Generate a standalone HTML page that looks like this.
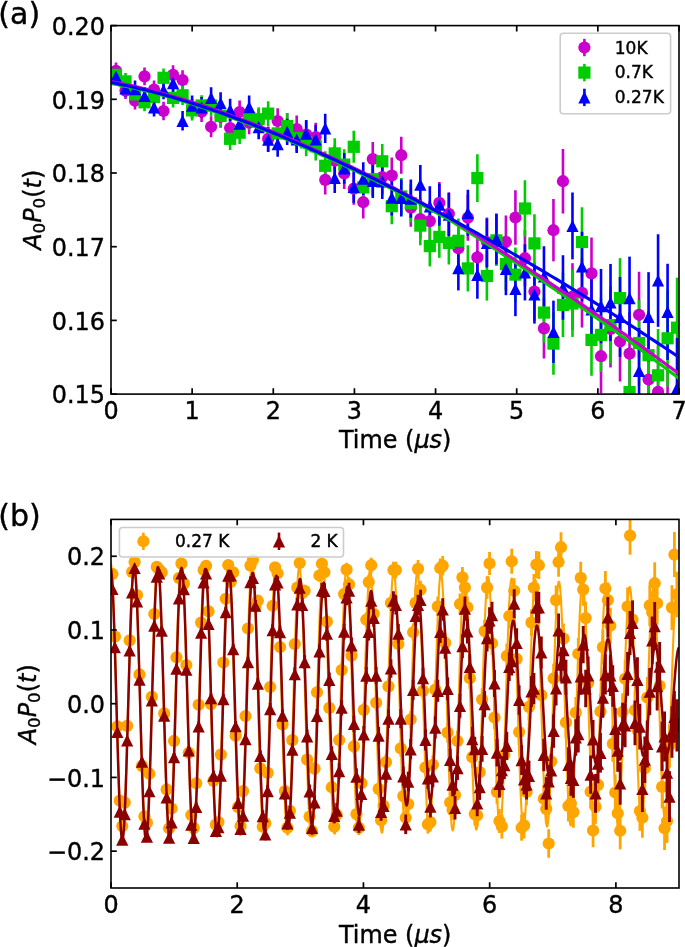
<!DOCTYPE html>
<html><head><meta charset="utf-8"><title>figure</title>
<style>html,body{margin:0;padding:0;background:#fff}svg{display:block}svg{will-change:transform}text{stroke:#000;stroke-width:0.4px;paint-order:stroke fill}</style></head>
<body>
<svg width="685" height="947" viewBox="0 0 685 947" font-family='"DejaVu Sans", "Liberation Sans", sans-serif' fill="#000">
<rect width="685" height="947" fill="#fff"/>
<defs><clipPath id="ca"><rect x="111.0" y="25.6" width="568.0" height="368.5"/></clipPath><clipPath id="cb"><rect x="111.0" y="519.4" width="568.0" height="368.6"/></clipPath></defs>
<g clip-path="url(#ca)">
<path d="M116.00 62.60V79.20" stroke="#cc00cc" stroke-width="2.6" fill="none"/>
<path d="M125.51 82.11V99.09" stroke="#cc00cc" stroke-width="2.6" fill="none"/>
<path d="M135.02 92.11V109.49" stroke="#cc00cc" stroke-width="2.6" fill="none"/>
<path d="M144.53 67.50V85.30" stroke="#cc00cc" stroke-width="2.6" fill="none"/>
<path d="M154.04 80.39V98.61" stroke="#cc00cc" stroke-width="2.6" fill="none"/>
<path d="M163.55 101.67V120.33" stroke="#cc00cc" stroke-width="2.6" fill="none"/>
<path d="M173.06 65.34V84.46" stroke="#cc00cc" stroke-width="2.6" fill="none"/>
<path d="M182.57 70.20V89.80" stroke="#cc00cc" stroke-width="2.6" fill="none"/>
<path d="M192.08 98.95V119.05" stroke="#cc00cc" stroke-width="2.6" fill="none"/>
<path d="M201.59 101.40V122.00" stroke="#cc00cc" stroke-width="2.6" fill="none"/>
<path d="M211.10 116.23V137.37" stroke="#cc00cc" stroke-width="2.6" fill="none"/>
<path d="M220.61 105.96V127.64" stroke="#cc00cc" stroke-width="2.6" fill="none"/>
<path d="M230.12 116.88V139.12" stroke="#cc00cc" stroke-width="2.6" fill="none"/>
<path d="M239.63 100.58V123.42" stroke="#cc00cc" stroke-width="2.6" fill="none"/>
<path d="M249.14 110.88V134.32" stroke="#cc00cc" stroke-width="2.6" fill="none"/>
<path d="M258.65 108.96V133.04" stroke="#cc00cc" stroke-width="2.6" fill="none"/>
<path d="M268.16 126.53V151.27" stroke="#cc00cc" stroke-width="2.6" fill="none"/>
<path d="M277.67 108.29V133.71" stroke="#cc00cc" stroke-width="2.6" fill="none"/>
<path d="M287.18 112.94V139.06" stroke="#cc00cc" stroke-width="2.6" fill="none"/>
<path d="M296.69 115.58V142.42" stroke="#cc00cc" stroke-width="2.6" fill="none"/>
<path d="M306.20 120.70V148.30" stroke="#cc00cc" stroke-width="2.6" fill="none"/>
<path d="M315.71 122.80V151.20" stroke="#cc00cc" stroke-width="2.6" fill="none"/>
<path d="M325.22 165.29V194.51" stroke="#cc00cc" stroke-width="2.6" fill="none"/>
<path d="M334.73 145.57V175.63" stroke="#cc00cc" stroke-width="2.6" fill="none"/>
<path d="M344.24 158.03V188.97" stroke="#cc00cc" stroke-width="2.6" fill="none"/>
<path d="M353.75 172.77V204.63" stroke="#cc00cc" stroke-width="2.6" fill="none"/>
<path d="M363.26 185.79V218.61" stroke="#cc00cc" stroke-width="2.6" fill="none"/>
<path d="M372.77 142.10V175.90" stroke="#cc00cc" stroke-width="2.6" fill="none"/>
<path d="M382.28 159.59V194.41" stroke="#cc00cc" stroke-width="2.6" fill="none"/>
<path d="M391.79 157.55V193.45" stroke="#cc00cc" stroke-width="2.6" fill="none"/>
<path d="M401.30 136.70V173.70" stroke="#cc00cc" stroke-width="2.6" fill="none"/>
<path d="M410.81 188.62V226.78" stroke="#cc00cc" stroke-width="2.6" fill="none"/>
<path d="M420.32 199.32V238.68" stroke="#cc00cc" stroke-width="2.6" fill="none"/>
<path d="M429.83 200.80V241.40" stroke="#cc00cc" stroke-width="2.6" fill="none"/>
<path d="M439.34 181.95V223.85" stroke="#cc00cc" stroke-width="2.6" fill="none"/>
<path d="M448.85 192.18V235.42" stroke="#cc00cc" stroke-width="2.6" fill="none"/>
<path d="M458.36 225.97V270.63" stroke="#cc00cc" stroke-width="2.6" fill="none"/>
<path d="M467.87 194.74V240.86" stroke="#cc00cc" stroke-width="2.6" fill="none"/>
<path d="M477.38 233.58V281.22" stroke="#cc00cc" stroke-width="2.6" fill="none"/>
<path d="M486.89 217.39V266.61" stroke="#cc00cc" stroke-width="2.6" fill="none"/>
<path d="M496.40 214.56V265.44" stroke="#cc00cc" stroke-width="2.6" fill="none"/>
<path d="M505.91 215.50V268.10" stroke="#cc00cc" stroke-width="2.6" fill="none"/>
<path d="M515.42 190.31V244.69" stroke="#cc00cc" stroke-width="2.6" fill="none"/>
<path d="M524.93 230.07V286.33" stroke="#cc00cc" stroke-width="2.6" fill="none"/>
<path d="M534.44 262.40V320.60" stroke="#cc00cc" stroke-width="2.6" fill="none"/>
<path d="M543.95 298.28V358.52" stroke="#cc00cc" stroke-width="2.6" fill="none"/>
<path d="M553.46 199.03V261.37" stroke="#cc00cc" stroke-width="2.6" fill="none"/>
<path d="M562.97 148.92V213.48" stroke="#cc00cc" stroke-width="2.6" fill="none"/>
<path d="M572.48 263.17V330.03" stroke="#cc00cc" stroke-width="2.6" fill="none"/>
<path d="M581.99 258.27V327.53" stroke="#cc00cc" stroke-width="2.6" fill="none"/>
<path d="M591.50 237.52V309.28" stroke="#cc00cc" stroke-width="2.6" fill="none"/>
<path d="M601.01 319.01V393.39" stroke="#cc00cc" stroke-width="2.6" fill="none"/>
<path d="M610.52 290.34V367.46" stroke="#cc00cc" stroke-width="2.6" fill="none"/>
<path d="M620.03 301.52V381.48" stroke="#cc00cc" stroke-width="2.6" fill="none"/>
<path d="M629.54 312.13V395.07" stroke="#cc00cc" stroke-width="2.6" fill="none"/>
<path d="M639.05 271.77V357.83" stroke="#cc00cc" stroke-width="2.6" fill="none"/>
<path d="M648.56 334.85V424.15" stroke="#cc00cc" stroke-width="2.6" fill="none"/>
<path d="M658.07 345.55V438.25" stroke="#cc00cc" stroke-width="2.6" fill="none"/>
<path d="M667.58 363.87V460.13" stroke="#cc00cc" stroke-width="2.6" fill="none"/>
<path d="M677.09 370.01V469.99" stroke="#cc00cc" stroke-width="2.6" fill="none"/>
<path d="M116.00 66.50V83.10" stroke="#00cc00" stroke-width="2.6" fill="none"/>
<path d="M125.51 72.91V89.89" stroke="#00cc00" stroke-width="2.6" fill="none"/>
<path d="M135.02 85.71V103.09" stroke="#00cc00" stroke-width="2.6" fill="none"/>
<path d="M144.53 93.40V111.20" stroke="#00cc00" stroke-width="2.6" fill="none"/>
<path d="M154.04 87.89V106.11" stroke="#00cc00" stroke-width="2.6" fill="none"/>
<path d="M163.55 68.47V87.13" stroke="#00cc00" stroke-width="2.6" fill="none"/>
<path d="M173.06 88.34V107.46" stroke="#00cc00" stroke-width="2.6" fill="none"/>
<path d="M182.57 85.50V105.10" stroke="#00cc00" stroke-width="2.6" fill="none"/>
<path d="M192.08 100.35V120.45" stroke="#00cc00" stroke-width="2.6" fill="none"/>
<path d="M201.59 95.20V115.80" stroke="#00cc00" stroke-width="2.6" fill="none"/>
<path d="M211.10 95.03V116.17" stroke="#00cc00" stroke-width="2.6" fill="none"/>
<path d="M220.61 105.16V126.84" stroke="#00cc00" stroke-width="2.6" fill="none"/>
<path d="M230.12 127.68V149.92" stroke="#00cc00" stroke-width="2.6" fill="none"/>
<path d="M239.63 121.28V144.12" stroke="#00cc00" stroke-width="2.6" fill="none"/>
<path d="M249.14 106.28V129.72" stroke="#00cc00" stroke-width="2.6" fill="none"/>
<path d="M258.65 107.16V131.24" stroke="#00cc00" stroke-width="2.6" fill="none"/>
<path d="M268.16 101.23V125.97" stroke="#00cc00" stroke-width="2.6" fill="none"/>
<path d="M277.67 120.69V146.11" stroke="#00cc00" stroke-width="2.6" fill="none"/>
<path d="M287.18 112.94V139.06" stroke="#00cc00" stroke-width="2.6" fill="none"/>
<path d="M296.69 124.58V151.42" stroke="#00cc00" stroke-width="2.6" fill="none"/>
<path d="M306.20 128.60V156.20" stroke="#00cc00" stroke-width="2.6" fill="none"/>
<path d="M315.71 132.10V160.50" stroke="#00cc00" stroke-width="2.6" fill="none"/>
<path d="M325.22 151.19V180.41" stroke="#00cc00" stroke-width="2.6" fill="none"/>
<path d="M334.73 138.37V168.43" stroke="#00cc00" stroke-width="2.6" fill="none"/>
<path d="M344.24 149.13V180.07" stroke="#00cc00" stroke-width="2.6" fill="none"/>
<path d="M353.75 130.87V162.73" stroke="#00cc00" stroke-width="2.6" fill="none"/>
<path d="M363.26 170.99V203.81" stroke="#00cc00" stroke-width="2.6" fill="none"/>
<path d="M372.77 162.30V196.10" stroke="#00cc00" stroke-width="2.6" fill="none"/>
<path d="M382.28 143.89V178.71" stroke="#00cc00" stroke-width="2.6" fill="none"/>
<path d="M391.79 188.25V224.15" stroke="#00cc00" stroke-width="2.6" fill="none"/>
<path d="M401.30 178.00V215.00" stroke="#00cc00" stroke-width="2.6" fill="none"/>
<path d="M410.81 184.22V222.38" stroke="#00cc00" stroke-width="2.6" fill="none"/>
<path d="M420.32 205.92V245.28" stroke="#00cc00" stroke-width="2.6" fill="none"/>
<path d="M429.83 225.80V266.40" stroke="#00cc00" stroke-width="2.6" fill="none"/>
<path d="M439.34 215.95V257.85" stroke="#00cc00" stroke-width="2.6" fill="none"/>
<path d="M448.85 221.28V264.52" stroke="#00cc00" stroke-width="2.6" fill="none"/>
<path d="M458.36 218.47V263.13" stroke="#00cc00" stroke-width="2.6" fill="none"/>
<path d="M467.87 245.34V291.46" stroke="#00cc00" stroke-width="2.6" fill="none"/>
<path d="M477.38 154.28V201.92" stroke="#00cc00" stroke-width="2.6" fill="none"/>
<path d="M486.89 251.39V300.61" stroke="#00cc00" stroke-width="2.6" fill="none"/>
<path d="M496.40 214.96V265.84" stroke="#00cc00" stroke-width="2.6" fill="none"/>
<path d="M505.91 237.80V290.40" stroke="#00cc00" stroke-width="2.6" fill="none"/>
<path d="M515.42 247.41V301.79" stroke="#00cc00" stroke-width="2.6" fill="none"/>
<path d="M524.93 180.37V236.63" stroke="#00cc00" stroke-width="2.6" fill="none"/>
<path d="M534.44 214.30V272.50" stroke="#00cc00" stroke-width="2.6" fill="none"/>
<path d="M543.95 282.48V342.72" stroke="#00cc00" stroke-width="2.6" fill="none"/>
<path d="M553.46 312.43V374.77" stroke="#00cc00" stroke-width="2.6" fill="none"/>
<path d="M562.97 272.62V337.18" stroke="#00cc00" stroke-width="2.6" fill="none"/>
<path d="M572.48 270.07V336.93" stroke="#00cc00" stroke-width="2.6" fill="none"/>
<path d="M581.99 207.37V276.63" stroke="#00cc00" stroke-width="2.6" fill="none"/>
<path d="M591.50 304.02V375.78" stroke="#00cc00" stroke-width="2.6" fill="none"/>
<path d="M601.01 297.71V372.09" stroke="#00cc00" stroke-width="2.6" fill="none"/>
<path d="M610.52 286.54V363.66" stroke="#00cc00" stroke-width="2.6" fill="none"/>
<path d="M620.03 258.12V338.08" stroke="#00cc00" stroke-width="2.6" fill="none"/>
<path d="M629.54 350.63V433.57" stroke="#00cc00" stroke-width="2.6" fill="none"/>
<path d="M639.05 299.97V386.03" stroke="#00cc00" stroke-width="2.6" fill="none"/>
<path d="M648.56 310.55V399.85" stroke="#00cc00" stroke-width="2.6" fill="none"/>
<path d="M658.07 328.95V421.65" stroke="#00cc00" stroke-width="2.6" fill="none"/>
<path d="M667.58 290.17V386.43" stroke="#00cc00" stroke-width="2.6" fill="none"/>
<path d="M677.09 277.71V377.69" stroke="#00cc00" stroke-width="2.6" fill="none"/>
<path d="M116.00 68.20V84.80" stroke="#0000ff" stroke-width="2.6" fill="none"/>
<path d="M125.51 80.01V96.99" stroke="#0000ff" stroke-width="2.6" fill="none"/>
<path d="M135.02 80.51V97.89" stroke="#0000ff" stroke-width="2.6" fill="none"/>
<path d="M144.53 86.90V104.70" stroke="#0000ff" stroke-width="2.6" fill="none"/>
<path d="M154.04 98.29V116.51" stroke="#0000ff" stroke-width="2.6" fill="none"/>
<path d="M163.55 80.67V99.33" stroke="#0000ff" stroke-width="2.6" fill="none"/>
<path d="M173.06 73.54V92.66" stroke="#0000ff" stroke-width="2.6" fill="none"/>
<path d="M182.57 111.00V130.60" stroke="#0000ff" stroke-width="2.6" fill="none"/>
<path d="M192.08 95.55V115.65" stroke="#0000ff" stroke-width="2.6" fill="none"/>
<path d="M201.59 97.10V117.70" stroke="#0000ff" stroke-width="2.6" fill="none"/>
<path d="M211.10 87.23V108.37" stroke="#0000ff" stroke-width="2.6" fill="none"/>
<path d="M220.61 92.26V113.94" stroke="#0000ff" stroke-width="2.6" fill="none"/>
<path d="M230.12 98.68V120.92" stroke="#0000ff" stroke-width="2.6" fill="none"/>
<path d="M239.63 112.28V135.12" stroke="#0000ff" stroke-width="2.6" fill="none"/>
<path d="M249.14 95.38V118.82" stroke="#0000ff" stroke-width="2.6" fill="none"/>
<path d="M258.65 115.16V139.24" stroke="#0000ff" stroke-width="2.6" fill="none"/>
<path d="M268.16 127.33V152.07" stroke="#0000ff" stroke-width="2.6" fill="none"/>
<path d="M277.67 131.39V156.81" stroke="#0000ff" stroke-width="2.6" fill="none"/>
<path d="M287.18 118.84V144.96" stroke="#0000ff" stroke-width="2.6" fill="none"/>
<path d="M296.69 126.08V152.92" stroke="#0000ff" stroke-width="2.6" fill="none"/>
<path d="M306.20 119.90V147.50" stroke="#0000ff" stroke-width="2.6" fill="none"/>
<path d="M315.71 125.10V153.50" stroke="#0000ff" stroke-width="2.6" fill="none"/>
<path d="M325.22 113.79V143.01" stroke="#0000ff" stroke-width="2.6" fill="none"/>
<path d="M334.73 162.87V192.93" stroke="#0000ff" stroke-width="2.6" fill="none"/>
<path d="M344.24 152.93V183.87" stroke="#0000ff" stroke-width="2.6" fill="none"/>
<path d="M353.75 170.87V202.73" stroke="#0000ff" stroke-width="2.6" fill="none"/>
<path d="M363.26 162.19V195.01" stroke="#0000ff" stroke-width="2.6" fill="none"/>
<path d="M372.77 164.10V197.90" stroke="#0000ff" stroke-width="2.6" fill="none"/>
<path d="M382.28 164.09V198.91" stroke="#0000ff" stroke-width="2.6" fill="none"/>
<path d="M391.79 179.65V215.55" stroke="#0000ff" stroke-width="2.6" fill="none"/>
<path d="M401.30 179.50V216.50" stroke="#0000ff" stroke-width="2.6" fill="none"/>
<path d="M410.81 179.52V217.68" stroke="#0000ff" stroke-width="2.6" fill="none"/>
<path d="M420.32 164.92V204.28" stroke="#0000ff" stroke-width="2.6" fill="none"/>
<path d="M429.83 186.20V226.80" stroke="#0000ff" stroke-width="2.6" fill="none"/>
<path d="M439.34 183.75V225.65" stroke="#0000ff" stroke-width="2.6" fill="none"/>
<path d="M448.85 192.98V236.22" stroke="#0000ff" stroke-width="2.6" fill="none"/>
<path d="M458.36 245.77V290.43" stroke="#0000ff" stroke-width="2.6" fill="none"/>
<path d="M467.87 189.74V235.86" stroke="#0000ff" stroke-width="2.6" fill="none"/>
<path d="M477.38 251.08V298.72" stroke="#0000ff" stroke-width="2.6" fill="none"/>
<path d="M486.89 218.39V267.61" stroke="#0000ff" stroke-width="2.6" fill="none"/>
<path d="M496.40 213.46V264.34" stroke="#0000ff" stroke-width="2.6" fill="none"/>
<path d="M505.91 242.60V295.20" stroke="#0000ff" stroke-width="2.6" fill="none"/>
<path d="M515.42 261.81V316.19" stroke="#0000ff" stroke-width="2.6" fill="none"/>
<path d="M524.93 244.17V300.43" stroke="#0000ff" stroke-width="2.6" fill="none"/>
<path d="M534.44 265.40V323.60" stroke="#0000ff" stroke-width="2.6" fill="none"/>
<path d="M543.95 246.28V306.52" stroke="#0000ff" stroke-width="2.6" fill="none"/>
<path d="M553.46 300.63V362.97" stroke="#0000ff" stroke-width="2.6" fill="none"/>
<path d="M562.97 255.22V319.78" stroke="#0000ff" stroke-width="2.6" fill="none"/>
<path d="M572.48 192.47V259.33" stroke="#0000ff" stroke-width="2.6" fill="none"/>
<path d="M581.99 231.87V301.13" stroke="#0000ff" stroke-width="2.6" fill="none"/>
<path d="M591.50 273.42V345.18" stroke="#0000ff" stroke-width="2.6" fill="none"/>
<path d="M601.01 268.91V343.29" stroke="#0000ff" stroke-width="2.6" fill="none"/>
<path d="M610.52 263.94V341.06" stroke="#0000ff" stroke-width="2.6" fill="none"/>
<path d="M620.03 276.92V356.88" stroke="#0000ff" stroke-width="2.6" fill="none"/>
<path d="M629.54 256.63V339.57" stroke="#0000ff" stroke-width="2.6" fill="none"/>
<path d="M639.05 327.97V414.03" stroke="#0000ff" stroke-width="2.6" fill="none"/>
<path d="M648.56 272.15V361.45" stroke="#0000ff" stroke-width="2.6" fill="none"/>
<path d="M658.07 234.15V326.85" stroke="#0000ff" stroke-width="2.6" fill="none"/>
<path d="M667.58 263.77V360.03" stroke="#0000ff" stroke-width="2.6" fill="none"/>
<path d="M677.09 338.01V437.99" stroke="#0000ff" stroke-width="2.6" fill="none"/>
<circle cx="116.00" cy="70.90" r="6.10" fill="#cc00cc"/>
<circle cx="125.51" cy="90.60" r="6.10" fill="#cc00cc"/>
<circle cx="135.02" cy="100.80" r="6.10" fill="#cc00cc"/>
<circle cx="144.53" cy="76.40" r="6.10" fill="#cc00cc"/>
<circle cx="154.04" cy="89.50" r="6.10" fill="#cc00cc"/>
<circle cx="163.55" cy="111.00" r="6.10" fill="#cc00cc"/>
<circle cx="173.06" cy="74.90" r="6.10" fill="#cc00cc"/>
<circle cx="182.57" cy="80.00" r="6.10" fill="#cc00cc"/>
<circle cx="192.08" cy="109.00" r="6.10" fill="#cc00cc"/>
<circle cx="201.59" cy="111.70" r="6.10" fill="#cc00cc"/>
<circle cx="211.10" cy="126.80" r="6.10" fill="#cc00cc"/>
<circle cx="220.61" cy="116.80" r="6.10" fill="#cc00cc"/>
<circle cx="230.12" cy="128.00" r="6.10" fill="#cc00cc"/>
<circle cx="239.63" cy="112.00" r="6.10" fill="#cc00cc"/>
<circle cx="249.14" cy="122.60" r="6.10" fill="#cc00cc"/>
<circle cx="258.65" cy="121.00" r="6.10" fill="#cc00cc"/>
<circle cx="268.16" cy="138.90" r="6.10" fill="#cc00cc"/>
<circle cx="277.67" cy="121.00" r="6.10" fill="#cc00cc"/>
<circle cx="287.18" cy="126.00" r="6.10" fill="#cc00cc"/>
<circle cx="296.69" cy="129.00" r="6.10" fill="#cc00cc"/>
<circle cx="306.20" cy="134.50" r="6.10" fill="#cc00cc"/>
<circle cx="315.71" cy="137.00" r="6.10" fill="#cc00cc"/>
<circle cx="325.22" cy="179.90" r="6.10" fill="#cc00cc"/>
<circle cx="334.73" cy="160.60" r="6.10" fill="#cc00cc"/>
<circle cx="344.24" cy="173.50" r="6.10" fill="#cc00cc"/>
<circle cx="353.75" cy="188.70" r="6.10" fill="#cc00cc"/>
<circle cx="363.26" cy="202.20" r="6.10" fill="#cc00cc"/>
<circle cx="372.77" cy="159.00" r="6.10" fill="#cc00cc"/>
<circle cx="382.28" cy="177.00" r="6.10" fill="#cc00cc"/>
<circle cx="391.79" cy="175.50" r="6.10" fill="#cc00cc"/>
<circle cx="401.30" cy="155.20" r="6.10" fill="#cc00cc"/>
<circle cx="410.81" cy="207.70" r="6.10" fill="#cc00cc"/>
<circle cx="420.32" cy="219.00" r="6.10" fill="#cc00cc"/>
<circle cx="429.83" cy="221.10" r="6.10" fill="#cc00cc"/>
<circle cx="439.34" cy="202.90" r="6.10" fill="#cc00cc"/>
<circle cx="448.85" cy="213.80" r="6.10" fill="#cc00cc"/>
<circle cx="458.36" cy="248.30" r="6.10" fill="#cc00cc"/>
<circle cx="467.87" cy="217.80" r="6.10" fill="#cc00cc"/>
<circle cx="477.38" cy="257.40" r="6.10" fill="#cc00cc"/>
<circle cx="486.89" cy="242.00" r="6.10" fill="#cc00cc"/>
<circle cx="496.40" cy="240.00" r="6.10" fill="#cc00cc"/>
<circle cx="505.91" cy="241.80" r="6.10" fill="#cc00cc"/>
<circle cx="515.42" cy="217.50" r="6.10" fill="#cc00cc"/>
<circle cx="524.93" cy="258.20" r="6.10" fill="#cc00cc"/>
<circle cx="534.44" cy="291.50" r="6.10" fill="#cc00cc"/>
<circle cx="543.95" cy="328.40" r="6.10" fill="#cc00cc"/>
<circle cx="553.46" cy="230.20" r="6.10" fill="#cc00cc"/>
<circle cx="562.97" cy="181.20" r="6.10" fill="#cc00cc"/>
<circle cx="572.48" cy="296.60" r="6.10" fill="#cc00cc"/>
<circle cx="581.99" cy="292.90" r="6.10" fill="#cc00cc"/>
<circle cx="591.50" cy="273.40" r="6.10" fill="#cc00cc"/>
<circle cx="601.01" cy="356.20" r="6.10" fill="#cc00cc"/>
<circle cx="610.52" cy="328.90" r="6.10" fill="#cc00cc"/>
<circle cx="620.03" cy="341.50" r="6.10" fill="#cc00cc"/>
<circle cx="629.54" cy="353.60" r="6.10" fill="#cc00cc"/>
<circle cx="639.05" cy="314.80" r="6.10" fill="#cc00cc"/>
<circle cx="648.56" cy="379.50" r="6.10" fill="#cc00cc"/>
<circle cx="658.07" cy="391.90" r="6.10" fill="#cc00cc"/>
<circle cx="667.58" cy="412.00" r="6.10" fill="#cc00cc"/>
<circle cx="677.09" cy="420.00" r="6.10" fill="#cc00cc"/>
<rect x="109.90" y="68.70" width="12.20" height="12.20" fill="#00cc00"/>
<rect x="119.41" y="75.30" width="12.20" height="12.20" fill="#00cc00"/>
<rect x="128.92" y="88.30" width="12.20" height="12.20" fill="#00cc00"/>
<rect x="138.43" y="96.20" width="12.20" height="12.20" fill="#00cc00"/>
<rect x="147.94" y="90.90" width="12.20" height="12.20" fill="#00cc00"/>
<rect x="157.45" y="71.70" width="12.20" height="12.20" fill="#00cc00"/>
<rect x="166.96" y="91.80" width="12.20" height="12.20" fill="#00cc00"/>
<rect x="176.47" y="89.20" width="12.20" height="12.20" fill="#00cc00"/>
<rect x="185.98" y="104.30" width="12.20" height="12.20" fill="#00cc00"/>
<rect x="195.49" y="99.40" width="12.20" height="12.20" fill="#00cc00"/>
<rect x="205.00" y="99.50" width="12.20" height="12.20" fill="#00cc00"/>
<rect x="214.51" y="109.90" width="12.20" height="12.20" fill="#00cc00"/>
<rect x="224.02" y="132.70" width="12.20" height="12.20" fill="#00cc00"/>
<rect x="233.53" y="126.60" width="12.20" height="12.20" fill="#00cc00"/>
<rect x="243.04" y="111.90" width="12.20" height="12.20" fill="#00cc00"/>
<rect x="252.55" y="113.10" width="12.20" height="12.20" fill="#00cc00"/>
<rect x="262.06" y="107.50" width="12.20" height="12.20" fill="#00cc00"/>
<rect x="271.57" y="127.30" width="12.20" height="12.20" fill="#00cc00"/>
<rect x="281.08" y="119.90" width="12.20" height="12.20" fill="#00cc00"/>
<rect x="290.59" y="131.90" width="12.20" height="12.20" fill="#00cc00"/>
<rect x="300.10" y="136.30" width="12.20" height="12.20" fill="#00cc00"/>
<rect x="309.61" y="140.20" width="12.20" height="12.20" fill="#00cc00"/>
<rect x="319.12" y="159.70" width="12.20" height="12.20" fill="#00cc00"/>
<rect x="328.63" y="147.30" width="12.20" height="12.20" fill="#00cc00"/>
<rect x="338.14" y="158.50" width="12.20" height="12.20" fill="#00cc00"/>
<rect x="347.65" y="140.70" width="12.20" height="12.20" fill="#00cc00"/>
<rect x="357.16" y="181.30" width="12.20" height="12.20" fill="#00cc00"/>
<rect x="366.67" y="173.10" width="12.20" height="12.20" fill="#00cc00"/>
<rect x="376.18" y="155.20" width="12.20" height="12.20" fill="#00cc00"/>
<rect x="385.69" y="200.10" width="12.20" height="12.20" fill="#00cc00"/>
<rect x="395.20" y="190.40" width="12.20" height="12.20" fill="#00cc00"/>
<rect x="404.71" y="197.20" width="12.20" height="12.20" fill="#00cc00"/>
<rect x="414.22" y="219.50" width="12.20" height="12.20" fill="#00cc00"/>
<rect x="423.73" y="240.00" width="12.20" height="12.20" fill="#00cc00"/>
<rect x="433.24" y="230.80" width="12.20" height="12.20" fill="#00cc00"/>
<rect x="442.75" y="236.80" width="12.20" height="12.20" fill="#00cc00"/>
<rect x="452.26" y="234.70" width="12.20" height="12.20" fill="#00cc00"/>
<rect x="461.77" y="262.30" width="12.20" height="12.20" fill="#00cc00"/>
<rect x="471.28" y="172.00" width="12.20" height="12.20" fill="#00cc00"/>
<rect x="480.79" y="269.90" width="12.20" height="12.20" fill="#00cc00"/>
<rect x="490.30" y="234.30" width="12.20" height="12.20" fill="#00cc00"/>
<rect x="499.81" y="258.00" width="12.20" height="12.20" fill="#00cc00"/>
<rect x="509.32" y="268.50" width="12.20" height="12.20" fill="#00cc00"/>
<rect x="518.83" y="202.40" width="12.20" height="12.20" fill="#00cc00"/>
<rect x="528.34" y="237.30" width="12.20" height="12.20" fill="#00cc00"/>
<rect x="537.85" y="306.50" width="12.20" height="12.20" fill="#00cc00"/>
<rect x="547.36" y="337.50" width="12.20" height="12.20" fill="#00cc00"/>
<rect x="556.87" y="298.80" width="12.20" height="12.20" fill="#00cc00"/>
<rect x="566.38" y="297.40" width="12.20" height="12.20" fill="#00cc00"/>
<rect x="575.89" y="235.90" width="12.20" height="12.20" fill="#00cc00"/>
<rect x="585.40" y="333.80" width="12.20" height="12.20" fill="#00cc00"/>
<rect x="594.91" y="328.80" width="12.20" height="12.20" fill="#00cc00"/>
<rect x="604.42" y="319.00" width="12.20" height="12.20" fill="#00cc00"/>
<rect x="613.93" y="292.00" width="12.20" height="12.20" fill="#00cc00"/>
<rect x="623.44" y="386.00" width="12.20" height="12.20" fill="#00cc00"/>
<rect x="632.95" y="336.90" width="12.20" height="12.20" fill="#00cc00"/>
<rect x="642.46" y="349.10" width="12.20" height="12.20" fill="#00cc00"/>
<rect x="651.97" y="369.20" width="12.20" height="12.20" fill="#00cc00"/>
<rect x="661.48" y="332.20" width="12.20" height="12.20" fill="#00cc00"/>
<rect x="670.99" y="321.60" width="12.20" height="12.20" fill="#00cc00"/>
<path d="M116.00 70.40L122.10 82.60L109.90 82.60Z" fill="#0000ff"/>
<path d="M125.51 82.40L131.61 94.60L119.41 94.60Z" fill="#0000ff"/>
<path d="M135.02 83.10L141.12 95.30L128.92 95.30Z" fill="#0000ff"/>
<path d="M144.53 89.70L150.63 101.90L138.43 101.90Z" fill="#0000ff"/>
<path d="M154.04 101.30L160.14 113.50L147.94 113.50Z" fill="#0000ff"/>
<path d="M163.55 83.90L169.65 96.10L157.45 96.10Z" fill="#0000ff"/>
<path d="M173.06 77.00L179.16 89.20L166.96 89.20Z" fill="#0000ff"/>
<path d="M182.57 114.70L188.67 126.90L176.47 126.90Z" fill="#0000ff"/>
<path d="M192.08 99.50L198.18 111.70L185.98 111.70Z" fill="#0000ff"/>
<path d="M201.59 101.30L207.69 113.50L195.49 113.50Z" fill="#0000ff"/>
<path d="M211.10 91.70L217.20 103.90L205.00 103.90Z" fill="#0000ff"/>
<path d="M220.61 97.00L226.71 109.20L214.51 109.20Z" fill="#0000ff"/>
<path d="M230.12 103.70L236.22 115.90L224.02 115.90Z" fill="#0000ff"/>
<path d="M239.63 117.60L245.73 129.80L233.53 129.80Z" fill="#0000ff"/>
<path d="M249.14 101.00L255.24 113.20L243.04 113.20Z" fill="#0000ff"/>
<path d="M258.65 121.10L264.75 133.30L252.55 133.30Z" fill="#0000ff"/>
<path d="M268.16 133.60L274.26 145.80L262.06 145.80Z" fill="#0000ff"/>
<path d="M277.67 138.00L283.77 150.20L271.57 150.20Z" fill="#0000ff"/>
<path d="M287.18 125.80L293.28 138.00L281.08 138.00Z" fill="#0000ff"/>
<path d="M296.69 133.40L302.79 145.60L290.59 145.60Z" fill="#0000ff"/>
<path d="M306.20 127.60L312.30 139.80L300.10 139.80Z" fill="#0000ff"/>
<path d="M315.71 133.20L321.81 145.40L309.61 145.40Z" fill="#0000ff"/>
<path d="M325.22 122.30L331.32 134.50L319.12 134.50Z" fill="#0000ff"/>
<path d="M334.73 171.80L340.83 184.00L328.63 184.00Z" fill="#0000ff"/>
<path d="M344.24 162.30L350.34 174.50L338.14 174.50Z" fill="#0000ff"/>
<path d="M353.75 180.70L359.85 192.90L347.65 192.90Z" fill="#0000ff"/>
<path d="M363.26 172.50L369.36 184.70L357.16 184.70Z" fill="#0000ff"/>
<path d="M372.77 174.90L378.87 187.10L366.67 187.10Z" fill="#0000ff"/>
<path d="M382.28 175.40L388.38 187.60L376.18 187.60Z" fill="#0000ff"/>
<path d="M391.79 191.50L397.89 203.70L385.69 203.70Z" fill="#0000ff"/>
<path d="M401.30 191.90L407.40 204.10L395.20 204.10Z" fill="#0000ff"/>
<path d="M410.81 192.50L416.91 204.70L404.71 204.70Z" fill="#0000ff"/>
<path d="M420.32 178.50L426.42 190.70L414.22 190.70Z" fill="#0000ff"/>
<path d="M429.83 200.40L435.93 212.60L423.73 212.60Z" fill="#0000ff"/>
<path d="M439.34 198.60L445.44 210.80L433.24 210.80Z" fill="#0000ff"/>
<path d="M448.85 208.50L454.95 220.70L442.75 220.70Z" fill="#0000ff"/>
<path d="M458.36 262.00L464.46 274.20L452.26 274.20Z" fill="#0000ff"/>
<path d="M467.87 206.70L473.97 218.90L461.77 218.90Z" fill="#0000ff"/>
<path d="M477.38 268.80L483.48 281.00L471.28 281.00Z" fill="#0000ff"/>
<path d="M486.89 236.90L492.99 249.10L480.79 249.10Z" fill="#0000ff"/>
<path d="M496.40 232.80L502.50 245.00L490.30 245.00Z" fill="#0000ff"/>
<path d="M505.91 262.80L512.01 275.00L499.81 275.00Z" fill="#0000ff"/>
<path d="M515.42 282.90L521.52 295.10L509.32 295.10Z" fill="#0000ff"/>
<path d="M524.93 266.20L531.03 278.40L518.83 278.40Z" fill="#0000ff"/>
<path d="M534.44 288.40L540.54 300.60L528.34 300.60Z" fill="#0000ff"/>
<path d="M543.95 270.30L550.05 282.50L537.85 282.50Z" fill="#0000ff"/>
<path d="M553.46 325.70L559.56 337.90L547.36 337.90Z" fill="#0000ff"/>
<path d="M562.97 281.40L569.07 293.60L556.87 293.60Z" fill="#0000ff"/>
<path d="M572.48 219.80L578.58 232.00L566.38 232.00Z" fill="#0000ff"/>
<path d="M581.99 260.40L588.09 272.60L575.89 272.60Z" fill="#0000ff"/>
<path d="M591.50 303.20L597.60 315.40L585.40 315.40Z" fill="#0000ff"/>
<path d="M601.01 300.00L607.11 312.20L594.91 312.20Z" fill="#0000ff"/>
<path d="M610.52 296.40L616.62 308.60L604.42 308.60Z" fill="#0000ff"/>
<path d="M620.03 310.80L626.13 323.00L613.93 323.00Z" fill="#0000ff"/>
<path d="M629.54 292.00L635.64 304.20L623.44 304.20Z" fill="#0000ff"/>
<path d="M639.05 364.90L645.15 377.10L632.95 377.10Z" fill="#0000ff"/>
<path d="M648.56 310.70L654.66 322.90L642.46 322.90Z" fill="#0000ff"/>
<path d="M658.07 274.40L664.17 286.60L651.97 286.60Z" fill="#0000ff"/>
<path d="M667.58 305.80L673.68 318.00L661.48 318.00Z" fill="#0000ff"/>
<path d="M677.09 381.90L683.19 394.10L670.99 394.10Z" fill="#0000ff"/>
<polyline points="111.00,83.41 115.09,84.20 119.17,85.02 123.26,85.86 127.35,86.74 131.43,87.64 135.52,88.57 139.60,89.53 143.69,90.52 147.78,91.53 151.86,92.58 155.95,93.64 160.04,94.74 164.12,95.86 168.21,97.00 172.29,98.17 176.38,99.36 180.47,100.58 184.55,101.82 188.64,103.09 192.73,104.37 196.81,105.68 200.90,107.01 204.99,108.37 209.07,109.74 213.16,111.14 217.24,112.56 221.33,114.00 225.42,115.46 229.50,116.94 233.59,118.43 237.68,119.95 241.76,121.49 245.85,123.04 249.94,124.62 254.02,126.21 258.11,127.82 262.19,129.45 266.28,131.09 270.37,132.76 274.45,134.44 278.54,136.13 282.63,137.84 286.71,139.57 290.80,141.32 294.88,143.08 298.97,144.85 303.06,146.65 307.14,148.46 311.23,150.28 315.32,152.12 319.40,153.98 323.49,155.84 327.58,157.73 331.66,159.62 335.75,161.53 339.83,163.45 343.92,165.39 348.01,167.34 352.09,169.30 356.18,171.27 360.27,173.26 364.35,175.25 368.44,177.26 372.53,179.28 376.61,181.32 380.70,183.36 384.78,185.42 388.87,187.48 392.96,189.56 397.04,191.65 401.13,193.77 405.22,195.93 409.30,198.11 413.39,200.30 417.47,202.50 421.56,204.71 425.65,206.93 429.73,209.16 433.82,211.40 437.91,213.64 441.99,215.90 446.08,218.17 450.17,220.46 454.25,223.04 458.34,225.63 462.42,228.22 466.51,230.83 470.60,233.44 474.68,236.06 478.77,238.70 482.86,241.34 486.94,243.99 491.03,246.65 495.12,249.32 499.20,252.01 503.29,254.70 507.37,257.39 511.46,260.10 515.55,262.82 519.63,265.54 523.72,268.28 527.81,271.02 531.89,273.78 535.98,276.54 540.06,279.31 544.15,282.09 548.24,284.88 552.32,287.67 556.41,290.48 560.50,293.29 564.58,296.05 568.67,298.82 572.76,301.61 576.84,304.40 580.93,307.20 585.01,310.00 589.10,312.82 593.19,315.65 597.27,318.49 601.36,321.34 605.45,324.20 609.53,327.06 613.62,329.99 617.71,332.94 621.79,335.90 625.88,338.86 629.96,341.84 634.05,344.83 638.14,347.83 642.22,350.84 646.31,353.86 650.40,356.89 654.48,359.93 658.57,362.99 662.65,366.05 666.74,369.13 670.83,372.22 674.91,375.32 679.00,378.40" fill="none" stroke="#00cc00" stroke-width="3.1" stroke-linejoin="round"/>
<polyline points="111.00,81.41 115.09,82.20 119.17,83.01 123.26,83.86 127.35,84.73 131.43,85.63 135.52,86.56 139.60,87.52 143.69,88.50 147.78,89.52 151.86,90.55 155.95,91.62 160.04,92.71 164.12,93.83 168.21,94.97 172.29,96.14 176.38,97.33 180.47,98.54 184.55,99.78 188.64,101.04 192.73,102.33 196.81,103.64 200.90,104.97 204.99,106.32 209.07,107.69 213.16,109.09 217.24,110.50 221.33,111.94 225.42,113.40 229.50,114.87 233.59,116.37 237.68,117.88 241.76,119.42 245.85,120.97 249.94,122.54 254.02,124.14 258.11,125.74 262.19,127.37 266.28,129.01 270.37,130.67 274.45,132.35 278.54,134.04 282.63,135.75 286.71,137.48 290.80,139.22 294.88,140.98 298.97,142.75 303.06,144.55 307.14,146.36 311.23,148.18 315.32,150.02 319.40,151.88 323.49,153.74 327.58,155.63 331.66,157.52 335.75,159.43 339.83,161.35 343.92,163.29 348.01,165.24 352.09,167.20 356.18,169.17 360.27,171.16 364.35,173.15 368.44,175.16 372.53,177.18 376.61,179.22 380.70,181.26 384.78,183.32 388.87,185.38 392.96,187.46 397.04,189.55 401.13,191.67 405.22,193.84 409.30,196.03 413.39,198.23 417.47,200.43 421.56,202.65 425.65,204.88 429.73,207.12 433.82,209.36 437.91,211.62 441.99,213.89 446.08,216.16 450.17,218.46 454.25,221.03 458.34,223.60 462.42,226.19 466.51,228.78 470.60,231.39 474.68,234.00 478.77,236.62 482.86,239.25 486.94,241.89 491.03,244.51 495.12,247.12 499.20,249.73 503.29,252.36 507.37,255.00 511.46,257.64 515.55,260.30 519.63,262.96 523.72,265.63 527.81,268.31 531.89,271.01 535.98,273.70 540.06,276.41 544.15,279.13 548.24,281.86 552.32,284.59 556.41,287.34 560.50,290.09 564.58,292.83 568.67,295.57 572.76,298.33 576.84,301.09 580.93,303.87 585.01,306.65 589.10,309.45 593.19,312.25 597.27,315.07 601.36,317.89 605.45,320.72 609.53,323.57 613.62,326.43 617.71,329.30 621.79,332.19 625.88,335.08 629.96,337.99 634.05,340.91 638.14,343.83 642.22,346.77 646.31,349.72 650.40,352.68 654.48,355.65 658.57,358.64 662.65,361.63 666.74,364.64 670.83,367.66 674.91,370.69 679.00,373.70" fill="none" stroke="#cc00cc" stroke-width="3.1" stroke-linejoin="round"/>
<polyline points="111.00,82.51 115.09,83.30 119.17,84.11 123.26,84.96 127.35,85.83 131.43,86.73 135.52,87.66 139.60,88.62 143.69,89.60 147.78,90.62 151.86,91.65 155.95,92.72 160.04,93.81 164.12,94.93 168.21,96.07 172.29,97.24 176.38,98.43 180.47,99.64 184.55,100.88 188.64,102.14 192.73,103.43 196.81,104.74 200.90,106.07 204.99,107.42 209.07,108.79 213.16,110.19 217.24,111.60 221.33,113.04 225.42,114.50 229.50,115.97 233.59,117.47 237.68,118.98 241.76,120.52 245.85,122.07 249.94,123.64 254.02,125.24 258.11,126.84 262.19,128.47 266.28,130.11 270.37,131.77 274.45,133.45 278.54,135.14 282.63,136.85 286.71,138.58 290.80,140.32 294.88,142.08 298.97,143.85 303.06,145.64 307.14,147.44 311.23,149.26 315.32,151.09 319.40,152.94 323.49,154.80 327.58,156.67 331.66,158.56 335.75,160.46 339.83,162.37 343.92,164.30 348.01,166.24 352.09,168.19 356.18,170.16 360.27,172.14 364.35,174.12 368.44,176.13 372.53,178.14 376.61,180.16 380.70,182.20 384.78,184.25 388.87,186.31 392.96,188.38 397.04,190.46 401.13,192.55 405.22,194.65 409.30,196.76 413.39,198.89 417.47,201.02 421.56,203.16 425.65,205.32 429.73,207.48 433.82,209.65 437.91,211.84 441.99,214.03 446.08,216.23 450.17,218.45 454.25,220.67 458.34,222.90 462.42,225.14 466.51,227.39 470.60,229.65 474.68,231.92 478.77,234.20 482.86,236.49 486.94,238.78 491.03,241.09 495.12,243.40 499.20,245.73 503.29,248.06 507.37,250.40 511.46,252.75 515.55,255.11 519.63,257.48 523.72,259.85 527.81,262.24 531.89,264.64 535.98,267.04 540.06,269.45 544.15,271.87 548.24,274.31 552.32,276.75 556.41,279.20 560.50,281.65 564.58,284.12 568.67,286.60 572.76,289.09 576.84,291.58 580.93,294.09 585.01,296.60 589.10,299.13 593.19,301.66 597.27,304.21 601.36,306.76 605.45,309.32 609.53,311.90 613.62,314.48 617.71,317.08 621.79,319.68 625.88,322.30 629.96,324.92 634.05,327.56 638.14,330.21 642.22,332.86 646.31,335.53 650.40,338.21 654.48,340.91 658.57,343.61 662.65,346.32 666.74,349.05 670.83,351.79 674.91,354.54 679.00,357.30" fill="none" stroke="#0000ff" stroke-width="3.1" stroke-linejoin="round"/>
</g>
<path d="M111.00 394.1v-5.8M111.00 25.6v5.8" stroke="#000" stroke-width="1.7"/>
<path d="M192.14 394.1v-5.8M192.14 25.6v5.8" stroke="#000" stroke-width="1.7"/>
<path d="M273.29 394.1v-5.8M273.29 25.6v5.8" stroke="#000" stroke-width="1.7"/>
<path d="M354.43 394.1v-5.8M354.43 25.6v5.8" stroke="#000" stroke-width="1.7"/>
<path d="M435.57 394.1v-5.8M435.57 25.6v5.8" stroke="#000" stroke-width="1.7"/>
<path d="M516.71 394.1v-5.8M516.71 25.6v5.8" stroke="#000" stroke-width="1.7"/>
<path d="M597.86 394.1v-5.8M597.86 25.6v5.8" stroke="#000" stroke-width="1.7"/>
<path d="M679.00 394.1v-5.8M679.00 25.6v5.8" stroke="#000" stroke-width="1.7"/>
<path d="M111.0 394.10h5.8" stroke="#000" stroke-width="1.7"/>
<path d="M111.0 320.40h5.8" stroke="#000" stroke-width="1.7"/>
<path d="M111.0 246.70h5.8" stroke="#000" stroke-width="1.7"/>
<path d="M111.0 173.00h5.8" stroke="#000" stroke-width="1.7"/>
<path d="M111.0 99.30h5.8" stroke="#000" stroke-width="1.7"/>
<path d="M111.0 25.60h5.8" stroke="#000" stroke-width="1.7"/>
<rect x="111.0" y="25.6" width="568.0" height="368.5" fill="none" stroke="#000" stroke-width="1.6"/>
<text x="111.00" y="418.70" font-size="23.9" text-anchor="middle" >0</text>
<text x="192.14" y="418.70" font-size="23.9" text-anchor="middle" >1</text>
<text x="273.29" y="418.70" font-size="23.9" text-anchor="middle" >2</text>
<text x="354.43" y="418.70" font-size="23.9" text-anchor="middle" >3</text>
<text x="435.57" y="418.70" font-size="23.9" text-anchor="middle" >4</text>
<text x="516.71" y="418.70" font-size="23.9" text-anchor="middle" >5</text>
<text x="597.86" y="418.70" font-size="23.9" text-anchor="middle" >6</text>
<text x="679.00" y="418.70" font-size="23.9" text-anchor="middle" >7</text>
<text x="105.00" y="403.30" font-size="23.9" text-anchor="end" >0.15</text>
<text x="105.00" y="329.60" font-size="23.9" text-anchor="end" >0.16</text>
<text x="105.00" y="255.90" font-size="23.9" text-anchor="end" >0.17</text>
<text x="105.00" y="182.20" font-size="23.9" text-anchor="end" >0.18</text>
<text x="105.00" y="108.50" font-size="23.9" text-anchor="end" >0.19</text>
<text x="105.00" y="34.80" font-size="23.9" text-anchor="end" >0.20</text>
<text x="395.20" y="447.90" font-size="23.9" text-anchor="middle" >Time (<tspan font-style="italic">μs</tspan>)</text>
<text transform="translate(40.9 209.8) rotate(-90)" font-size="23.9" text-anchor="middle"><tspan font-style="italic">A</tspan><tspan font-size="16.73" dy="3.8">0</tspan><tspan font-style="italic" dy="-3.8">P</tspan><tspan font-size="16.73" dy="3.8">0</tspan><tspan dy="-3.8">(</tspan><tspan font-style="italic">t</tspan>)</text>
<text x="-1.70" y="23.60" font-size="30" text-anchor="start" >(a)</text>
<rect x="560.2" y="33.3" width="110.4" height="80.4" rx="3.3" fill="#fff" fill-opacity="0.8" stroke="#ccc" stroke-width="1.6"/>
<path d="M584.40 38.85V56.25" stroke="#cc00cc" stroke-width="2.6" fill="none"/>
<circle cx="584.40" cy="47.55" r="6.10" fill="#cc00cc"/>
<path d="M584.40 63.90V81.30" stroke="#00cc00" stroke-width="2.6" fill="none"/>
<rect x="578.30" y="66.50" width="12.20" height="12.20" fill="#00cc00"/>
<path d="M584.40 88.70V106.10" stroke="#0000ff" stroke-width="2.6" fill="none"/>
<path d="M584.40 91.30L590.50 103.50L578.30 103.50Z" fill="#0000ff"/>
<text x="614.80" y="53.50" font-size="17.0" text-anchor="start" >10K</text>
<text x="614.80" y="78.30" font-size="17.0" text-anchor="start" >0.7K</text>
<text x="614.80" y="103.00" font-size="17.0" text-anchor="start" >0.27K</text>
<g clip-path="url(#cb)">
<path d="M112.40 570.98V576.90" stroke="#ffa500" stroke-width="2.8" fill="none"/>
<path d="M114.87 633.64V639.62" stroke="#ffa500" stroke-width="2.8" fill="none"/>
<path d="M117.33 723.45V729.49" stroke="#ffa500" stroke-width="2.8" fill="none"/>
<path d="M119.80 797.59V803.68" stroke="#ffa500" stroke-width="2.8" fill="none"/>
<path d="M122.26 823.00V829.15" stroke="#ffa500" stroke-width="2.8" fill="none"/>
<path d="M124.73 799.50V805.70" stroke="#ffa500" stroke-width="2.8" fill="none"/>
<path d="M127.19 722.81V729.06" stroke="#ffa500" stroke-width="2.8" fill="none"/>
<path d="M129.66 637.19V643.50" stroke="#ffa500" stroke-width="2.8" fill="none"/>
<path d="M132.12 568.75V575.12" stroke="#ffa500" stroke-width="2.8" fill="none"/>
<path d="M134.59 558.89V565.31" stroke="#ffa500" stroke-width="2.8" fill="none"/>
<path d="M137.05 591.77V598.25" stroke="#ffa500" stroke-width="2.8" fill="none"/>
<path d="M139.52 671.19V677.72" stroke="#ffa500" stroke-width="2.8" fill="none"/>
<path d="M141.98 762.58V769.18" stroke="#ffa500" stroke-width="2.8" fill="none"/>
<path d="M144.44 812.92V819.58" stroke="#ffa500" stroke-width="2.8" fill="none"/>
<path d="M146.91 819.49V826.20" stroke="#ffa500" stroke-width="2.8" fill="none"/>
<path d="M149.38 770.30V777.07" stroke="#ffa500" stroke-width="2.8" fill="none"/>
<path d="M151.84 693.40V700.23" stroke="#ffa500" stroke-width="2.8" fill="none"/>
<path d="M154.31 610.54V617.43" stroke="#ffa500" stroke-width="2.8" fill="none"/>
<path d="M156.77 563.42V570.38" stroke="#ffa500" stroke-width="2.8" fill="none"/>
<path d="M159.24 566.20V573.22" stroke="#ffa500" stroke-width="2.8" fill="none"/>
<path d="M161.70 568.86V575.94" stroke="#ffa500" stroke-width="2.8" fill="none"/>
<path d="M164.17 709.90V717.05" stroke="#ffa500" stroke-width="2.8" fill="none"/>
<path d="M166.63 785.86V793.07" stroke="#ffa500" stroke-width="2.8" fill="none"/>
<path d="M169.09 824.65V831.92" stroke="#ffa500" stroke-width="2.8" fill="none"/>
<path d="M171.56 804.88V812.22" stroke="#ffa500" stroke-width="2.8" fill="none"/>
<path d="M174.03 737.27V744.67" stroke="#ffa500" stroke-width="2.8" fill="none"/>
<path d="M176.49 653.56V661.02" stroke="#ffa500" stroke-width="2.8" fill="none"/>
<path d="M178.95 574.23V581.77" stroke="#ffa500" stroke-width="2.8" fill="none"/>
<path d="M181.42 559.80V567.40" stroke="#ffa500" stroke-width="2.8" fill="none"/>
<path d="M183.88 579.81V587.48" stroke="#ffa500" stroke-width="2.8" fill="none"/>
<path d="M186.35 661.19V668.93" stroke="#ffa500" stroke-width="2.8" fill="none"/>
<path d="M188.81 748.87V756.68" stroke="#ffa500" stroke-width="2.8" fill="none"/>
<path d="M191.28 811.08V818.96" stroke="#ffa500" stroke-width="2.8" fill="none"/>
<path d="M193.75 823.99V831.94" stroke="#ffa500" stroke-width="2.8" fill="none"/>
<path d="M196.21 779.24V787.26" stroke="#ffa500" stroke-width="2.8" fill="none"/>
<path d="M198.68 700.71V708.80" stroke="#ffa500" stroke-width="2.8" fill="none"/>
<path d="M201.14 618.50V626.67" stroke="#ffa500" stroke-width="2.8" fill="none"/>
<path d="M203.61 565.91V574.15" stroke="#ffa500" stroke-width="2.8" fill="none"/>
<path d="M206.07 561.65V569.95" stroke="#ffa500" stroke-width="2.8" fill="none"/>
<path d="M208.53 607.23V615.61" stroke="#ffa500" stroke-width="2.8" fill="none"/>
<path d="M211.00 699.86V708.31" stroke="#ffa500" stroke-width="2.8" fill="none"/>
<path d="M213.47 776.59V785.13" stroke="#ffa500" stroke-width="2.8" fill="none"/>
<path d="M215.93 820.38V828.99" stroke="#ffa500" stroke-width="2.8" fill="none"/>
<path d="M218.39 817.75V826.44" stroke="#ffa500" stroke-width="2.8" fill="none"/>
<path d="M220.86 750.20V758.96" stroke="#ffa500" stroke-width="2.8" fill="none"/>
<path d="M223.32 658.13V666.97" stroke="#ffa500" stroke-width="2.8" fill="none"/>
<path d="M225.79 594.34V603.26" stroke="#ffa500" stroke-width="2.8" fill="none"/>
<path d="M228.25 560.60V569.60" stroke="#ffa500" stroke-width="2.8" fill="none"/>
<path d="M230.72 577.42V586.50" stroke="#ffa500" stroke-width="2.8" fill="none"/>
<path d="M233.19 567.82V576.98" stroke="#ffa500" stroke-width="2.8" fill="none"/>
<path d="M235.65 731.01V740.26" stroke="#ffa500" stroke-width="2.8" fill="none"/>
<path d="M238.12 802.50V811.83" stroke="#ffa500" stroke-width="2.8" fill="none"/>
<path d="M240.58 821.37V830.78" stroke="#ffa500" stroke-width="2.8" fill="none"/>
<path d="M243.04 786.34V795.83" stroke="#ffa500" stroke-width="2.8" fill="none"/>
<path d="M245.51 711.24V720.82" stroke="#ffa500" stroke-width="2.8" fill="none"/>
<path d="M247.97 623.71V633.38" stroke="#ffa500" stroke-width="2.8" fill="none"/>
<path d="M250.44 560.75V570.50" stroke="#ffa500" stroke-width="2.8" fill="none"/>
<path d="M252.91 555.08V564.92" stroke="#ffa500" stroke-width="2.8" fill="none"/>
<path d="M255.37 601.61V611.54" stroke="#ffa500" stroke-width="2.8" fill="none"/>
<path d="M257.84 595.69V605.71" stroke="#ffa500" stroke-width="2.8" fill="none"/>
<path d="M260.30 763.37V773.48" stroke="#ffa500" stroke-width="2.8" fill="none"/>
<path d="M262.76 821.60V831.80" stroke="#ffa500" stroke-width="2.8" fill="none"/>
<path d="M265.23 818.02V828.31" stroke="#ffa500" stroke-width="2.8" fill="none"/>
<path d="M267.69 767.68V778.05" stroke="#ffa500" stroke-width="2.8" fill="none"/>
<path d="M270.16 681.82V692.29" stroke="#ffa500" stroke-width="2.8" fill="none"/>
<path d="M272.62 600.46V611.03" stroke="#ffa500" stroke-width="2.8" fill="none"/>
<path d="M275.09 562.07V572.73" stroke="#ffa500" stroke-width="2.8" fill="none"/>
<path d="M277.56 567.92V578.68" stroke="#ffa500" stroke-width="2.8" fill="none"/>
<path d="M280.02 641.63V652.48" stroke="#ffa500" stroke-width="2.8" fill="none"/>
<path d="M282.49 718.84V729.79" stroke="#ffa500" stroke-width="2.8" fill="none"/>
<path d="M284.95 785.60V796.64" stroke="#ffa500" stroke-width="2.8" fill="none"/>
<path d="M287.41 822.23V833.37" stroke="#ffa500" stroke-width="2.8" fill="none"/>
<path d="M289.88 805.19V816.43" stroke="#ffa500" stroke-width="2.8" fill="none"/>
<path d="M292.35 734.50V745.84" stroke="#ffa500" stroke-width="2.8" fill="none"/>
<path d="M294.81 638.27V649.71" stroke="#ffa500" stroke-width="2.8" fill="none"/>
<path d="M297.27 581.73V593.27" stroke="#ffa500" stroke-width="2.8" fill="none"/>
<path d="M299.74 557.18V568.82" stroke="#ffa500" stroke-width="2.8" fill="none"/>
<path d="M302.20 587.41V599.16" stroke="#ffa500" stroke-width="2.8" fill="none"/>
<path d="M304.67 584.87V596.73" stroke="#ffa500" stroke-width="2.8" fill="none"/>
<path d="M307.13 753.69V765.66" stroke="#ffa500" stroke-width="2.8" fill="none"/>
<path d="M309.60 810.55V822.61" stroke="#ffa500" stroke-width="2.8" fill="none"/>
<path d="M312.06 825.01V837.19" stroke="#ffa500" stroke-width="2.8" fill="none"/>
<path d="M314.53 762.46V774.75" stroke="#ffa500" stroke-width="2.8" fill="none"/>
<path d="M317.00 686.03V698.43" stroke="#ffa500" stroke-width="2.8" fill="none"/>
<path d="M319.46 569.25V581.75" stroke="#ffa500" stroke-width="2.8" fill="none"/>
<path d="M321.92 557.42V570.04" stroke="#ffa500" stroke-width="2.8" fill="none"/>
<path d="M324.39 565.83V578.57" stroke="#ffa500" stroke-width="2.8" fill="none"/>
<path d="M326.86 615.17V628.01" stroke="#ffa500" stroke-width="2.8" fill="none"/>
<path d="M329.32 701.36V714.32" stroke="#ffa500" stroke-width="2.8" fill="none"/>
<path d="M331.78 780.66V793.74" stroke="#ffa500" stroke-width="2.8" fill="none"/>
<path d="M334.25 820.10V833.30" stroke="#ffa500" stroke-width="2.8" fill="none"/>
<path d="M336.72 808.09V821.40" stroke="#ffa500" stroke-width="2.8" fill="none"/>
<path d="M339.18 733.33V746.76" stroke="#ffa500" stroke-width="2.8" fill="none"/>
<path d="M341.64 663.21V676.76" stroke="#ffa500" stroke-width="2.8" fill="none"/>
<path d="M344.11 587.27V600.93" stroke="#ffa500" stroke-width="2.8" fill="none"/>
<path d="M346.57 562.70V576.50" stroke="#ffa500" stroke-width="2.8" fill="none"/>
<path d="M349.04 577.34V591.26" stroke="#ffa500" stroke-width="2.8" fill="none"/>
<path d="M351.50 648.57V662.61" stroke="#ffa500" stroke-width="2.8" fill="none"/>
<path d="M353.97 739.34V753.50" stroke="#ffa500" stroke-width="2.8" fill="none"/>
<path d="M356.44 806.93V821.22" stroke="#ffa500" stroke-width="2.8" fill="none"/>
<path d="M358.90 820.59V835.01" stroke="#ffa500" stroke-width="2.8" fill="none"/>
<path d="M361.37 775.89V790.44" stroke="#ffa500" stroke-width="2.8" fill="none"/>
<path d="M363.83 702.53V717.21" stroke="#ffa500" stroke-width="2.8" fill="none"/>
<path d="M366.29 612.30V627.11" stroke="#ffa500" stroke-width="2.8" fill="none"/>
<path d="M368.76 574.63V589.57" stroke="#ffa500" stroke-width="2.8" fill="none"/>
<path d="M371.23 557.66V572.74" stroke="#ffa500" stroke-width="2.8" fill="none"/>
<path d="M373.69 606.27V621.48" stroke="#ffa500" stroke-width="2.8" fill="none"/>
<path d="M376.15 695.14V710.48" stroke="#ffa500" stroke-width="2.8" fill="none"/>
<path d="M378.62 781.10V796.58" stroke="#ffa500" stroke-width="2.8" fill="none"/>
<path d="M381.09 812.39V828.01" stroke="#ffa500" stroke-width="2.8" fill="none"/>
<path d="M383.55 798.01V813.77" stroke="#ffa500" stroke-width="2.8" fill="none"/>
<path d="M386.01 754.13V770.02" stroke="#ffa500" stroke-width="2.8" fill="none"/>
<path d="M388.48 678.30V694.35" stroke="#ffa500" stroke-width="2.8" fill="none"/>
<path d="M390.94 594.73V610.91" stroke="#ffa500" stroke-width="2.8" fill="none"/>
<path d="M393.41 561.84V578.16" stroke="#ffa500" stroke-width="2.8" fill="none"/>
<path d="M395.88 561.76V578.24" stroke="#ffa500" stroke-width="2.8" fill="none"/>
<path d="M398.34 635.67V652.29" stroke="#ffa500" stroke-width="2.8" fill="none"/>
<path d="M400.80 739.93V756.70" stroke="#ffa500" stroke-width="2.8" fill="none"/>
<path d="M403.27 787.63V804.55" stroke="#ffa500" stroke-width="2.8" fill="none"/>
<path d="M405.74 809.16V826.24" stroke="#ffa500" stroke-width="2.8" fill="none"/>
<path d="M408.20 795.45V812.68" stroke="#ffa500" stroke-width="2.8" fill="none"/>
<path d="M410.66 710.77V728.15" stroke="#ffa500" stroke-width="2.8" fill="none"/>
<path d="M413.13 623.45V640.98" stroke="#ffa500" stroke-width="2.8" fill="none"/>
<path d="M415.60 594.06V611.74" stroke="#ffa500" stroke-width="2.8" fill="none"/>
<path d="M418.06 559.98V577.82" stroke="#ffa500" stroke-width="2.8" fill="none"/>
<path d="M420.52 580.70V598.70" stroke="#ffa500" stroke-width="2.8" fill="none"/>
<path d="M422.99 681.83V700.00" stroke="#ffa500" stroke-width="2.8" fill="none"/>
<path d="M425.46 758.24V776.57" stroke="#ffa500" stroke-width="2.8" fill="none"/>
<path d="M427.92 815.08V833.57" stroke="#ffa500" stroke-width="2.8" fill="none"/>
<path d="M430.38 812.77V831.43" stroke="#ffa500" stroke-width="2.8" fill="none"/>
<path d="M432.85 755.38V774.20" stroke="#ffa500" stroke-width="2.8" fill="none"/>
<path d="M435.31 680.17V699.16" stroke="#ffa500" stroke-width="2.8" fill="none"/>
<path d="M437.78 596.74V615.90" stroke="#ffa500" stroke-width="2.8" fill="none"/>
<path d="M440.25 558.51V577.85" stroke="#ffa500" stroke-width="2.8" fill="none"/>
<path d="M442.71 555.95V575.45" stroke="#ffa500" stroke-width="2.8" fill="none"/>
<path d="M445.17 633.09V652.77" stroke="#ffa500" stroke-width="2.8" fill="none"/>
<path d="M447.64 722.67V742.53" stroke="#ffa500" stroke-width="2.8" fill="none"/>
<path d="M450.11 792.49V812.52" stroke="#ffa500" stroke-width="2.8" fill="none"/>
<path d="M452.57 799.89V820.11" stroke="#ffa500" stroke-width="2.8" fill="none"/>
<path d="M455.03 784.85V805.24" stroke="#ffa500" stroke-width="2.8" fill="none"/>
<path d="M457.50 730.75V751.32" stroke="#ffa500" stroke-width="2.8" fill="none"/>
<path d="M459.97 593.62V614.38" stroke="#ffa500" stroke-width="2.8" fill="none"/>
<path d="M462.43 566.88V587.82" stroke="#ffa500" stroke-width="2.8" fill="none"/>
<path d="M464.89 577.03V598.17" stroke="#ffa500" stroke-width="2.8" fill="none"/>
<path d="M467.36 596.64V617.96" stroke="#ffa500" stroke-width="2.8" fill="none"/>
<path d="M469.82 667.42V688.93" stroke="#ffa500" stroke-width="2.8" fill="none"/>
<path d="M472.29 746.31V768.02" stroke="#ffa500" stroke-width="2.8" fill="none"/>
<path d="M474.75 803.16V825.06" stroke="#ffa500" stroke-width="2.8" fill="none"/>
<path d="M477.22 804.45V826.55" stroke="#ffa500" stroke-width="2.8" fill="none"/>
<path d="M479.68 761.04V783.33" stroke="#ffa500" stroke-width="2.8" fill="none"/>
<path d="M482.15 688.27V710.76" stroke="#ffa500" stroke-width="2.8" fill="none"/>
<path d="M484.62 619.78V642.47" stroke="#ffa500" stroke-width="2.8" fill="none"/>
<path d="M487.08 576.15V599.05" stroke="#ffa500" stroke-width="2.8" fill="none"/>
<path d="M489.54 551.95V575.05" stroke="#ffa500" stroke-width="2.8" fill="none"/>
<path d="M492.01 631.63V654.93" stroke="#ffa500" stroke-width="2.8" fill="none"/>
<path d="M494.48 705.76V729.27" stroke="#ffa500" stroke-width="2.8" fill="none"/>
<path d="M496.94 780.07V803.79" stroke="#ffa500" stroke-width="2.8" fill="none"/>
<path d="M499.40 809.03V832.97" stroke="#ffa500" stroke-width="2.8" fill="none"/>
<path d="M501.87 814.48V838.62" stroke="#ffa500" stroke-width="2.8" fill="none"/>
<path d="M504.34 742.63V766.99" stroke="#ffa500" stroke-width="2.8" fill="none"/>
<path d="M506.80 643.65V668.23" stroke="#ffa500" stroke-width="2.8" fill="none"/>
<path d="M509.26 603.59V628.39" stroke="#ffa500" stroke-width="2.8" fill="none"/>
<path d="M511.73 548.79V573.81" stroke="#ffa500" stroke-width="2.8" fill="none"/>
<path d="M514.19 578.18V603.42" stroke="#ffa500" stroke-width="2.8" fill="none"/>
<path d="M516.66 646.24V671.71" stroke="#ffa500" stroke-width="2.8" fill="none"/>
<path d="M519.12 719.13V744.83" stroke="#ffa500" stroke-width="2.8" fill="none"/>
<path d="M521.59 814.78V840.71" stroke="#ffa500" stroke-width="2.8" fill="none"/>
<path d="M524.05 812.32V838.48" stroke="#ffa500" stroke-width="2.8" fill="none"/>
<path d="M526.52 778.82V805.21" stroke="#ffa500" stroke-width="2.8" fill="none"/>
<path d="M528.99 693.60V720.22" stroke="#ffa500" stroke-width="2.8" fill="none"/>
<path d="M531.45 609.15V636.02" stroke="#ffa500" stroke-width="2.8" fill="none"/>
<path d="M533.91 574.05V601.15" stroke="#ffa500" stroke-width="2.8" fill="none"/>
<path d="M536.38 550.93V578.27" stroke="#ffa500" stroke-width="2.8" fill="none"/>
<path d="M538.85 551.41V578.99" stroke="#ffa500" stroke-width="2.8" fill="none"/>
<path d="M541.31 681.21V709.05" stroke="#ffa500" stroke-width="2.8" fill="none"/>
<path d="M543.77 784.68V812.77" stroke="#ffa500" stroke-width="2.8" fill="none"/>
<path d="M546.24 794.73V823.07" stroke="#ffa500" stroke-width="2.8" fill="none"/>
<path d="M548.70 829.21V857.79" stroke="#ffa500" stroke-width="2.8" fill="none"/>
<path d="M551.17 746.92V775.76" stroke="#ffa500" stroke-width="2.8" fill="none"/>
<path d="M553.63 663.87V692.97" stroke="#ffa500" stroke-width="2.8" fill="none"/>
<path d="M556.10 585.45V614.81" stroke="#ffa500" stroke-width="2.8" fill="none"/>
<path d="M558.56 547.19V576.81" stroke="#ffa500" stroke-width="2.8" fill="none"/>
<path d="M561.03 532.26V562.14" stroke="#ffa500" stroke-width="2.8" fill="none"/>
<path d="M563.50 623.61V653.76" stroke="#ffa500" stroke-width="2.8" fill="none"/>
<path d="M565.96 707.19V737.61" stroke="#ffa500" stroke-width="2.8" fill="none"/>
<path d="M568.42 790.65V821.34" stroke="#ffa500" stroke-width="2.8" fill="none"/>
<path d="M570.89 788.02V818.98" stroke="#ffa500" stroke-width="2.8" fill="none"/>
<path d="M573.36 796.50V827.74" stroke="#ffa500" stroke-width="2.8" fill="none"/>
<path d="M575.82 696.88V728.40" stroke="#ffa500" stroke-width="2.8" fill="none"/>
<path d="M578.28 637.91V669.71" stroke="#ffa500" stroke-width="2.8" fill="none"/>
<path d="M580.75 561.86V593.94" stroke="#ffa500" stroke-width="2.8" fill="none"/>
<path d="M583.22 573.41V605.79" stroke="#ffa500" stroke-width="2.8" fill="none"/>
<path d="M585.68 601.79V634.46" stroke="#ffa500" stroke-width="2.8" fill="none"/>
<path d="M588.14 666.41V699.37" stroke="#ffa500" stroke-width="2.8" fill="none"/>
<path d="M590.61 775.06V808.31" stroke="#ffa500" stroke-width="2.8" fill="none"/>
<path d="M593.07 813.72V847.27" stroke="#ffa500" stroke-width="2.8" fill="none"/>
<path d="M595.54 789.88V823.72" stroke="#ffa500" stroke-width="2.8" fill="none"/>
<path d="M598.00 767.74V801.89" stroke="#ffa500" stroke-width="2.8" fill="none"/>
<path d="M600.47 694.23V728.68" stroke="#ffa500" stroke-width="2.8" fill="none"/>
<path d="M602.93 629.75V664.51" stroke="#ffa500" stroke-width="2.8" fill="none"/>
<path d="M605.40 570.96V606.04" stroke="#ffa500" stroke-width="2.8" fill="none"/>
<path d="M607.87 582.41V617.79" stroke="#ffa500" stroke-width="2.8" fill="none"/>
<path d="M610.33 607.85V643.55" stroke="#ffa500" stroke-width="2.8" fill="none"/>
<path d="M612.79 725.72V761.74" stroke="#ffa500" stroke-width="2.8" fill="none"/>
<path d="M615.26 774.38V810.72" stroke="#ffa500" stroke-width="2.8" fill="none"/>
<path d="M617.73 794.97V831.63" stroke="#ffa500" stroke-width="2.8" fill="none"/>
<path d="M620.19 812.30V849.30" stroke="#ffa500" stroke-width="2.8" fill="none"/>
<path d="M622.65 693.29V730.61" stroke="#ffa500" stroke-width="2.8" fill="none"/>
<path d="M625.12 659.93V697.59" stroke="#ffa500" stroke-width="2.8" fill="none"/>
<path d="M627.58 587.50V625.50" stroke="#ffa500" stroke-width="2.8" fill="none"/>
<path d="M630.05 516.43V554.77" stroke="#ffa500" stroke-width="2.8" fill="none"/>
<path d="M632.51 600.27V638.94" stroke="#ffa500" stroke-width="2.8" fill="none"/>
<path d="M634.98 690.66V729.68" stroke="#ffa500" stroke-width="2.8" fill="none"/>
<path d="M637.44 710.24V749.61" stroke="#ffa500" stroke-width="2.8" fill="none"/>
<path d="M639.91 791.14V830.86" stroke="#ffa500" stroke-width="2.8" fill="none"/>
<path d="M642.38 797.66V837.74" stroke="#ffa500" stroke-width="2.8" fill="none"/>
<path d="M644.84 748.03V788.47" stroke="#ffa500" stroke-width="2.8" fill="none"/>
<path d="M647.30 677.09V717.88" stroke="#ffa500" stroke-width="2.8" fill="none"/>
<path d="M649.77 584.84V625.99" stroke="#ffa500" stroke-width="2.8" fill="none"/>
<path d="M652.23 591.60V633.12" stroke="#ffa500" stroke-width="2.8" fill="none"/>
<path d="M654.70 562.25V604.15" stroke="#ffa500" stroke-width="2.8" fill="none"/>
<path d="M657.16 582.17V624.43" stroke="#ffa500" stroke-width="2.8" fill="none"/>
<path d="M659.63 664.47V707.12" stroke="#ffa500" stroke-width="2.8" fill="none"/>
<path d="M662.09 765.39V808.42" stroke="#ffa500" stroke-width="2.8" fill="none"/>
<path d="M664.56 806.58V849.99" stroke="#ffa500" stroke-width="2.8" fill="none"/>
<path d="M667.02 799.10V842.90" stroke="#ffa500" stroke-width="2.8" fill="none"/>
<path d="M669.49 723.49V767.68" stroke="#ffa500" stroke-width="2.8" fill="none"/>
<path d="M671.95 585.31V629.89" stroke="#ffa500" stroke-width="2.8" fill="none"/>
<path d="M674.42 532.11V577.09" stroke="#ffa500" stroke-width="2.8" fill="none"/>
<path d="M676.88 571.75V617.14" stroke="#ffa500" stroke-width="2.8" fill="none"/>
<circle cx="112.40" cy="573.94" r="6.10" fill="#ffa500"/>
<circle cx="114.87" cy="636.63" r="6.10" fill="#ffa500"/>
<circle cx="117.33" cy="726.47" r="6.10" fill="#ffa500"/>
<circle cx="119.80" cy="800.63" r="6.10" fill="#ffa500"/>
<circle cx="122.26" cy="826.08" r="6.10" fill="#ffa500"/>
<circle cx="124.73" cy="802.60" r="6.10" fill="#ffa500"/>
<circle cx="127.19" cy="725.93" r="6.10" fill="#ffa500"/>
<circle cx="129.66" cy="640.35" r="6.10" fill="#ffa500"/>
<circle cx="132.12" cy="571.93" r="6.10" fill="#ffa500"/>
<circle cx="134.59" cy="562.10" r="6.10" fill="#ffa500"/>
<circle cx="137.05" cy="595.01" r="6.10" fill="#ffa500"/>
<circle cx="139.52" cy="674.46" r="6.10" fill="#ffa500"/>
<circle cx="141.98" cy="765.88" r="6.10" fill="#ffa500"/>
<circle cx="144.44" cy="816.25" r="6.10" fill="#ffa500"/>
<circle cx="146.91" cy="822.85" r="6.10" fill="#ffa500"/>
<circle cx="149.38" cy="773.69" r="6.10" fill="#ffa500"/>
<circle cx="151.84" cy="696.81" r="6.10" fill="#ffa500"/>
<circle cx="154.31" cy="613.98" r="6.10" fill="#ffa500"/>
<circle cx="156.77" cy="566.90" r="6.10" fill="#ffa500"/>
<circle cx="159.24" cy="569.71" r="6.10" fill="#ffa500"/>
<circle cx="161.70" cy="572.40" r="6.10" fill="#ffa500"/>
<circle cx="164.17" cy="713.47" r="6.10" fill="#ffa500"/>
<circle cx="166.63" cy="789.47" r="6.10" fill="#ffa500"/>
<circle cx="169.09" cy="828.29" r="6.10" fill="#ffa500"/>
<circle cx="171.56" cy="808.55" r="6.10" fill="#ffa500"/>
<circle cx="174.03" cy="740.97" r="6.10" fill="#ffa500"/>
<circle cx="176.49" cy="657.29" r="6.10" fill="#ffa500"/>
<circle cx="178.95" cy="578.00" r="6.10" fill="#ffa500"/>
<circle cx="181.42" cy="563.60" r="6.10" fill="#ffa500"/>
<circle cx="183.88" cy="583.64" r="6.10" fill="#ffa500"/>
<circle cx="186.35" cy="665.06" r="6.10" fill="#ffa500"/>
<circle cx="188.81" cy="752.77" r="6.10" fill="#ffa500"/>
<circle cx="191.28" cy="815.02" r="6.10" fill="#ffa500"/>
<circle cx="193.75" cy="827.97" r="6.10" fill="#ffa500"/>
<circle cx="196.21" cy="783.25" r="6.10" fill="#ffa500"/>
<circle cx="198.68" cy="704.76" r="6.10" fill="#ffa500"/>
<circle cx="201.14" cy="622.58" r="6.10" fill="#ffa500"/>
<circle cx="203.61" cy="570.03" r="6.10" fill="#ffa500"/>
<circle cx="206.07" cy="565.80" r="6.10" fill="#ffa500"/>
<circle cx="208.53" cy="611.42" r="6.10" fill="#ffa500"/>
<circle cx="211.00" cy="704.09" r="6.10" fill="#ffa500"/>
<circle cx="213.47" cy="780.86" r="6.10" fill="#ffa500"/>
<circle cx="215.93" cy="824.68" r="6.10" fill="#ffa500"/>
<circle cx="218.39" cy="822.09" r="6.10" fill="#ffa500"/>
<circle cx="220.86" cy="754.58" r="6.10" fill="#ffa500"/>
<circle cx="223.32" cy="662.55" r="6.10" fill="#ffa500"/>
<circle cx="225.79" cy="598.80" r="6.10" fill="#ffa500"/>
<circle cx="228.25" cy="565.10" r="6.10" fill="#ffa500"/>
<circle cx="230.72" cy="581.96" r="6.10" fill="#ffa500"/>
<circle cx="233.19" cy="572.40" r="6.10" fill="#ffa500"/>
<circle cx="235.65" cy="735.64" r="6.10" fill="#ffa500"/>
<circle cx="238.12" cy="807.17" r="6.10" fill="#ffa500"/>
<circle cx="240.58" cy="826.08" r="6.10" fill="#ffa500"/>
<circle cx="243.04" cy="791.08" r="6.10" fill="#ffa500"/>
<circle cx="245.51" cy="716.03" r="6.10" fill="#ffa500"/>
<circle cx="247.97" cy="628.55" r="6.10" fill="#ffa500"/>
<circle cx="250.44" cy="565.62" r="6.10" fill="#ffa500"/>
<circle cx="252.91" cy="560.00" r="6.10" fill="#ffa500"/>
<circle cx="255.37" cy="606.58" r="6.10" fill="#ffa500"/>
<circle cx="257.84" cy="600.70" r="6.10" fill="#ffa500"/>
<circle cx="260.30" cy="768.42" r="6.10" fill="#ffa500"/>
<circle cx="262.76" cy="826.70" r="6.10" fill="#ffa500"/>
<circle cx="265.23" cy="823.16" r="6.10" fill="#ffa500"/>
<circle cx="267.69" cy="772.86" r="6.10" fill="#ffa500"/>
<circle cx="270.16" cy="687.05" r="6.10" fill="#ffa500"/>
<circle cx="272.62" cy="605.74" r="6.10" fill="#ffa500"/>
<circle cx="275.09" cy="567.40" r="6.10" fill="#ffa500"/>
<circle cx="277.56" cy="573.30" r="6.10" fill="#ffa500"/>
<circle cx="280.02" cy="647.05" r="6.10" fill="#ffa500"/>
<circle cx="282.49" cy="724.32" r="6.10" fill="#ffa500"/>
<circle cx="284.95" cy="791.12" r="6.10" fill="#ffa500"/>
<circle cx="287.41" cy="827.80" r="6.10" fill="#ffa500"/>
<circle cx="289.88" cy="810.81" r="6.10" fill="#ffa500"/>
<circle cx="292.35" cy="740.17" r="6.10" fill="#ffa500"/>
<circle cx="294.81" cy="643.99" r="6.10" fill="#ffa500"/>
<circle cx="297.27" cy="587.50" r="6.10" fill="#ffa500"/>
<circle cx="299.74" cy="563.00" r="6.10" fill="#ffa500"/>
<circle cx="302.20" cy="593.29" r="6.10" fill="#ffa500"/>
<circle cx="304.67" cy="590.80" r="6.10" fill="#ffa500"/>
<circle cx="307.13" cy="759.68" r="6.10" fill="#ffa500"/>
<circle cx="309.60" cy="816.58" r="6.10" fill="#ffa500"/>
<circle cx="312.06" cy="831.10" r="6.10" fill="#ffa500"/>
<circle cx="314.53" cy="768.61" r="6.10" fill="#ffa500"/>
<circle cx="317.00" cy="692.23" r="6.10" fill="#ffa500"/>
<circle cx="319.46" cy="575.50" r="6.10" fill="#ffa500"/>
<circle cx="321.92" cy="563.73" r="6.10" fill="#ffa500"/>
<circle cx="324.39" cy="572.20" r="6.10" fill="#ffa500"/>
<circle cx="326.86" cy="621.59" r="6.10" fill="#ffa500"/>
<circle cx="329.32" cy="707.84" r="6.10" fill="#ffa500"/>
<circle cx="331.78" cy="787.20" r="6.10" fill="#ffa500"/>
<circle cx="334.25" cy="826.70" r="6.10" fill="#ffa500"/>
<circle cx="336.72" cy="814.74" r="6.10" fill="#ffa500"/>
<circle cx="339.18" cy="740.04" r="6.10" fill="#ffa500"/>
<circle cx="341.64" cy="669.98" r="6.10" fill="#ffa500"/>
<circle cx="344.11" cy="594.10" r="6.10" fill="#ffa500"/>
<circle cx="346.57" cy="569.60" r="6.10" fill="#ffa500"/>
<circle cx="349.04" cy="584.30" r="6.10" fill="#ffa500"/>
<circle cx="351.50" cy="655.59" r="6.10" fill="#ffa500"/>
<circle cx="353.97" cy="746.42" r="6.10" fill="#ffa500"/>
<circle cx="356.44" cy="814.08" r="6.10" fill="#ffa500"/>
<circle cx="358.90" cy="827.80" r="6.10" fill="#ffa500"/>
<circle cx="361.37" cy="783.17" r="6.10" fill="#ffa500"/>
<circle cx="363.83" cy="709.87" r="6.10" fill="#ffa500"/>
<circle cx="366.29" cy="619.71" r="6.10" fill="#ffa500"/>
<circle cx="368.76" cy="582.10" r="6.10" fill="#ffa500"/>
<circle cx="371.23" cy="565.20" r="6.10" fill="#ffa500"/>
<circle cx="373.69" cy="613.87" r="6.10" fill="#ffa500"/>
<circle cx="376.15" cy="702.81" r="6.10" fill="#ffa500"/>
<circle cx="378.62" cy="788.84" r="6.10" fill="#ffa500"/>
<circle cx="381.09" cy="820.20" r="6.10" fill="#ffa500"/>
<circle cx="383.55" cy="805.89" r="6.10" fill="#ffa500"/>
<circle cx="386.01" cy="762.08" r="6.10" fill="#ffa500"/>
<circle cx="388.48" cy="686.32" r="6.10" fill="#ffa500"/>
<circle cx="390.94" cy="602.82" r="6.10" fill="#ffa500"/>
<circle cx="393.41" cy="570.00" r="6.10" fill="#ffa500"/>
<circle cx="395.88" cy="570.00" r="6.10" fill="#ffa500"/>
<circle cx="398.34" cy="643.98" r="6.10" fill="#ffa500"/>
<circle cx="400.80" cy="748.32" r="6.10" fill="#ffa500"/>
<circle cx="403.27" cy="796.09" r="6.10" fill="#ffa500"/>
<circle cx="405.74" cy="817.70" r="6.10" fill="#ffa500"/>
<circle cx="408.20" cy="804.07" r="6.10" fill="#ffa500"/>
<circle cx="410.66" cy="719.46" r="6.10" fill="#ffa500"/>
<circle cx="413.13" cy="632.21" r="6.10" fill="#ffa500"/>
<circle cx="415.60" cy="602.90" r="6.10" fill="#ffa500"/>
<circle cx="418.06" cy="568.90" r="6.10" fill="#ffa500"/>
<circle cx="420.52" cy="589.70" r="6.10" fill="#ffa500"/>
<circle cx="422.99" cy="690.91" r="6.10" fill="#ffa500"/>
<circle cx="425.46" cy="767.41" r="6.10" fill="#ffa500"/>
<circle cx="427.92" cy="824.33" r="6.10" fill="#ffa500"/>
<circle cx="430.38" cy="822.10" r="6.10" fill="#ffa500"/>
<circle cx="432.85" cy="764.79" r="6.10" fill="#ffa500"/>
<circle cx="435.31" cy="689.66" r="6.10" fill="#ffa500"/>
<circle cx="437.78" cy="606.32" r="6.10" fill="#ffa500"/>
<circle cx="440.25" cy="568.18" r="6.10" fill="#ffa500"/>
<circle cx="442.71" cy="565.70" r="6.10" fill="#ffa500"/>
<circle cx="445.17" cy="642.93" r="6.10" fill="#ffa500"/>
<circle cx="447.64" cy="732.60" r="6.10" fill="#ffa500"/>
<circle cx="450.11" cy="802.50" r="6.10" fill="#ffa500"/>
<circle cx="452.57" cy="810.00" r="6.10" fill="#ffa500"/>
<circle cx="455.03" cy="795.04" r="6.10" fill="#ffa500"/>
<circle cx="457.50" cy="741.03" r="6.10" fill="#ffa500"/>
<circle cx="459.97" cy="604.00" r="6.10" fill="#ffa500"/>
<circle cx="462.43" cy="577.35" r="6.10" fill="#ffa500"/>
<circle cx="464.89" cy="587.60" r="6.10" fill="#ffa500"/>
<circle cx="467.36" cy="607.30" r="6.10" fill="#ffa500"/>
<circle cx="469.82" cy="678.18" r="6.10" fill="#ffa500"/>
<circle cx="472.29" cy="757.17" r="6.10" fill="#ffa500"/>
<circle cx="474.75" cy="814.11" r="6.10" fill="#ffa500"/>
<circle cx="477.22" cy="815.50" r="6.10" fill="#ffa500"/>
<circle cx="479.68" cy="772.18" r="6.10" fill="#ffa500"/>
<circle cx="482.15" cy="699.51" r="6.10" fill="#ffa500"/>
<circle cx="484.62" cy="631.12" r="6.10" fill="#ffa500"/>
<circle cx="487.08" cy="587.60" r="6.10" fill="#ffa500"/>
<circle cx="489.54" cy="563.50" r="6.10" fill="#ffa500"/>
<circle cx="492.01" cy="643.28" r="6.10" fill="#ffa500"/>
<circle cx="494.48" cy="717.52" r="6.10" fill="#ffa500"/>
<circle cx="496.94" cy="791.93" r="6.10" fill="#ffa500"/>
<circle cx="499.40" cy="821.00" r="6.10" fill="#ffa500"/>
<circle cx="501.87" cy="826.55" r="6.10" fill="#ffa500"/>
<circle cx="504.34" cy="754.81" r="6.10" fill="#ffa500"/>
<circle cx="506.80" cy="655.94" r="6.10" fill="#ffa500"/>
<circle cx="509.26" cy="615.99" r="6.10" fill="#ffa500"/>
<circle cx="511.73" cy="561.30" r="6.10" fill="#ffa500"/>
<circle cx="514.19" cy="590.80" r="6.10" fill="#ffa500"/>
<circle cx="516.66" cy="658.97" r="6.10" fill="#ffa500"/>
<circle cx="519.12" cy="731.98" r="6.10" fill="#ffa500"/>
<circle cx="521.59" cy="827.74" r="6.10" fill="#ffa500"/>
<circle cx="524.05" cy="825.40" r="6.10" fill="#ffa500"/>
<circle cx="526.52" cy="792.02" r="6.10" fill="#ffa500"/>
<circle cx="528.99" cy="706.91" r="6.10" fill="#ffa500"/>
<circle cx="531.45" cy="622.59" r="6.10" fill="#ffa500"/>
<circle cx="533.91" cy="587.60" r="6.10" fill="#ffa500"/>
<circle cx="536.38" cy="564.60" r="6.10" fill="#ffa500"/>
<circle cx="538.85" cy="565.20" r="6.10" fill="#ffa500"/>
<circle cx="541.31" cy="695.13" r="6.10" fill="#ffa500"/>
<circle cx="543.77" cy="798.73" r="6.10" fill="#ffa500"/>
<circle cx="546.24" cy="808.90" r="6.10" fill="#ffa500"/>
<circle cx="548.70" cy="843.50" r="6.10" fill="#ffa500"/>
<circle cx="551.17" cy="761.34" r="6.10" fill="#ffa500"/>
<circle cx="553.63" cy="678.42" r="6.10" fill="#ffa500"/>
<circle cx="556.10" cy="600.13" r="6.10" fill="#ffa500"/>
<circle cx="558.56" cy="562.00" r="6.10" fill="#ffa500"/>
<circle cx="561.03" cy="547.20" r="6.10" fill="#ffa500"/>
<circle cx="563.50" cy="638.68" r="6.10" fill="#ffa500"/>
<circle cx="565.96" cy="722.40" r="6.10" fill="#ffa500"/>
<circle cx="568.42" cy="805.99" r="6.10" fill="#ffa500"/>
<circle cx="570.89" cy="803.50" r="6.10" fill="#ffa500"/>
<circle cx="573.36" cy="812.12" r="6.10" fill="#ffa500"/>
<circle cx="575.82" cy="712.64" r="6.10" fill="#ffa500"/>
<circle cx="578.28" cy="653.81" r="6.10" fill="#ffa500"/>
<circle cx="580.75" cy="577.90" r="6.10" fill="#ffa500"/>
<circle cx="583.22" cy="589.60" r="6.10" fill="#ffa500"/>
<circle cx="585.68" cy="618.12" r="6.10" fill="#ffa500"/>
<circle cx="588.14" cy="682.89" r="6.10" fill="#ffa500"/>
<circle cx="590.61" cy="791.69" r="6.10" fill="#ffa500"/>
<circle cx="593.07" cy="830.50" r="6.10" fill="#ffa500"/>
<circle cx="595.54" cy="806.80" r="6.10" fill="#ffa500"/>
<circle cx="598.00" cy="784.82" r="6.10" fill="#ffa500"/>
<circle cx="600.47" cy="711.46" r="6.10" fill="#ffa500"/>
<circle cx="602.93" cy="647.13" r="6.10" fill="#ffa500"/>
<circle cx="605.40" cy="588.50" r="6.10" fill="#ffa500"/>
<circle cx="607.87" cy="600.10" r="6.10" fill="#ffa500"/>
<circle cx="610.33" cy="625.70" r="6.10" fill="#ffa500"/>
<circle cx="612.79" cy="743.73" r="6.10" fill="#ffa500"/>
<circle cx="615.26" cy="792.55" r="6.10" fill="#ffa500"/>
<circle cx="617.73" cy="813.30" r="6.10" fill="#ffa500"/>
<circle cx="620.19" cy="830.80" r="6.10" fill="#ffa500"/>
<circle cx="622.65" cy="711.95" r="6.10" fill="#ffa500"/>
<circle cx="625.12" cy="678.76" r="6.10" fill="#ffa500"/>
<circle cx="627.58" cy="606.50" r="6.10" fill="#ffa500"/>
<circle cx="630.05" cy="535.60" r="6.10" fill="#ffa500"/>
<circle cx="632.51" cy="619.60" r="6.10" fill="#ffa500"/>
<circle cx="634.98" cy="710.17" r="6.10" fill="#ffa500"/>
<circle cx="637.44" cy="729.93" r="6.10" fill="#ffa500"/>
<circle cx="639.91" cy="811.00" r="6.10" fill="#ffa500"/>
<circle cx="642.38" cy="817.70" r="6.10" fill="#ffa500"/>
<circle cx="644.84" cy="768.25" r="6.10" fill="#ffa500"/>
<circle cx="647.30" cy="697.49" r="6.10" fill="#ffa500"/>
<circle cx="649.77" cy="605.41" r="6.10" fill="#ffa500"/>
<circle cx="652.23" cy="612.36" r="6.10" fill="#ffa500"/>
<circle cx="654.70" cy="583.20" r="6.10" fill="#ffa500"/>
<circle cx="657.16" cy="603.30" r="6.10" fill="#ffa500"/>
<circle cx="659.63" cy="685.79" r="6.10" fill="#ffa500"/>
<circle cx="662.09" cy="786.91" r="6.10" fill="#ffa500"/>
<circle cx="664.56" cy="828.29" r="6.10" fill="#ffa500"/>
<circle cx="667.02" cy="821.00" r="6.10" fill="#ffa500"/>
<circle cx="669.49" cy="745.58" r="6.10" fill="#ffa500"/>
<circle cx="671.95" cy="607.60" r="6.10" fill="#ffa500"/>
<circle cx="674.42" cy="554.60" r="6.10" fill="#ffa500"/>
<circle cx="676.88" cy="594.44" r="6.10" fill="#ffa500"/>
<polyline points="111.00,563.32 111.38,565.80 111.76,569.62 112.14,574.76 112.52,581.16 112.89,588.75 113.27,597.46 113.65,607.20 114.03,617.87 114.41,629.35 114.79,641.54 115.17,654.31 115.55,667.53 115.93,681.07 116.30,694.78 116.68,708.54 117.06,722.19 117.44,735.60 117.82,748.64 118.20,761.17 118.58,773.06 118.96,784.19 119.34,794.46 119.72,803.75 120.09,811.97 120.47,819.04 120.85,824.88 121.23,829.44 121.61,832.67 121.99,834.54 122.37,835.03 122.75,834.13 123.13,831.85 123.50,828.22 123.88,823.27 124.26,817.06 124.64,809.64 125.02,801.09 125.40,791.50 125.78,780.97 126.16,769.60 126.54,757.51 126.91,744.83 127.29,731.67 127.67,718.18 128.05,704.50 128.43,690.75 128.81,677.09 129.19,663.64 129.57,650.56 129.95,637.96 130.32,625.98 130.70,614.75 131.08,604.36 131.46,594.94 131.84,586.57 132.22,579.35 132.60,573.34 132.98,568.60 133.36,565.19 133.74,563.14 134.11,562.47 134.49,563.18 134.87,565.27 135.25,568.73 135.63,573.50 136.01,579.55 136.39,586.81 136.77,595.21 137.15,604.66 137.52,615.07 137.90,626.34 138.28,638.34 138.66,650.95 139.04,664.05 139.42,677.51 139.80,691.18 140.18,704.93 140.56,718.62 140.93,732.11 141.31,745.26 141.69,757.94 142.07,770.01 142.45,781.37 142.83,791.88 143.21,801.45 143.59,809.98 143.97,817.37 144.34,823.57 144.72,828.49 145.10,832.10 145.48,834.35 145.86,835.23 146.24,834.72 146.62,832.83 147.00,829.57 147.38,825.00 147.76,819.13 148.13,812.05 148.51,803.82 148.89,794.52 149.27,784.25 149.65,773.12 150.03,761.23 150.41,748.70 150.79,735.68 151.17,722.28 151.54,708.64 151.92,694.91 152.30,681.22 152.68,667.71 153.06,654.52 153.44,641.78 153.82,629.63 154.20,618.18 154.58,607.55 154.95,597.86 155.33,589.19 155.71,581.64 156.09,575.29 156.47,570.20 156.85,566.41 157.23,563.98 157.61,562.92 157.99,563.24 158.36,564.94 158.74,568.01 159.12,572.41 159.50,578.10 159.88,585.02 160.26,593.10 160.64,602.26 161.02,612.40 161.40,623.43 161.78,635.22 162.15,647.66 162.53,660.63 162.91,673.98 163.29,687.59 163.67,701.32 164.05,715.03 164.43,728.57 164.81,741.82 165.19,754.63 165.56,766.87 165.94,778.43 166.32,789.18 166.70,799.01 167.08,807.83 167.46,815.55 167.84,822.08 168.22,827.36 168.60,831.33 168.97,833.97 169.35,835.23 169.73,835.11 170.11,833.61 170.49,830.74 170.87,826.54 171.25,821.04 171.63,814.30 172.01,806.39 172.38,797.40 172.76,787.41 173.14,776.52 173.52,764.84 173.90,752.50 174.28,739.62 174.66,726.33 175.04,712.77 175.42,699.06 175.80,685.37 176.17,671.81 176.55,658.54 176.93,645.68 177.31,633.36 177.69,621.72 178.07,610.87 178.45,600.91 178.83,591.96 179.21,584.10 179.58,577.41 179.96,571.97 180.34,567.82 180.72,565.00 181.10,563.55 181.48,563.49 181.86,564.80 182.24,567.49 182.62,571.51 182.99,576.84 183.37,583.41 183.75,591.16 184.13,600.00 184.51,609.86 184.89,620.63 185.27,632.20 185.65,644.45 186.03,657.26 186.40,670.50 186.78,684.03 187.16,697.72 187.54,711.42 187.92,725.00 188.30,738.32 188.68,751.25 189.06,763.64 189.44,775.39 189.82,786.36 190.19,796.44 190.57,805.54 190.95,813.56 191.33,820.42 191.71,826.05 192.09,830.39 192.47,833.40 192.85,835.04 193.23,835.31 193.60,834.20 193.98,831.72 194.36,827.90 194.74,822.77 195.12,816.38 195.50,808.81 195.88,800.13 196.26,790.43 196.64,779.80 197.01,768.36 197.39,756.21 197.77,743.50 198.15,730.33 198.53,716.86 198.91,703.21 199.29,689.52 199.67,675.94 200.05,662.60 200.42,649.63 200.80,637.18 201.18,625.36 201.56,614.29 201.94,604.10 202.32,594.87 202.70,586.71 203.08,579.70 203.46,573.91 203.84,569.40 204.21,566.22 204.59,564.39 204.97,563.93 205.35,564.86 205.73,567.15 206.11,570.79 206.49,575.75 206.87,581.96 207.25,589.37 207.62,597.90 208.00,607.46 208.38,617.96 208.76,629.29 209.14,641.34 209.52,653.98 209.90,667.08 210.28,680.51 210.66,694.14 211.03,707.82 211.41,721.42 211.79,734.79 212.17,747.81 212.55,760.34 212.93,772.25 213.31,783.42 213.69,793.74 214.07,803.11 214.44,811.42 214.82,818.60 215.20,824.56 215.58,829.26 215.96,832.64 216.34,834.67 216.72,835.33 217.10,834.60 217.48,832.51 217.86,829.07 218.23,824.31 218.61,818.29 218.99,811.07 219.37,802.71 219.75,793.31 220.13,782.95 220.51,771.76 220.89,759.83 221.27,747.29 221.64,734.28 222.02,720.91 222.40,707.33 222.78,693.67 223.16,680.08 223.54,666.69 223.92,653.64 224.30,641.07 224.68,629.09 225.05,617.83 225.43,607.40 225.81,597.92 226.19,589.48 226.57,582.15 226.95,576.03 227.33,571.17 227.71,567.61 228.09,565.41 228.46,564.56 228.84,565.10 229.22,567.01 229.60,570.26 229.98,574.84 230.36,580.69 230.74,587.75 231.12,595.95 231.50,605.20 231.88,615.42 232.25,626.50 232.63,638.32 233.01,650.77 233.39,663.72 233.77,677.03 234.15,690.58 234.53,704.22 234.91,717.82 235.29,731.23 235.66,744.32 236.04,756.97 236.42,769.03 236.80,780.39 237.18,790.93 237.56,800.54 237.94,809.13 238.32,816.62 238.70,822.91 239.07,827.96 239.45,831.70 239.83,834.10 240.21,835.14 240.59,834.81 240.97,833.11 241.35,830.05 241.73,825.68 242.11,820.02 242.48,813.15 242.86,805.13 243.24,796.04 243.62,785.97 244.00,775.04 244.38,763.34 244.76,751.00 245.14,738.15 245.52,724.91 245.90,711.42 246.27,697.81 246.65,684.23 247.03,670.82 247.41,657.70 247.79,645.02 248.17,632.89 248.55,621.46 248.93,610.82 249.31,601.10 249.68,592.38 250.06,584.76 250.44,578.31 250.82,573.11 251.20,569.19 251.58,566.61 251.96,565.39 252.34,565.54 252.72,567.05 253.09,569.92 253.47,574.12 253.85,579.60 254.23,586.30 254.61,594.16 254.99,603.09 255.37,613.02 255.75,623.83 256.13,635.41 256.51,647.66 256.88,660.43 257.26,673.61 257.64,687.06 258.02,700.64 258.40,714.22 258.78,727.65 259.16,740.80 259.54,753.54 259.92,765.73 260.29,777.26 260.67,788.00 261.05,797.85 261.43,806.71 261.81,814.49 262.19,821.10 262.57,826.48 262.95,830.58 263.33,833.35 263.70,834.78 264.08,834.83 264.46,833.52 264.84,830.85 265.22,826.85 265.60,821.57 265.98,815.06 266.36,807.38 266.74,798.62 267.11,788.86 267.49,778.19 267.87,766.74 268.25,754.62 268.63,741.94 269.01,728.85 269.39,715.46 269.77,701.93 270.15,688.38 270.53,674.95 270.90,661.79 271.28,649.02 271.66,636.77 272.04,625.18 272.42,614.35 272.80,604.39 273.18,595.42 273.56,587.51 273.94,580.75 274.31,575.21 274.69,570.95 275.07,568.00 275.45,566.40 275.83,566.16 276.21,567.29 276.59,569.77 276.97,573.58 277.35,578.68 277.72,585.02 278.10,592.53 278.48,601.14 278.86,610.76 279.24,621.29 279.62,632.62 280.00,644.64 280.38,657.23 280.76,670.26 281.13,683.59 281.51,697.09 281.89,710.62 282.27,724.06 282.65,737.25 283.03,750.06 283.41,762.37 283.79,774.05 284.17,784.98 284.55,795.05 284.92,804.16 285.30,812.21 285.68,819.13 286.06,824.84 286.44,829.29 286.82,832.42 287.20,834.22 287.58,834.66 287.96,833.73 288.33,831.45 288.71,827.84 289.09,822.94 289.47,816.80 289.85,809.47 290.23,801.04 290.61,791.59 290.99,781.21 291.37,770.02 291.74,758.13 292.12,745.65 292.50,732.71 292.88,719.46 293.26,706.01 293.64,692.51 294.02,679.10 294.40,665.90 294.78,653.07 295.15,640.71 295.53,628.98 295.91,617.97 296.29,607.80 296.67,598.58 297.05,590.40 297.43,583.35 297.81,577.49 298.19,572.88 298.57,569.57 298.94,567.60 299.32,566.98 299.70,567.72 300.08,569.81 300.46,573.24 300.84,577.96 301.22,583.93 301.60,591.08 301.98,599.35 302.35,608.65 302.73,618.89 303.11,629.95 303.49,641.74 303.87,654.12 304.25,666.97 304.63,680.17 305.01,693.58 305.39,707.05 305.76,720.46 306.14,733.67 306.52,746.55 306.90,758.95 307.28,770.76 307.66,781.86 308.04,792.14 308.42,801.48 308.80,809.80 309.17,817.01 309.55,823.04 309.93,827.82 310.31,831.32 310.69,833.48 311.07,834.30 311.45,833.76 311.83,831.87 312.21,828.65 312.59,824.13 312.96,818.35 313.34,811.39 313.72,803.30 314.10,794.17 314.48,784.09 314.86,773.18 315.24,761.52 315.62,749.26 316.00,736.50 316.37,723.39 316.75,710.05 317.13,696.62 317.51,683.23 317.89,670.03 318.27,657.14 318.65,644.71 319.03,632.84 319.41,621.67 319.78,611.31 320.16,601.87 320.54,593.43 320.92,586.09 321.30,579.91 321.68,574.97 322.06,571.31 322.44,568.98 322.82,567.98 323.19,568.34 323.57,570.04 323.95,573.08 324.33,577.42 324.71,583.01 325.09,589.80 325.47,597.73 325.85,606.70 326.23,616.63 326.61,627.41 326.98,638.95 327.36,651.11 327.74,663.78 328.12,676.82 328.50,690.11 328.88,703.51 329.26,716.88 329.64,730.09 330.02,743.00 330.39,755.49 330.77,767.41 331.15,778.66 331.53,789.13 331.91,798.69 332.29,807.26 332.67,814.75 333.05,821.08 333.43,826.19 333.80,830.03 334.18,832.56 334.56,833.75 334.94,833.60 335.32,832.09 335.70,829.26 336.08,825.12 336.46,819.73 336.84,813.13 337.21,805.39 337.59,796.59 337.97,786.83 338.35,776.20 338.73,764.80 339.11,752.76 339.49,740.20 339.87,727.25 340.25,714.03 340.63,700.69 341.00,687.35 341.38,674.16 341.76,661.25 342.14,648.74 342.52,636.77 342.90,625.46 343.28,614.92 343.66,605.26 344.04,596.58 344.41,588.96 344.79,582.49 345.17,577.23 345.55,573.23 345.93,570.53 346.31,569.16 346.69,569.14 347.07,570.46 347.45,573.11 347.82,577.06 348.20,582.28 348.58,588.70 348.96,596.27 349.34,604.90 349.72,614.52 350.10,625.01 350.48,636.28 350.86,648.21 351.23,660.67 351.61,673.55 351.99,686.71 352.37,700.01 352.75,713.32 353.13,726.51 353.51,739.44 353.89,751.98 354.27,764.01 354.65,775.39 355.02,786.02 355.40,795.79 355.78,804.60 356.16,812.35 356.54,818.98 356.92,824.41 357.30,828.58 357.68,831.47 358.06,833.03 358.43,833.25 358.81,832.13 359.19,829.68 359.57,825.93 359.95,820.92 360.33,814.69 360.71,807.31 361.09,798.85 361.47,789.41 361.84,779.08 362.22,767.95 362.60,756.16 362.98,743.81 363.36,731.03 363.74,717.96 364.12,704.72 364.50,691.45 364.88,678.29 365.25,665.36 365.63,652.80 366.01,640.75 366.39,629.31 366.77,618.61 367.15,608.76 367.53,599.85 367.91,591.97 368.29,585.22 368.67,579.64 369.04,575.31 369.42,572.26 369.80,570.53 370.18,570.13 370.56,571.06 370.94,573.33 371.32,576.89 371.70,581.73 372.08,587.78 372.45,594.98 372.83,603.27 373.21,612.56 373.59,622.75 373.97,633.74 374.35,645.42 374.73,657.67 375.11,670.36 375.49,683.36 375.86,696.55 376.24,709.79 376.62,722.94 377.00,735.88 377.38,748.46 377.76,760.56 378.14,772.06 378.52,782.84 378.90,792.80 379.27,801.83 379.65,809.83 380.03,816.74 380.41,822.47 380.79,826.97 381.17,830.20 381.55,832.12 381.93,832.72 382.31,831.98 382.69,829.92 383.06,826.56 383.44,821.92 383.82,816.07 384.20,809.05 384.58,800.95 384.96,791.84 385.34,781.81 385.72,770.97 386.10,759.43 386.47,747.31 386.85,734.73 387.23,721.81 387.61,708.69 387.99,695.51 388.37,682.39 388.75,669.48 389.13,656.89 389.51,644.76 389.88,633.22 390.26,622.38 390.64,612.34 391.02,603.22 391.40,595.10 391.78,588.07 392.16,582.20 392.54,577.55 392.92,574.16 393.29,572.07 393.67,571.30 394.05,571.85 394.43,573.73 394.81,576.91 395.19,581.36 395.57,587.04 395.95,593.88 396.33,601.81 396.71,610.77 397.08,620.64 397.46,631.34 397.84,642.76 398.22,654.77 398.60,667.26 398.98,680.10 399.36,693.16 399.74,706.30 400.12,719.40 400.49,732.31 400.87,744.91 401.25,757.08 401.63,768.67 402.01,779.59 402.39,789.72 402.77,798.95 403.15,807.19 403.53,814.36 403.90,820.39 404.28,825.21 404.66,828.77 405.04,831.05 405.42,832.01 405.80,831.65 406.18,829.97 406.56,826.99 406.94,822.74 407.31,817.27 407.69,810.62 408.07,802.87 408.45,794.10 408.83,784.39 409.21,773.85 409.59,762.58 409.97,750.70 410.35,738.32 410.73,725.58 411.10,712.61 411.48,699.53 411.86,686.48 412.24,673.59 412.62,660.99 413.00,648.81 413.38,637.18 413.76,626.21 414.14,616.01 414.51,606.70 414.89,598.35 415.27,591.06 415.65,584.90 416.03,579.94 416.41,576.22 416.79,573.78 417.17,572.64 417.55,572.82 417.92,574.32 418.30,577.12 418.68,581.18 419.06,586.48 419.44,592.95 419.82,600.52 420.20,609.13 420.58,618.68 420.96,629.08 421.33,640.22 421.71,651.99 422.09,664.26 422.47,676.92 422.85,689.83 423.23,702.86 423.61,715.88 423.99,728.76 424.37,741.36 424.75,753.57 425.12,765.25 425.50,776.28 425.88,786.56 426.26,795.98 426.64,804.44 427.02,811.86 427.40,818.16 427.78,823.29 428.16,827.18 428.53,829.80 428.91,831.13 429.29,831.14 429.67,829.84 430.05,827.25 430.43,823.38 430.81,818.29 431.19,812.01 431.57,804.63 431.94,796.20 432.32,786.82 432.70,776.59 433.08,765.60 433.46,753.97 433.84,741.82 434.22,729.27 434.60,716.45 434.98,703.49 435.35,690.52 435.73,677.68 436.11,665.09 436.49,652.88 436.87,641.18 437.25,630.10 437.63,619.76 438.01,610.26 438.39,601.70 438.77,594.17 439.14,587.74 439.52,582.48 439.90,578.43 440.28,575.65 440.66,574.16 441.04,573.97 441.42,575.09 441.80,577.50 442.18,581.19 442.55,586.10 442.93,592.19 443.31,599.41 443.69,607.66 444.07,616.88 444.45,626.97 444.83,637.82 445.21,649.33 445.59,661.37 445.96,673.83 446.34,686.57 446.72,699.47 447.10,712.40 447.48,725.23 447.86,737.82 448.24,750.04 448.62,761.78 449.00,772.92 449.37,783.33 449.75,792.92 450.13,801.59 450.51,809.24 450.89,815.81 451.27,821.23 451.65,825.44 452.03,828.39 452.41,830.07 452.79,830.45 453.16,829.53 453.54,827.31 453.92,823.83 454.30,819.12 454.68,813.22 455.06,806.20 455.44,798.13 455.82,789.09 456.20,779.17 456.57,768.48 456.95,757.12 457.33,745.20 457.71,732.86 458.09,720.21 458.47,707.39 458.85,694.52 459.23,681.74 459.61,669.18 459.98,656.95 460.36,645.20 460.74,634.03 461.12,623.57 461.50,613.91 461.88,605.15 462.26,597.39 462.64,590.70 463.02,585.15 463.39,580.80 463.77,577.69 464.15,575.85 464.53,575.30 464.91,576.04 465.29,578.08 465.67,581.37 466.05,585.90 466.43,591.62 466.81,598.47 467.18,606.37 467.56,615.25 467.94,625.01 468.32,635.56 468.70,646.80 469.08,658.59 469.46,670.84 469.84,683.40 470.22,696.16 470.59,708.98 470.97,721.73 471.35,734.28 471.73,746.51 472.11,758.30 472.49,769.51 472.87,780.04 473.25,789.79 473.63,798.64 474.00,806.52 474.38,813.34 474.76,819.04 475.14,823.55 475.52,826.83 475.90,828.85 476.28,829.59 476.66,829.04 477.04,827.20 477.41,824.10 477.79,819.77 478.17,814.25 478.55,807.61 478.93,799.89 479.31,791.20 479.69,781.60 480.07,771.21 480.45,760.13 480.83,748.47 481.20,736.35 481.58,723.89 481.96,711.22 482.34,698.47 482.72,685.77 483.10,673.25 483.48,661.03 483.86,649.24 484.24,638.00 484.61,627.43 484.99,617.62 485.37,608.69 485.75,600.71 486.13,593.78 486.51,587.96 486.89,583.31 487.27,579.88 487.65,577.70 488.02,576.79 488.40,577.17 488.78,578.83 489.16,581.74 489.54,585.89 489.92,591.23 490.30,597.70 490.68,605.24 491.06,613.77 491.43,623.21 491.81,633.45 492.19,644.40 492.57,655.94 492.95,667.95 493.33,680.32 493.71,692.92 494.09,705.61 494.47,718.27 494.85,730.77 495.22,742.99 495.60,754.80 495.98,766.07 496.36,776.71 496.74,786.59 497.12,795.61 497.50,803.70 497.88,810.75 498.26,816.71 498.63,821.52 499.01,825.11 499.39,827.47 499.77,828.56 500.15,828.37 500.53,826.91 500.91,824.19 501.29,820.24 501.67,815.11 502.04,808.83 502.42,801.48 502.80,793.13 503.18,783.88 503.56,773.80 503.94,763.01 504.32,751.61 504.70,739.72 505.08,727.47 505.45,714.97 505.83,702.36 506.21,689.75 506.59,677.29 506.97,665.10 507.35,653.29 507.73,642.00 508.11,631.33 508.49,621.40 508.87,612.30 509.24,604.13 509.62,596.97 510.00,590.89 510.38,585.96 510.76,582.22 511.14,579.71 511.52,578.45 511.90,578.47 512.28,579.75 512.65,582.29 513.03,586.06 513.41,591.02 513.79,597.11 514.17,604.29 514.55,612.47 514.93,621.56 515.31,631.49 515.69,642.14 516.06,653.41 516.44,665.18 516.82,677.34 517.20,689.76 517.58,702.31 517.96,714.86 518.34,727.30 518.72,739.48 519.10,751.29 519.47,762.61 519.85,773.33 520.23,783.33 520.61,792.51 520.99,800.78 521.37,808.06 521.75,814.27 522.13,819.35 522.51,823.25 522.89,825.93 523.26,827.37 523.64,827.54 524.02,826.45 524.40,824.10 524.78,820.54 525.16,815.78 525.54,809.88 525.92,802.90 526.30,794.91 526.67,785.99 527.05,776.23 527.43,765.74 527.81,754.62 528.19,742.98 528.57,730.94 528.95,718.63 529.33,706.17 529.71,693.68 530.08,681.30 530.46,669.15 530.84,657.34 531.22,646.02 531.60,635.28 531.98,625.23 532.36,615.99 532.74,607.64 533.12,600.26 533.49,593.94 533.87,588.73 534.25,584.69 534.63,581.86 535.01,580.27 535.39,579.93 535.77,580.85 536.15,583.02 536.53,586.41 536.91,590.98 537.28,596.70 537.66,603.51 538.04,611.33 538.42,620.08 538.80,629.68 539.18,640.03 539.56,651.02 539.94,662.54 540.32,674.47 540.69,686.69 541.07,699.08 541.45,711.51 541.83,723.86 542.21,735.99 542.59,747.80 542.97,759.14 543.35,769.92 543.73,780.02 544.10,789.34 544.48,797.79 544.86,805.27 545.24,811.72 545.62,817.07 546.00,821.26 546.38,824.25 546.76,826.02 547.14,826.54 547.52,825.81 547.89,823.84 548.27,820.65 548.65,816.27 549.03,810.75 549.41,804.14 549.79,796.51 550.17,787.94 550.55,778.51 550.93,768.33 551.30,757.49 551.68,746.12 552.06,734.31 552.44,722.20 552.82,709.90 553.20,697.55 553.58,685.26 553.96,673.16 554.34,661.38 554.71,650.04 555.09,639.24 555.47,629.11 555.85,619.73 556.23,611.22 556.61,603.64 556.99,597.09 557.37,591.63 557.75,587.30 558.12,584.17 558.50,582.25 558.88,581.56 559.26,582.12 559.64,583.92 560.02,586.93 560.40,591.13 560.78,596.47 561.16,602.91 561.54,610.36 561.91,618.77 562.29,628.03 562.67,638.06 563.05,648.76 563.43,660.01 563.81,671.71 564.19,683.72 564.57,695.94 564.95,708.23 565.32,720.47 565.70,732.54 566.08,744.31 566.46,755.67 566.84,766.50 567.22,776.68 567.60,786.12 567.98,794.72 568.36,802.40 568.73,809.07 569.11,814.67 569.49,819.13 569.87,822.43 570.25,824.52 570.63,825.38 571.01,825.01 571.39,823.41 571.77,820.59 572.14,816.59 572.52,811.44 572.90,805.20 573.28,797.94 573.66,789.72 574.04,780.63 574.42,770.77 574.80,760.23 575.18,749.12 575.56,737.56 575.93,725.66 576.31,713.55 576.69,701.34 577.07,689.17 577.45,677.15 577.83,665.40 578.21,654.06 578.59,643.22 578.97,633.01 579.34,623.53 579.72,614.86 580.10,607.11 580.48,600.34 580.86,594.63 581.24,590.04 581.62,586.60 582.00,584.37 582.38,583.34 582.75,583.55 583.13,584.98 583.51,587.62 583.89,591.45 584.27,596.42 584.65,602.48 585.03,609.57 585.41,617.62 585.79,626.54 586.16,636.25 586.54,646.65 586.92,657.62 587.30,669.06 587.68,680.86 588.06,692.89 588.44,705.02 588.82,717.15 589.20,729.13 589.58,740.86 589.95,752.21 590.33,763.06 590.71,773.31 591.09,782.86 591.47,791.60 591.85,799.44 592.23,806.32 592.61,812.15 592.99,816.89 593.36,820.48 593.74,822.88 594.12,824.07 594.50,824.05 594.88,822.81 595.26,820.36 595.64,816.73 596.02,811.96 596.40,806.09 596.77,799.19 597.15,791.33 597.53,782.59 597.91,773.05 598.29,762.82 598.67,752.00 599.05,740.69 599.43,729.02 599.81,717.10 600.18,705.06 600.56,693.01 600.94,681.08 601.32,669.39 601.70,658.06 602.08,647.21 602.46,636.94 602.84,627.36 603.22,618.57 603.60,610.65 603.97,603.68 604.35,597.74 604.73,592.89 605.11,589.17 605.49,586.63 605.87,585.28 606.25,585.14 606.63,586.21 607.01,588.49 607.38,591.94 607.76,596.53 608.14,602.22 608.52,608.94 608.90,616.63 609.28,625.21 609.66,634.59 610.04,644.68 610.42,655.37 610.79,666.55 611.17,678.11 611.55,689.93 611.93,701.90 612.31,713.89 612.69,725.77 613.07,737.43 613.45,748.76 613.83,759.62 614.20,769.92 614.58,779.55 614.96,788.42 615.34,796.42 615.72,803.49 616.10,809.55 616.48,814.53 616.86,818.39 617.24,821.10 617.62,822.62 617.99,822.93 618.37,822.04 618.75,819.96 619.13,816.70 619.51,812.30 619.89,806.81 620.27,800.28 620.65,792.78 621.03,784.39 621.40,775.18 621.78,765.26 622.16,754.73 622.54,743.69 622.92,732.26 623.30,720.55 623.68,708.69 624.06,696.78 624.44,684.96 624.81,673.34 625.19,662.05 625.57,651.19 625.95,640.88 626.33,631.23 626.71,622.32 627.09,614.25 627.47,607.10 627.85,600.95 628.22,595.85 628.60,591.86 628.98,589.02 629.36,587.35 629.74,586.88 630.12,587.61 630.50,589.52 630.88,592.60 631.26,596.82 631.64,602.14 632.01,608.49 632.39,615.82 632.77,624.05 633.15,633.09 633.53,642.86 633.91,653.25 634.29,664.16 634.67,675.48 635.05,687.08 635.42,698.87 635.80,710.70 636.18,722.47 636.56,734.05 636.94,745.33 637.32,756.19 637.70,766.53 638.08,776.23 638.46,785.19 638.83,793.34 639.21,800.58 639.59,806.85 639.97,812.07 640.35,816.20 640.73,819.19 641.11,821.02 641.49,821.66 641.87,821.12 642.24,819.39 642.62,816.50 643.00,812.48 643.38,807.36 643.76,801.20 644.14,794.06 644.52,786.02 644.90,777.15 645.28,767.55 645.66,757.32 646.03,746.56 646.41,735.38 646.79,723.90 647.17,712.22 647.55,700.47 647.93,688.78 648.31,677.25 648.69,666.01 649.07,655.16 649.44,644.83 649.82,635.11 650.20,626.11 650.58,617.90 650.96,610.59 651.34,604.24 651.72,598.91 652.10,594.66 652.48,591.54 652.85,589.57 653.23,588.77 653.61,589.15 653.99,590.71 654.37,593.43 654.75,597.28 655.13,602.22 655.51,608.21 655.89,615.17 656.26,623.05 656.64,631.75 657.02,641.19 657.40,651.28 657.78,661.91 658.16,672.97 658.54,684.35 658.92,695.93 659.30,707.60 659.68,719.24 660.05,730.72 660.43,741.94 660.81,752.78 661.19,763.13 661.57,772.88 661.95,781.94 662.33,790.21 662.71,797.61 663.09,804.06 663.46,809.51 663.84,813.89 664.22,817.16 664.60,819.29 664.98,820.25 665.36,820.05 665.74,818.67 666.12,816.14 666.50,812.48 666.87,807.73 667.25,801.94 667.63,795.17 668.01,787.48 668.39,778.96 668.77,769.69 669.15,759.77 669.53,749.30 669.91,738.38 670.28,727.13 670.66,715.65 671.04,704.08 671.42,692.52 671.80,681.10 672.18,669.92 672.56,659.11 672.94,648.77 673.32,639.01 673.70,629.92 674.07,621.61 674.45,614.14 674.83,607.61 675.21,602.06 675.59,597.57 675.97,594.18 676.35,591.91 676.73,590.80 677.11,590.85 677.48,592.06 677.86,594.42 678.24,597.91 678.62,602.48 679.00,608.10" fill="none" stroke="#ffa500" stroke-width="2.1" stroke-linejoin="round"/>
<path d="M112.40 585.54V592.35" stroke="#8b0000" stroke-width="2.9" fill="none"/>
<path d="M114.87 643.82V650.70" stroke="#8b0000" stroke-width="2.9" fill="none"/>
<path d="M117.33 728.51V735.44" stroke="#8b0000" stroke-width="2.9" fill="none"/>
<path d="M119.80 808.15V815.15" stroke="#8b0000" stroke-width="2.9" fill="none"/>
<path d="M122.26 836.18V843.25" stroke="#8b0000" stroke-width="2.9" fill="none"/>
<path d="M124.73 810.58V817.71" stroke="#8b0000" stroke-width="2.9" fill="none"/>
<path d="M127.19 736.90V744.09" stroke="#8b0000" stroke-width="2.9" fill="none"/>
<path d="M129.66 646.85V654.11" stroke="#8b0000" stroke-width="2.9" fill="none"/>
<path d="M132.12 588.64V595.96" stroke="#8b0000" stroke-width="2.9" fill="none"/>
<path d="M134.59 564.31V571.69" stroke="#8b0000" stroke-width="2.9" fill="none"/>
<path d="M137.05 597.67V605.12" stroke="#8b0000" stroke-width="2.9" fill="none"/>
<path d="M139.52 675.94V683.46" stroke="#8b0000" stroke-width="2.9" fill="none"/>
<path d="M141.98 757.87V765.45" stroke="#8b0000" stroke-width="2.9" fill="none"/>
<path d="M144.44 819.87V827.52" stroke="#8b0000" stroke-width="2.9" fill="none"/>
<path d="M146.91 832.90V840.62" stroke="#8b0000" stroke-width="2.9" fill="none"/>
<path d="M149.38 787.33V795.12" stroke="#8b0000" stroke-width="2.9" fill="none"/>
<path d="M151.84 696.41V704.26" stroke="#8b0000" stroke-width="2.9" fill="none"/>
<path d="M154.31 621.62V629.54" stroke="#8b0000" stroke-width="2.9" fill="none"/>
<path d="M156.77 572.68V580.68" stroke="#8b0000" stroke-width="2.9" fill="none"/>
<path d="M159.24 569.46V577.54" stroke="#8b0000" stroke-width="2.9" fill="none"/>
<path d="M161.70 626.65V634.79" stroke="#8b0000" stroke-width="2.9" fill="none"/>
<path d="M164.17 711.42V719.64" stroke="#8b0000" stroke-width="2.9" fill="none"/>
<path d="M166.63 793.33V801.62" stroke="#8b0000" stroke-width="2.9" fill="none"/>
<path d="M169.09 833.55V841.91" stroke="#8b0000" stroke-width="2.9" fill="none"/>
<path d="M171.56 818.22V826.66" stroke="#8b0000" stroke-width="2.9" fill="none"/>
<path d="M174.03 752.93V761.45" stroke="#8b0000" stroke-width="2.9" fill="none"/>
<path d="M176.49 664.30V672.88" stroke="#8b0000" stroke-width="2.9" fill="none"/>
<path d="M178.95 594.15V602.81" stroke="#8b0000" stroke-width="2.9" fill="none"/>
<path d="M181.42 569.13V577.87" stroke="#8b0000" stroke-width="2.9" fill="none"/>
<path d="M183.88 584.86V593.68" stroke="#8b0000" stroke-width="2.9" fill="none"/>
<path d="M186.35 665.30V674.20" stroke="#8b0000" stroke-width="2.9" fill="none"/>
<path d="M188.81 745.93V754.90" stroke="#8b0000" stroke-width="2.9" fill="none"/>
<path d="M191.28 820.00V829.06" stroke="#8b0000" stroke-width="2.9" fill="none"/>
<path d="M193.75 833.24V842.38" stroke="#8b0000" stroke-width="2.9" fill="none"/>
<path d="M196.21 802.41V811.63" stroke="#8b0000" stroke-width="2.9" fill="none"/>
<path d="M198.68 721.63V730.94" stroke="#8b0000" stroke-width="2.9" fill="none"/>
<path d="M201.14 628.04V637.42" stroke="#8b0000" stroke-width="2.9" fill="none"/>
<path d="M203.61 577.72V587.19" stroke="#8b0000" stroke-width="2.9" fill="none"/>
<path d="M206.07 568.72V578.28" stroke="#8b0000" stroke-width="2.9" fill="none"/>
<path d="M208.53 619.02V628.66" stroke="#8b0000" stroke-width="2.9" fill="none"/>
<path d="M211.00 693.41V703.14" stroke="#8b0000" stroke-width="2.9" fill="none"/>
<path d="M213.47 770.75V780.57" stroke="#8b0000" stroke-width="2.9" fill="none"/>
<path d="M215.93 825.90V835.80" stroke="#8b0000" stroke-width="2.9" fill="none"/>
<path d="M218.39 822.06V832.05" stroke="#8b0000" stroke-width="2.9" fill="none"/>
<path d="M220.86 770.54V780.62" stroke="#8b0000" stroke-width="2.9" fill="none"/>
<path d="M223.32 694.05V704.22" stroke="#8b0000" stroke-width="2.9" fill="none"/>
<path d="M225.79 606.97V617.23" stroke="#8b0000" stroke-width="2.9" fill="none"/>
<path d="M228.25 570.52V580.88" stroke="#8b0000" stroke-width="2.9" fill="none"/>
<path d="M230.72 570.19V580.64" stroke="#8b0000" stroke-width="2.9" fill="none"/>
<path d="M233.19 643.98V654.52" stroke="#8b0000" stroke-width="2.9" fill="none"/>
<path d="M235.65 720.96V731.59" stroke="#8b0000" stroke-width="2.9" fill="none"/>
<path d="M238.12 797.62V808.34" stroke="#8b0000" stroke-width="2.9" fill="none"/>
<path d="M240.58 823.48V834.30" stroke="#8b0000" stroke-width="2.9" fill="none"/>
<path d="M243.04 810.30V821.22" stroke="#8b0000" stroke-width="2.9" fill="none"/>
<path d="M245.51 733.63V744.65" stroke="#8b0000" stroke-width="2.9" fill="none"/>
<path d="M247.97 656.66V667.77" stroke="#8b0000" stroke-width="2.9" fill="none"/>
<path d="M250.44 576.49V587.71" stroke="#8b0000" stroke-width="2.9" fill="none"/>
<path d="M252.91 572.14V583.46" stroke="#8b0000" stroke-width="2.9" fill="none"/>
<path d="M255.37 600.04V611.46" stroke="#8b0000" stroke-width="2.9" fill="none"/>
<path d="M257.84 677.95V689.46" stroke="#8b0000" stroke-width="2.9" fill="none"/>
<path d="M260.30 750.18V761.80" stroke="#8b0000" stroke-width="2.9" fill="none"/>
<path d="M262.76 810.32V822.05" stroke="#8b0000" stroke-width="2.9" fill="none"/>
<path d="M265.23 828.49V840.31" stroke="#8b0000" stroke-width="2.9" fill="none"/>
<path d="M267.69 785.06V796.99" stroke="#8b0000" stroke-width="2.9" fill="none"/>
<path d="M270.16 703.01V715.05" stroke="#8b0000" stroke-width="2.9" fill="none"/>
<path d="M272.62 624.18V636.32" stroke="#8b0000" stroke-width="2.9" fill="none"/>
<path d="M275.09 578.17V590.43" stroke="#8b0000" stroke-width="2.9" fill="none"/>
<path d="M277.56 576.30V588.66" stroke="#8b0000" stroke-width="2.9" fill="none"/>
<path d="M280.02 625.81V638.28" stroke="#8b0000" stroke-width="2.9" fill="none"/>
<path d="M282.49 709.41V722.00" stroke="#8b0000" stroke-width="2.9" fill="none"/>
<path d="M284.95 787.09V799.79" stroke="#8b0000" stroke-width="2.9" fill="none"/>
<path d="M287.41 817.09V829.91" stroke="#8b0000" stroke-width="2.9" fill="none"/>
<path d="M289.88 806.13V819.06" stroke="#8b0000" stroke-width="2.9" fill="none"/>
<path d="M292.35 743.05V756.10" stroke="#8b0000" stroke-width="2.9" fill="none"/>
<path d="M294.81 667.62V680.77" stroke="#8b0000" stroke-width="2.9" fill="none"/>
<path d="M297.27 597.72V610.99" stroke="#8b0000" stroke-width="2.9" fill="none"/>
<path d="M299.74 580.90V594.30" stroke="#8b0000" stroke-width="2.9" fill="none"/>
<path d="M302.20 598.24V611.76" stroke="#8b0000" stroke-width="2.9" fill="none"/>
<path d="M304.67 655.27V668.90" stroke="#8b0000" stroke-width="2.9" fill="none"/>
<path d="M307.13 729.51V743.26" stroke="#8b0000" stroke-width="2.9" fill="none"/>
<path d="M309.60 784.48V798.36" stroke="#8b0000" stroke-width="2.9" fill="none"/>
<path d="M312.06 820.80V834.80" stroke="#8b0000" stroke-width="2.9" fill="none"/>
<path d="M314.53 795.29V809.42" stroke="#8b0000" stroke-width="2.9" fill="none"/>
<path d="M317.00 708.89V723.15" stroke="#8b0000" stroke-width="2.9" fill="none"/>
<path d="M319.46 644.14V658.52" stroke="#8b0000" stroke-width="2.9" fill="none"/>
<path d="M321.92 583.03V597.54" stroke="#8b0000" stroke-width="2.9" fill="none"/>
<path d="M324.39 583.48V598.12" stroke="#8b0000" stroke-width="2.9" fill="none"/>
<path d="M326.86 626.32V641.09" stroke="#8b0000" stroke-width="2.9" fill="none"/>
<path d="M329.32 672.47V687.37" stroke="#8b0000" stroke-width="2.9" fill="none"/>
<path d="M331.78 746.33V761.37" stroke="#8b0000" stroke-width="2.9" fill="none"/>
<path d="M334.25 808.21V823.39" stroke="#8b0000" stroke-width="2.9" fill="none"/>
<path d="M336.72 802.99V818.30" stroke="#8b0000" stroke-width="2.9" fill="none"/>
<path d="M339.18 763.42V778.86" stroke="#8b0000" stroke-width="2.9" fill="none"/>
<path d="M341.64 699.96V715.54" stroke="#8b0000" stroke-width="2.9" fill="none"/>
<path d="M344.11 623.77V639.49" stroke="#8b0000" stroke-width="2.9" fill="none"/>
<path d="M346.57 589.47V605.33" stroke="#8b0000" stroke-width="2.9" fill="none"/>
<path d="M349.04 582.73V598.73" stroke="#8b0000" stroke-width="2.9" fill="none"/>
<path d="M351.50 637.38V653.52" stroke="#8b0000" stroke-width="2.9" fill="none"/>
<path d="M353.97 715.83V732.12" stroke="#8b0000" stroke-width="2.9" fill="none"/>
<path d="M356.44 768.33V784.76" stroke="#8b0000" stroke-width="2.9" fill="none"/>
<path d="M358.90 816.31V832.89" stroke="#8b0000" stroke-width="2.9" fill="none"/>
<path d="M361.37 785.46V802.18" stroke="#8b0000" stroke-width="2.9" fill="none"/>
<path d="M363.83 726.05V742.93" stroke="#8b0000" stroke-width="2.9" fill="none"/>
<path d="M366.29 667.05V684.08" stroke="#8b0000" stroke-width="2.9" fill="none"/>
<path d="M368.76 623.22V640.40" stroke="#8b0000" stroke-width="2.9" fill="none"/>
<path d="M371.23 592.03V609.37" stroke="#8b0000" stroke-width="2.9" fill="none"/>
<path d="M373.69 609.22V626.70" stroke="#8b0000" stroke-width="2.9" fill="none"/>
<path d="M376.15 666.71V684.35" stroke="#8b0000" stroke-width="2.9" fill="none"/>
<path d="M378.62 726.77V744.58" stroke="#8b0000" stroke-width="2.9" fill="none"/>
<path d="M381.09 802.84V820.80" stroke="#8b0000" stroke-width="2.9" fill="none"/>
<path d="M383.55 796.94V815.06" stroke="#8b0000" stroke-width="2.9" fill="none"/>
<path d="M386.01 764.47V782.75" stroke="#8b0000" stroke-width="2.9" fill="none"/>
<path d="M388.48 709.44V727.89" stroke="#8b0000" stroke-width="2.9" fill="none"/>
<path d="M390.94 659.17V677.78" stroke="#8b0000" stroke-width="2.9" fill="none"/>
<path d="M393.41 591.31V610.09" stroke="#8b0000" stroke-width="2.9" fill="none"/>
<path d="M395.88 595.53V614.47" stroke="#8b0000" stroke-width="2.9" fill="none"/>
<path d="M398.34 624.06V643.17" stroke="#8b0000" stroke-width="2.9" fill="none"/>
<path d="M400.80 709.00V728.28" stroke="#8b0000" stroke-width="2.9" fill="none"/>
<path d="M403.27 766.64V786.09" stroke="#8b0000" stroke-width="2.9" fill="none"/>
<path d="M405.74 814.48V834.12" stroke="#8b0000" stroke-width="2.9" fill="none"/>
<path d="M408.20 771.66V791.47" stroke="#8b0000" stroke-width="2.9" fill="none"/>
<path d="M410.66 739.32V759.30" stroke="#8b0000" stroke-width="2.9" fill="none"/>
<path d="M413.13 679.82V699.99" stroke="#8b0000" stroke-width="2.9" fill="none"/>
<path d="M415.60 605.65V626.00" stroke="#8b0000" stroke-width="2.9" fill="none"/>
<path d="M418.06 594.74V615.26" stroke="#8b0000" stroke-width="2.9" fill="none"/>
<path d="M420.52 589.67V610.37" stroke="#8b0000" stroke-width="2.9" fill="none"/>
<path d="M422.99 667.65V688.55" stroke="#8b0000" stroke-width="2.9" fill="none"/>
<path d="M425.46 729.43V750.51" stroke="#8b0000" stroke-width="2.9" fill="none"/>
<path d="M427.92 767.68V788.95" stroke="#8b0000" stroke-width="2.9" fill="none"/>
<path d="M430.38 795.97V817.43" stroke="#8b0000" stroke-width="2.9" fill="none"/>
<path d="M432.85 765.51V787.16" stroke="#8b0000" stroke-width="2.9" fill="none"/>
<path d="M435.31 716.61V738.45" stroke="#8b0000" stroke-width="2.9" fill="none"/>
<path d="M437.78 679.77V701.81" stroke="#8b0000" stroke-width="2.9" fill="none"/>
<path d="M440.25 620.82V643.06" stroke="#8b0000" stroke-width="2.9" fill="none"/>
<path d="M442.71 598.28V620.72" stroke="#8b0000" stroke-width="2.9" fill="none"/>
<path d="M445.17 636.21V658.84" stroke="#8b0000" stroke-width="2.9" fill="none"/>
<path d="M447.64 677.49V700.33" stroke="#8b0000" stroke-width="2.9" fill="none"/>
<path d="M450.11 748.42V771.46" stroke="#8b0000" stroke-width="2.9" fill="none"/>
<path d="M452.57 773.05V796.30" stroke="#8b0000" stroke-width="2.9" fill="none"/>
<path d="M455.03 796.07V819.53" stroke="#8b0000" stroke-width="2.9" fill="none"/>
<path d="M457.50 756.26V779.92" stroke="#8b0000" stroke-width="2.9" fill="none"/>
<path d="M459.97 693.86V717.73" stroke="#8b0000" stroke-width="2.9" fill="none"/>
<path d="M462.43 634.15V658.24" stroke="#8b0000" stroke-width="2.9" fill="none"/>
<path d="M464.89 596.50V620.80" stroke="#8b0000" stroke-width="2.9" fill="none"/>
<path d="M467.36 619.03V643.55" stroke="#8b0000" stroke-width="2.9" fill="none"/>
<path d="M469.82 654.52V679.26" stroke="#8b0000" stroke-width="2.9" fill="none"/>
<path d="M472.29 726.65V751.60" stroke="#8b0000" stroke-width="2.9" fill="none"/>
<path d="M474.75 736.68V761.86" stroke="#8b0000" stroke-width="2.9" fill="none"/>
<path d="M477.22 790.80V816.20" stroke="#8b0000" stroke-width="2.9" fill="none"/>
<path d="M479.68 774.26V799.89" stroke="#8b0000" stroke-width="2.9" fill="none"/>
<path d="M482.15 735.91V761.77" stroke="#8b0000" stroke-width="2.9" fill="none"/>
<path d="M484.62 691.10V717.19" stroke="#8b0000" stroke-width="2.9" fill="none"/>
<path d="M487.08 625.05V651.38" stroke="#8b0000" stroke-width="2.9" fill="none"/>
<path d="M489.54 607.20V633.76" stroke="#8b0000" stroke-width="2.9" fill="none"/>
<path d="M492.01 601.66V628.45" stroke="#8b0000" stroke-width="2.9" fill="none"/>
<path d="M494.48 669.92V696.96" stroke="#8b0000" stroke-width="2.9" fill="none"/>
<path d="M496.94 739.12V766.40" stroke="#8b0000" stroke-width="2.9" fill="none"/>
<path d="M499.40 770.04V797.56" stroke="#8b0000" stroke-width="2.9" fill="none"/>
<path d="M501.87 756.15V783.92" stroke="#8b0000" stroke-width="2.9" fill="none"/>
<path d="M504.34 751.08V779.09" stroke="#8b0000" stroke-width="2.9" fill="none"/>
<path d="M506.80 731.68V759.95" stroke="#8b0000" stroke-width="2.9" fill="none"/>
<path d="M509.26 652.56V681.08" stroke="#8b0000" stroke-width="2.9" fill="none"/>
<path d="M511.73 646.66V675.43" stroke="#8b0000" stroke-width="2.9" fill="none"/>
<path d="M514.19 589.15V618.18" stroke="#8b0000" stroke-width="2.9" fill="none"/>
<path d="M516.66 628.34V657.63" stroke="#8b0000" stroke-width="2.9" fill="none"/>
<path d="M519.12 685.23V714.77" stroke="#8b0000" stroke-width="2.9" fill="none"/>
<path d="M521.59 745.23V775.04" stroke="#8b0000" stroke-width="2.9" fill="none"/>
<path d="M524.05 764.36V794.44" stroke="#8b0000" stroke-width="2.9" fill="none"/>
<path d="M526.52 769.14V799.49" stroke="#8b0000" stroke-width="2.9" fill="none"/>
<path d="M528.99 760.61V791.23" stroke="#8b0000" stroke-width="2.9" fill="none"/>
<path d="M531.45 676.06V706.95" stroke="#8b0000" stroke-width="2.9" fill="none"/>
<path d="M533.91 673.12V704.29" stroke="#8b0000" stroke-width="2.9" fill="none"/>
<path d="M536.38 591.58V623.02" stroke="#8b0000" stroke-width="2.9" fill="none"/>
<path d="M538.85 591.64V623.36" stroke="#8b0000" stroke-width="2.9" fill="none"/>
<path d="M541.31 636.50V668.51" stroke="#8b0000" stroke-width="2.9" fill="none"/>
<path d="M543.77 738.85V771.15" stroke="#8b0000" stroke-width="2.9" fill="none"/>
<path d="M546.24 777.11V809.69" stroke="#8b0000" stroke-width="2.9" fill="none"/>
<path d="M548.70 764.86V797.74" stroke="#8b0000" stroke-width="2.9" fill="none"/>
<path d="M551.17 753.82V786.98" stroke="#8b0000" stroke-width="2.9" fill="none"/>
<path d="M553.63 714.27V747.73" stroke="#8b0000" stroke-width="2.9" fill="none"/>
<path d="M556.10 671.62V705.38" stroke="#8b0000" stroke-width="2.9" fill="none"/>
<path d="M558.56 613.47V647.53" stroke="#8b0000" stroke-width="2.9" fill="none"/>
<path d="M561.03 647.36V681.73" stroke="#8b0000" stroke-width="2.9" fill="none"/>
<path d="M563.50 632.86V667.54" stroke="#8b0000" stroke-width="2.9" fill="none"/>
<path d="M565.96 659.80V694.79" stroke="#8b0000" stroke-width="2.9" fill="none"/>
<path d="M568.42 747.25V782.55" stroke="#8b0000" stroke-width="2.9" fill="none"/>
<path d="M570.89 760.19V795.81" stroke="#8b0000" stroke-width="2.9" fill="none"/>
<path d="M573.36 761.90V797.83" stroke="#8b0000" stroke-width="2.9" fill="none"/>
<path d="M575.82 719.37V755.63" stroke="#8b0000" stroke-width="2.9" fill="none"/>
<path d="M578.28 715.84V752.41" stroke="#8b0000" stroke-width="2.9" fill="none"/>
<path d="M580.75 657.85V694.75" stroke="#8b0000" stroke-width="2.9" fill="none"/>
<path d="M583.22 626.08V663.32" stroke="#8b0000" stroke-width="2.9" fill="none"/>
<path d="M585.68 669.73V707.29" stroke="#8b0000" stroke-width="2.9" fill="none"/>
<path d="M588.14 656.45V694.35" stroke="#8b0000" stroke-width="2.9" fill="none"/>
<path d="M590.61 755.58V793.82" stroke="#8b0000" stroke-width="2.9" fill="none"/>
<path d="M593.07 719.99V758.57" stroke="#8b0000" stroke-width="2.9" fill="none"/>
<path d="M595.54 773.94V812.86" stroke="#8b0000" stroke-width="2.9" fill="none"/>
<path d="M598.00 744.05V783.32" stroke="#8b0000" stroke-width="2.9" fill="none"/>
<path d="M600.47 732.99V772.61" stroke="#8b0000" stroke-width="2.9" fill="none"/>
<path d="M602.93 677.76V717.74" stroke="#8b0000" stroke-width="2.9" fill="none"/>
<path d="M605.40 654.23V694.56" stroke="#8b0000" stroke-width="2.9" fill="none"/>
<path d="M607.87 597.05V637.75" stroke="#8b0000" stroke-width="2.9" fill="none"/>
<path d="M610.33 654.87V695.93" stroke="#8b0000" stroke-width="2.9" fill="none"/>
<path d="M612.79 665.29V706.71" stroke="#8b0000" stroke-width="2.9" fill="none"/>
<path d="M615.26 707.90V749.70" stroke="#8b0000" stroke-width="2.9" fill="none"/>
<path d="M617.73 729.62V771.78" stroke="#8b0000" stroke-width="2.9" fill="none"/>
<path d="M620.19 762.23V804.77" stroke="#8b0000" stroke-width="2.9" fill="none"/>
<path d="M622.65 702.84V745.76" stroke="#8b0000" stroke-width="2.9" fill="none"/>
<path d="M625.12 703.85V747.15" stroke="#8b0000" stroke-width="2.9" fill="none"/>
<path d="M627.58 652.03V695.72" stroke="#8b0000" stroke-width="2.9" fill="none"/>
<path d="M630.05 610.92V655.00" stroke="#8b0000" stroke-width="2.9" fill="none"/>
<path d="M632.51 600.56V645.04" stroke="#8b0000" stroke-width="2.9" fill="none"/>
<path d="M634.98 700.49V745.36" stroke="#8b0000" stroke-width="2.9" fill="none"/>
<path d="M637.44 657.16V702.44" stroke="#8b0000" stroke-width="2.9" fill="none"/>
<path d="M639.91 703.76V749.44" stroke="#8b0000" stroke-width="2.9" fill="none"/>
<path d="M642.38 765.96V812.04" stroke="#8b0000" stroke-width="2.9" fill="none"/>
<path d="M644.84 736.44V782.94" stroke="#8b0000" stroke-width="2.9" fill="none"/>
<path d="M647.30 720.54V767.46" stroke="#8b0000" stroke-width="2.9" fill="none"/>
<path d="M649.77 667.93V715.26" stroke="#8b0000" stroke-width="2.9" fill="none"/>
<path d="M652.23 616.52V664.28" stroke="#8b0000" stroke-width="2.9" fill="none"/>
<path d="M654.70 602.01V650.19" stroke="#8b0000" stroke-width="2.9" fill="none"/>
<path d="M657.16 661.78V710.39" stroke="#8b0000" stroke-width="2.9" fill="none"/>
<path d="M659.63 642.08V691.12" stroke="#8b0000" stroke-width="2.9" fill="none"/>
<path d="M662.09 721.56V771.04" stroke="#8b0000" stroke-width="2.9" fill="none"/>
<path d="M664.56 711.46V761.39" stroke="#8b0000" stroke-width="2.9" fill="none"/>
<path d="M667.02 747.42V797.78" stroke="#8b0000" stroke-width="2.9" fill="none"/>
<path d="M669.49 771.19V822.01" stroke="#8b0000" stroke-width="2.9" fill="none"/>
<path d="M671.95 706.36V757.64" stroke="#8b0000" stroke-width="2.9" fill="none"/>
<path d="M674.42 690.93V742.66" stroke="#8b0000" stroke-width="2.9" fill="none"/>
<path d="M676.88 699.34V751.53" stroke="#8b0000" stroke-width="2.9" fill="none"/>
<path d="M112.40 582.85L118.50 595.05L106.30 595.05Z" fill="#8b0000"/>
<path d="M114.87 641.16L120.97 653.36L108.77 653.36Z" fill="#8b0000"/>
<path d="M117.33 725.88L123.43 738.08L111.23 738.08Z" fill="#8b0000"/>
<path d="M119.80 805.55L125.89 817.75L113.70 817.75Z" fill="#8b0000"/>
<path d="M122.26 833.61L128.36 845.81L116.16 845.81Z" fill="#8b0000"/>
<path d="M124.73 808.04L130.83 820.24L118.63 820.24Z" fill="#8b0000"/>
<path d="M127.19 734.40L133.29 746.60L121.09 746.60Z" fill="#8b0000"/>
<path d="M129.66 644.38L135.75 656.58L123.56 656.58Z" fill="#8b0000"/>
<path d="M132.12 586.20L138.22 598.40L126.02 598.40Z" fill="#8b0000"/>
<path d="M134.59 561.90L140.69 574.10L128.49 574.10Z" fill="#8b0000"/>
<path d="M137.05 595.29L143.15 607.49L130.95 607.49Z" fill="#8b0000"/>
<path d="M139.52 673.60L145.62 685.80L133.42 685.80Z" fill="#8b0000"/>
<path d="M141.98 755.56L148.08 767.76L135.88 767.76Z" fill="#8b0000"/>
<path d="M144.44 817.59L150.54 829.79L138.34 829.79Z" fill="#8b0000"/>
<path d="M146.91 830.66L153.01 842.86L140.81 842.86Z" fill="#8b0000"/>
<path d="M149.38 785.13L155.47 797.33L143.28 797.33Z" fill="#8b0000"/>
<path d="M151.84 694.24L157.94 706.44L145.74 706.44Z" fill="#8b0000"/>
<path d="M154.31 619.48L160.41 631.68L148.21 631.68Z" fill="#8b0000"/>
<path d="M156.77 570.58L162.87 582.78L150.67 582.78Z" fill="#8b0000"/>
<path d="M159.24 567.40L165.34 579.60L153.14 579.60Z" fill="#8b0000"/>
<path d="M161.70 624.62L167.80 636.82L155.60 636.82Z" fill="#8b0000"/>
<path d="M164.17 709.43L170.27 721.63L158.07 721.63Z" fill="#8b0000"/>
<path d="M166.63 791.38L172.73 803.58L160.53 803.58Z" fill="#8b0000"/>
<path d="M169.09 831.63L175.19 843.83L163.00 843.83Z" fill="#8b0000"/>
<path d="M171.56 816.34L177.66 828.54L165.46 828.54Z" fill="#8b0000"/>
<path d="M174.03 751.09L180.12 763.29L167.93 763.29Z" fill="#8b0000"/>
<path d="M176.49 662.49L182.59 674.69L170.39 674.69Z" fill="#8b0000"/>
<path d="M178.95 592.38L185.05 604.58L172.85 604.58Z" fill="#8b0000"/>
<path d="M181.42 567.40L187.52 579.60L175.32 579.60Z" fill="#8b0000"/>
<path d="M183.88 583.17L189.98 595.37L177.78 595.37Z" fill="#8b0000"/>
<path d="M186.35 663.65L192.45 675.85L180.25 675.85Z" fill="#8b0000"/>
<path d="M188.81 744.32L194.91 756.52L182.72 756.52Z" fill="#8b0000"/>
<path d="M191.28 818.43L197.38 830.63L185.18 830.63Z" fill="#8b0000"/>
<path d="M193.75 831.71L199.84 843.91L187.65 843.91Z" fill="#8b0000"/>
<path d="M196.21 800.92L202.31 813.12L190.11 813.12Z" fill="#8b0000"/>
<path d="M198.68 720.18L204.78 732.38L192.58 732.38Z" fill="#8b0000"/>
<path d="M201.14 626.63L207.24 638.83L195.04 638.83Z" fill="#8b0000"/>
<path d="M203.61 576.36L209.71 588.56L197.51 588.56Z" fill="#8b0000"/>
<path d="M206.07 567.40L212.17 579.60L199.97 579.60Z" fill="#8b0000"/>
<path d="M208.53 617.74L214.63 629.94L202.44 629.94Z" fill="#8b0000"/>
<path d="M211.00 692.17L217.10 704.37L204.90 704.37Z" fill="#8b0000"/>
<path d="M213.47 769.56L219.56 781.76L207.37 781.76Z" fill="#8b0000"/>
<path d="M215.93 824.75L222.03 836.95L209.83 836.95Z" fill="#8b0000"/>
<path d="M218.39 820.96L224.49 833.16L212.29 833.16Z" fill="#8b0000"/>
<path d="M220.86 769.48L226.96 781.68L214.76 781.68Z" fill="#8b0000"/>
<path d="M223.32 693.03L229.42 705.23L217.22 705.23Z" fill="#8b0000"/>
<path d="M225.79 606.00L231.89 618.20L219.69 618.20Z" fill="#8b0000"/>
<path d="M228.25 569.60L234.35 581.80L222.16 581.80Z" fill="#8b0000"/>
<path d="M230.72 569.32L236.82 581.52L224.62 581.52Z" fill="#8b0000"/>
<path d="M233.19 643.15L239.28 655.35L227.09 655.35Z" fill="#8b0000"/>
<path d="M235.65 720.17L241.75 732.37L229.55 732.37Z" fill="#8b0000"/>
<path d="M238.12 796.88L244.22 809.08L232.02 809.08Z" fill="#8b0000"/>
<path d="M240.58 822.79L246.68 834.99L234.48 834.99Z" fill="#8b0000"/>
<path d="M243.04 809.66L249.14 821.86L236.94 821.86Z" fill="#8b0000"/>
<path d="M245.51 733.04L251.61 745.24L239.41 745.24Z" fill="#8b0000"/>
<path d="M247.97 656.11L254.07 668.31L241.88 668.31Z" fill="#8b0000"/>
<path d="M250.44 576.00L256.54 588.20L244.34 588.20Z" fill="#8b0000"/>
<path d="M252.91 571.70L259.00 583.90L246.81 583.90Z" fill="#8b0000"/>
<path d="M255.37 599.65L261.47 611.85L249.27 611.85Z" fill="#8b0000"/>
<path d="M257.84 677.60L263.94 689.80L251.74 689.80Z" fill="#8b0000"/>
<path d="M260.30 749.89L266.40 762.09L254.20 762.09Z" fill="#8b0000"/>
<path d="M262.76 810.08L268.87 822.28L256.66 822.28Z" fill="#8b0000"/>
<path d="M265.23 828.30L271.33 840.50L259.13 840.50Z" fill="#8b0000"/>
<path d="M267.69 784.93L273.80 797.13L261.59 797.13Z" fill="#8b0000"/>
<path d="M270.16 702.93L276.26 715.13L264.06 715.13Z" fill="#8b0000"/>
<path d="M272.62 624.15L278.73 636.35L266.52 636.35Z" fill="#8b0000"/>
<path d="M275.09 578.20L281.19 590.40L268.99 590.40Z" fill="#8b0000"/>
<path d="M277.56 576.38L283.66 588.58L271.45 588.58Z" fill="#8b0000"/>
<path d="M280.02 625.95L286.12 638.15L273.92 638.15Z" fill="#8b0000"/>
<path d="M282.49 709.61L288.59 721.81L276.38 721.81Z" fill="#8b0000"/>
<path d="M284.95 787.34L291.05 799.54L278.85 799.54Z" fill="#8b0000"/>
<path d="M287.41 817.40L293.51 829.60L281.31 829.60Z" fill="#8b0000"/>
<path d="M289.88 806.49L295.98 818.69L283.78 818.69Z" fill="#8b0000"/>
<path d="M292.35 743.48L298.45 755.68L286.25 755.68Z" fill="#8b0000"/>
<path d="M294.81 668.10L300.91 680.30L288.71 680.30Z" fill="#8b0000"/>
<path d="M297.27 598.26L303.38 610.46L291.17 610.46Z" fill="#8b0000"/>
<path d="M299.74 581.50L305.84 593.70L293.64 593.70Z" fill="#8b0000"/>
<path d="M302.20 598.90L308.31 611.10L296.10 611.10Z" fill="#8b0000"/>
<path d="M304.67 655.99L310.77 668.19L298.57 668.19Z" fill="#8b0000"/>
<path d="M307.13 730.28L313.24 742.48L301.03 742.48Z" fill="#8b0000"/>
<path d="M309.60 785.32L315.70 797.52L303.50 797.52Z" fill="#8b0000"/>
<path d="M312.06 821.70L318.17 833.90L305.96 833.90Z" fill="#8b0000"/>
<path d="M314.53 796.25L320.63 808.45L308.43 808.45Z" fill="#8b0000"/>
<path d="M317.00 709.92L323.10 722.12L310.89 722.12Z" fill="#8b0000"/>
<path d="M319.46 645.23L325.56 657.43L313.36 657.43Z" fill="#8b0000"/>
<path d="M321.92 584.19L328.02 596.39L315.82 596.39Z" fill="#8b0000"/>
<path d="M324.39 584.70L330.49 596.90L318.29 596.90Z" fill="#8b0000"/>
<path d="M326.86 627.61L332.96 639.81L320.75 639.81Z" fill="#8b0000"/>
<path d="M329.32 673.82L335.42 686.02L323.22 686.02Z" fill="#8b0000"/>
<path d="M331.78 747.75L337.88 759.95L325.68 759.95Z" fill="#8b0000"/>
<path d="M334.25 809.70L340.35 821.90L328.15 821.90Z" fill="#8b0000"/>
<path d="M336.72 804.55L342.82 816.75L330.62 816.75Z" fill="#8b0000"/>
<path d="M339.18 765.04L345.28 777.24L333.08 777.24Z" fill="#8b0000"/>
<path d="M341.64 701.65L347.75 713.85L335.54 713.85Z" fill="#8b0000"/>
<path d="M344.11 625.53L350.21 637.73L338.01 637.73Z" fill="#8b0000"/>
<path d="M346.57 591.30L352.68 603.50L340.47 603.50Z" fill="#8b0000"/>
<path d="M349.04 584.63L355.14 596.83L342.94 596.83Z" fill="#8b0000"/>
<path d="M351.50 639.35L357.61 651.55L345.40 651.55Z" fill="#8b0000"/>
<path d="M353.97 717.88L360.07 730.08L347.87 730.08Z" fill="#8b0000"/>
<path d="M356.44 770.44L362.54 782.64L350.33 782.64Z" fill="#8b0000"/>
<path d="M358.90 818.50L365.00 830.70L352.80 830.70Z" fill="#8b0000"/>
<path d="M361.37 787.72L367.47 799.92L355.26 799.92Z" fill="#8b0000"/>
<path d="M363.83 728.39L369.93 740.59L357.73 740.59Z" fill="#8b0000"/>
<path d="M366.29 669.46L372.39 681.66L360.19 681.66Z" fill="#8b0000"/>
<path d="M368.76 625.71L374.86 637.91L362.66 637.91Z" fill="#8b0000"/>
<path d="M371.23 594.60L377.33 606.80L365.12 606.80Z" fill="#8b0000"/>
<path d="M373.69 611.86L379.79 624.06L367.59 624.06Z" fill="#8b0000"/>
<path d="M376.15 669.43L382.25 681.63L370.05 681.63Z" fill="#8b0000"/>
<path d="M378.62 729.58L384.72 741.78L372.52 741.78Z" fill="#8b0000"/>
<path d="M381.09 805.72L387.19 817.92L374.99 817.92Z" fill="#8b0000"/>
<path d="M383.55 799.90L389.65 812.10L377.45 812.10Z" fill="#8b0000"/>
<path d="M386.01 767.51L392.12 779.71L379.91 779.71Z" fill="#8b0000"/>
<path d="M388.48 712.56L394.58 724.76L382.38 724.76Z" fill="#8b0000"/>
<path d="M390.94 662.38L397.04 674.58L384.84 674.58Z" fill="#8b0000"/>
<path d="M393.41 594.60L399.51 606.80L387.31 606.80Z" fill="#8b0000"/>
<path d="M395.88 598.90L401.98 611.10L389.77 611.10Z" fill="#8b0000"/>
<path d="M398.34 627.52L404.44 639.72L392.24 639.72Z" fill="#8b0000"/>
<path d="M400.80 712.54L406.90 724.74L394.70 724.74Z" fill="#8b0000"/>
<path d="M403.27 770.26L409.37 782.46L397.17 782.46Z" fill="#8b0000"/>
<path d="M405.74 818.20L411.84 830.40L399.63 830.40Z" fill="#8b0000"/>
<path d="M408.20 775.46L414.30 787.66L402.10 787.66Z" fill="#8b0000"/>
<path d="M410.66 743.21L416.76 755.41L404.56 755.41Z" fill="#8b0000"/>
<path d="M413.13 683.80L419.23 696.00L407.03 696.00Z" fill="#8b0000"/>
<path d="M415.60 609.73L421.70 621.93L409.50 621.93Z" fill="#8b0000"/>
<path d="M418.06 598.90L424.16 611.10L411.96 611.10Z" fill="#8b0000"/>
<path d="M420.52 593.92L426.62 606.12L414.42 606.12Z" fill="#8b0000"/>
<path d="M422.99 672.00L429.09 684.20L416.89 684.20Z" fill="#8b0000"/>
<path d="M425.46 733.87L431.56 746.07L419.36 746.07Z" fill="#8b0000"/>
<path d="M427.92 772.21L434.02 784.41L421.82 784.41Z" fill="#8b0000"/>
<path d="M430.38 800.60L436.49 812.80L424.28 812.80Z" fill="#8b0000"/>
<path d="M432.85 770.24L438.95 782.44L426.75 782.44Z" fill="#8b0000"/>
<path d="M435.31 721.43L441.41 733.63L429.21 733.63Z" fill="#8b0000"/>
<path d="M437.78 684.69L443.88 696.89L431.68 696.89Z" fill="#8b0000"/>
<path d="M440.25 625.84L446.35 638.04L434.14 638.04Z" fill="#8b0000"/>
<path d="M442.71 603.40L448.81 615.60L436.61 615.60Z" fill="#8b0000"/>
<path d="M445.17 641.43L451.27 653.63L439.07 653.63Z" fill="#8b0000"/>
<path d="M447.64 682.81L453.74 695.01L441.54 695.01Z" fill="#8b0000"/>
<path d="M450.11 753.84L456.21 766.04L444.00 766.04Z" fill="#8b0000"/>
<path d="M452.57 778.58L458.67 790.78L446.47 790.78Z" fill="#8b0000"/>
<path d="M455.03 801.70L461.13 813.90L448.93 813.90Z" fill="#8b0000"/>
<path d="M457.50 761.99L463.60 774.19L451.40 774.19Z" fill="#8b0000"/>
<path d="M459.97 699.69L466.07 711.89L453.87 711.89Z" fill="#8b0000"/>
<path d="M462.43 640.10L468.53 652.30L456.33 652.30Z" fill="#8b0000"/>
<path d="M464.89 602.55L471.00 614.75L458.79 614.75Z" fill="#8b0000"/>
<path d="M467.36 625.19L473.46 637.39L461.26 637.39Z" fill="#8b0000"/>
<path d="M469.82 660.79L475.92 672.99L463.72 672.99Z" fill="#8b0000"/>
<path d="M472.29 733.03L478.39 745.23L466.19 745.23Z" fill="#8b0000"/>
<path d="M474.75 743.17L480.86 755.37L468.65 755.37Z" fill="#8b0000"/>
<path d="M477.22 797.40L483.32 809.60L471.12 809.60Z" fill="#8b0000"/>
<path d="M479.68 780.98L485.78 793.18L473.58 793.18Z" fill="#8b0000"/>
<path d="M482.15 742.74L488.25 754.94L476.05 754.94Z" fill="#8b0000"/>
<path d="M484.62 698.04L490.72 710.24L478.51 710.24Z" fill="#8b0000"/>
<path d="M487.08 632.11L493.18 644.31L480.98 644.31Z" fill="#8b0000"/>
<path d="M489.54 614.38L495.64 626.58L483.44 626.58Z" fill="#8b0000"/>
<path d="M492.01 608.95L498.11 621.15L485.91 621.15Z" fill="#8b0000"/>
<path d="M494.48 677.34L500.58 689.54L488.38 689.54Z" fill="#8b0000"/>
<path d="M496.94 746.66L503.04 758.86L490.84 758.86Z" fill="#8b0000"/>
<path d="M499.40 777.70L505.50 789.90L493.30 789.90Z" fill="#8b0000"/>
<path d="M501.87 763.93L507.97 776.13L495.77 776.13Z" fill="#8b0000"/>
<path d="M504.34 758.98L510.44 771.18L498.24 771.18Z" fill="#8b0000"/>
<path d="M506.80 739.72L512.90 751.92L500.70 751.92Z" fill="#8b0000"/>
<path d="M509.26 660.72L515.37 672.92L503.16 672.92Z" fill="#8b0000"/>
<path d="M511.73 654.95L517.83 667.15L505.63 667.15Z" fill="#8b0000"/>
<path d="M514.19 597.57L520.29 609.77L508.09 609.77Z" fill="#8b0000"/>
<path d="M516.66 636.89L522.76 649.09L510.56 649.09Z" fill="#8b0000"/>
<path d="M519.12 693.90L525.23 706.10L513.02 706.10Z" fill="#8b0000"/>
<path d="M521.59 754.04L527.69 766.24L515.49 766.24Z" fill="#8b0000"/>
<path d="M524.05 773.30L530.15 785.50L517.95 785.50Z" fill="#8b0000"/>
<path d="M526.52 778.22L532.62 790.42L520.42 790.42Z" fill="#8b0000"/>
<path d="M528.99 769.82L535.09 782.02L522.88 782.02Z" fill="#8b0000"/>
<path d="M531.45 685.40L537.55 697.60L525.35 697.60Z" fill="#8b0000"/>
<path d="M533.91 682.61L540.01 694.81L527.81 694.81Z" fill="#8b0000"/>
<path d="M536.38 601.20L542.48 613.40L530.28 613.40Z" fill="#8b0000"/>
<path d="M538.85 601.40L544.95 613.60L532.75 613.60Z" fill="#8b0000"/>
<path d="M541.31 646.40L547.41 658.60L535.21 658.60Z" fill="#8b0000"/>
<path d="M543.77 748.90L549.88 761.10L537.67 761.10Z" fill="#8b0000"/>
<path d="M546.24 787.30L552.34 799.50L540.14 799.50Z" fill="#8b0000"/>
<path d="M548.70 775.20L554.80 787.40L542.60 787.40Z" fill="#8b0000"/>
<path d="M551.17 764.30L557.27 776.50L545.07 776.50Z" fill="#8b0000"/>
<path d="M553.63 724.90L559.74 737.10L547.53 737.10Z" fill="#8b0000"/>
<path d="M556.10 682.40L562.20 694.60L550.00 694.60Z" fill="#8b0000"/>
<path d="M558.56 624.40L564.66 636.60L552.46 636.60Z" fill="#8b0000"/>
<path d="M561.03 658.44L567.13 670.64L554.93 670.64Z" fill="#8b0000"/>
<path d="M563.50 644.10L569.60 656.30L557.39 656.30Z" fill="#8b0000"/>
<path d="M565.96 671.20L572.06 683.40L559.86 683.40Z" fill="#8b0000"/>
<path d="M568.42 758.80L574.52 771.00L562.32 771.00Z" fill="#8b0000"/>
<path d="M570.89 771.90L576.99 784.10L564.79 784.10Z" fill="#8b0000"/>
<path d="M573.36 773.77L579.46 785.97L567.25 785.97Z" fill="#8b0000"/>
<path d="M575.82 731.40L581.92 743.60L569.72 743.60Z" fill="#8b0000"/>
<path d="M578.28 728.03L584.38 740.23L572.18 740.23Z" fill="#8b0000"/>
<path d="M580.75 670.20L586.85 682.40L574.65 682.40Z" fill="#8b0000"/>
<path d="M583.22 638.60L589.32 650.80L577.12 650.80Z" fill="#8b0000"/>
<path d="M585.68 682.41L591.78 694.61L579.58 694.61Z" fill="#8b0000"/>
<path d="M588.14 669.30L594.25 681.50L582.04 681.50Z" fill="#8b0000"/>
<path d="M590.61 768.60L596.71 780.80L584.51 780.80Z" fill="#8b0000"/>
<path d="M593.07 733.18L599.17 745.38L586.97 745.38Z" fill="#8b0000"/>
<path d="M595.54 787.30L601.64 799.50L589.44 799.50Z" fill="#8b0000"/>
<path d="M598.00 757.59L604.11 769.79L591.90 769.79Z" fill="#8b0000"/>
<path d="M600.47 746.70L606.57 758.90L594.37 758.90Z" fill="#8b0000"/>
<path d="M602.93 691.65L609.03 703.85L596.83 703.85Z" fill="#8b0000"/>
<path d="M605.40 668.29L611.50 680.49L599.30 680.49Z" fill="#8b0000"/>
<path d="M607.87 611.30L613.97 623.50L601.76 623.50Z" fill="#8b0000"/>
<path d="M610.33 669.30L616.43 681.50L604.23 681.50Z" fill="#8b0000"/>
<path d="M612.79 679.90L618.89 692.10L606.69 692.10Z" fill="#8b0000"/>
<path d="M615.26 722.70L621.36 734.90L609.16 734.90Z" fill="#8b0000"/>
<path d="M617.73 744.60L623.83 756.80L611.62 756.80Z" fill="#8b0000"/>
<path d="M620.19 777.40L626.29 789.60L614.09 789.60Z" fill="#8b0000"/>
<path d="M622.65 718.20L628.75 730.40L616.55 730.40Z" fill="#8b0000"/>
<path d="M625.12 719.40L631.22 731.60L619.02 731.60Z" fill="#8b0000"/>
<path d="M627.58 667.77L633.68 679.97L621.48 679.97Z" fill="#8b0000"/>
<path d="M630.05 626.86L636.15 639.06L623.95 639.06Z" fill="#8b0000"/>
<path d="M632.51 616.70L638.62 628.90L626.41 628.90Z" fill="#8b0000"/>
<path d="M634.98 716.83L641.08 729.03L628.88 729.03Z" fill="#8b0000"/>
<path d="M637.44 673.70L643.54 685.90L631.34 685.90Z" fill="#8b0000"/>
<path d="M639.91 720.50L646.01 732.70L633.81 732.70Z" fill="#8b0000"/>
<path d="M642.38 782.90L648.48 795.10L636.27 795.10Z" fill="#8b0000"/>
<path d="M644.84 753.59L650.94 765.79L638.74 765.79Z" fill="#8b0000"/>
<path d="M647.30 737.90L653.40 750.10L641.20 750.10Z" fill="#8b0000"/>
<path d="M649.77 685.49L655.87 697.69L643.67 697.69Z" fill="#8b0000"/>
<path d="M652.23 634.30L658.33 646.50L646.13 646.50Z" fill="#8b0000"/>
<path d="M654.70 620.00L660.80 632.20L648.60 632.20Z" fill="#8b0000"/>
<path d="M657.16 679.98L663.26 692.18L651.06 692.18Z" fill="#8b0000"/>
<path d="M659.63 660.50L665.73 672.70L653.53 672.70Z" fill="#8b0000"/>
<path d="M662.09 740.20L668.19 752.40L655.99 752.40Z" fill="#8b0000"/>
<path d="M664.56 730.33L670.66 742.53L658.46 742.53Z" fill="#8b0000"/>
<path d="M667.02 766.50L673.12 778.70L660.92 778.70Z" fill="#8b0000"/>
<path d="M669.49 790.50L675.59 802.70L663.39 802.70Z" fill="#8b0000"/>
<path d="M671.95 725.90L678.05 738.10L665.85 738.10Z" fill="#8b0000"/>
<path d="M674.42 710.69L680.52 722.89L668.32 722.89Z" fill="#8b0000"/>
<path d="M676.88 719.34L682.99 731.54L670.78 731.54Z" fill="#8b0000"/>
<polyline points="111.00,568.81 111.38,571.25 111.76,575.02 112.14,580.09 112.52,586.41 112.89,593.92 113.27,602.54 113.65,612.17 114.03,622.73 114.41,634.11 114.79,646.20 115.17,658.87 115.55,671.99 115.93,685.43 116.30,699.05 116.68,712.73 117.06,726.32 117.44,739.67 117.82,752.67 118.20,765.17 118.58,777.06 118.96,788.20 119.34,798.50 119.72,807.83 120.09,816.12 120.47,823.27 120.85,829.21 121.23,833.89 121.61,837.25 121.99,839.27 122.37,839.91 122.75,839.18 123.13,837.08 123.50,833.64 123.88,828.88 124.26,822.86 124.64,815.63 125.02,807.27 125.40,797.87 125.78,787.51 126.16,776.30 126.54,764.37 126.91,751.81 127.29,738.77 127.67,725.37 128.05,711.75 128.43,698.05 128.81,684.41 129.19,670.95 129.57,657.83 129.95,645.16 130.32,633.09 130.70,621.72 131.08,611.19 131.46,601.58 131.84,593.00 132.22,585.54 132.60,579.27 132.98,574.25 133.36,570.54 133.74,568.16 134.11,567.16 134.49,567.53 134.87,569.28 135.25,572.38 135.63,576.80 136.01,582.50 136.39,589.43 136.77,597.50 137.15,606.65 137.52,616.77 137.90,627.77 138.28,639.53 138.66,651.94 139.04,664.87 139.42,678.19 139.80,691.77 140.18,705.46 140.56,719.13 140.93,732.65 141.31,745.87 141.69,758.66 142.07,770.89 142.45,782.45 142.83,793.21 143.21,803.06 143.59,811.90 143.97,819.65 144.34,826.23 144.72,831.57 145.10,835.62 145.48,838.33 145.86,839.68 146.24,839.66 146.62,838.26 147.00,835.50 147.38,831.41 147.76,826.02 148.13,819.40 148.51,811.61 148.89,802.73 149.27,792.85 149.65,782.07 150.03,770.49 150.41,758.24 150.79,745.43 151.17,732.20 151.54,718.68 151.92,705.01 152.30,691.33 152.68,677.76 153.06,664.46 153.44,651.55 153.82,639.17 154.20,627.43 154.58,616.46 154.95,606.38 155.33,597.27 155.71,589.23 156.09,582.35 156.47,576.68 156.85,572.30 157.23,569.24 157.61,567.54 157.99,567.20 158.36,568.24 158.74,570.65 159.12,574.39 159.50,579.44 159.88,585.73 160.26,593.21 160.64,601.80 161.02,611.42 161.40,621.96 161.78,633.32 162.15,645.38 162.53,658.03 162.91,671.14 163.29,684.57 163.67,698.18 164.05,711.85 164.43,725.42 164.81,738.78 165.19,751.77 165.56,764.27 165.94,776.15 166.32,787.30 166.70,797.60 167.08,806.94 167.46,815.24 167.84,822.41 168.22,828.37 168.60,833.07 168.97,836.46 169.35,838.50 169.73,839.18 170.11,838.49 170.49,836.43 170.87,833.03 171.25,828.33 171.63,822.36 172.01,815.19 172.38,806.89 172.76,797.55 173.14,787.26 173.52,776.12 173.90,764.25 174.28,751.77 174.66,738.80 175.04,725.47 175.42,711.92 175.80,698.29 176.17,684.71 176.55,671.32 176.93,658.26 177.31,645.65 177.69,633.63 178.07,622.31 178.45,611.82 178.83,602.24 179.21,593.69 179.58,586.24 179.96,579.98 180.34,574.96 180.72,571.24 181.10,568.85 181.48,567.82 181.86,568.15 182.24,569.85 182.62,572.89 182.99,577.25 183.37,582.87 183.75,589.71 184.13,597.69 184.51,606.74 184.89,616.75 185.27,627.64 185.65,639.28 186.03,651.57 186.40,664.37 186.78,677.56 187.16,691.00 187.54,704.57 187.92,718.11 188.30,731.51 188.68,744.61 189.06,757.29 189.44,769.42 189.82,780.87 190.19,791.54 190.57,801.32 190.95,810.10 191.33,817.80 191.71,824.33 192.09,829.65 192.47,833.68 192.85,836.40 193.23,837.77 193.60,837.78 193.98,836.44 194.36,833.75 194.74,829.74 195.12,824.45 195.50,817.94 195.88,810.28 196.26,801.53 196.64,791.80 197.01,781.17 197.39,769.76 197.77,757.68 198.15,745.06 198.53,732.01 198.91,718.68 199.29,705.20 199.67,691.69 200.05,678.31 200.42,665.19 200.80,652.45 201.18,640.22 201.56,628.64 201.94,617.80 202.32,607.84 202.70,598.84 203.08,590.89 203.46,584.08 203.84,578.47 204.21,574.12 204.59,571.07 204.97,569.36 205.35,568.99 205.73,569.98 206.11,572.31 206.49,575.96 206.87,580.89 207.25,587.05 207.62,594.38 208.00,602.80 208.38,612.23 208.76,622.57 209.14,633.72 209.52,645.56 209.90,657.98 210.28,670.85 210.66,684.03 211.03,697.41 211.41,710.83 211.79,724.17 212.17,737.29 212.55,750.05 212.93,762.34 213.31,774.02 213.69,784.99 214.07,795.11 214.44,804.31 214.82,812.48 215.20,819.54 215.58,825.42 215.96,830.06 216.34,833.42 216.72,835.46 217.10,836.16 217.48,835.52 217.86,833.54 218.23,830.24 218.61,825.66 218.99,819.84 219.37,812.85 219.75,804.75 220.13,795.63 220.51,785.58 220.89,774.70 221.27,763.10 221.64,750.89 222.02,738.21 222.40,725.18 222.78,711.93 223.16,698.60 223.54,685.32 223.92,672.22 224.30,659.43 224.68,647.10 225.05,635.33 225.43,624.25 225.81,613.96 226.19,604.58 226.57,596.20 226.95,588.90 227.33,582.75 227.71,577.82 228.09,574.15 228.46,571.78 228.84,570.74 229.22,571.03 229.60,572.65 229.98,575.58 230.36,579.80 230.74,585.25 231.12,591.89 231.50,599.65 231.88,608.44 232.25,618.18 232.63,628.77 233.01,640.10 233.39,652.06 233.77,664.52 234.15,677.37 234.53,690.46 234.91,703.67 235.29,716.87 235.66,729.91 236.04,742.68 236.42,755.04 236.80,766.86 237.18,778.03 237.56,788.43 237.94,797.97 238.32,806.54 238.70,814.05 239.07,820.44 239.45,825.64 239.83,829.60 240.21,832.28 240.59,833.64 240.97,833.69 241.35,832.42 241.73,829.83 242.11,825.97 242.48,820.87 242.86,814.58 243.24,807.16 243.62,798.70 244.00,789.27 244.38,778.98 244.76,767.92 245.14,756.22 245.52,743.98 245.90,731.33 246.27,718.40 246.65,705.32 247.03,692.23 247.41,679.25 247.79,666.51 248.17,654.15 248.55,642.28 248.93,631.03 249.31,620.52 249.68,610.84 250.06,602.09 250.44,594.36 250.82,587.74 251.20,582.27 251.58,578.03 251.96,575.04 252.34,573.35 252.72,572.96 253.09,573.88 253.47,576.11 253.85,579.60 254.23,584.34 254.61,590.27 254.99,597.32 255.37,605.44 255.75,614.53 256.13,624.51 256.51,635.26 256.88,646.69 257.26,658.68 257.64,671.10 258.02,683.83 258.40,696.75 258.78,709.71 259.16,722.60 259.54,735.27 259.92,747.61 260.29,759.48 260.67,770.78 261.05,781.37 261.43,791.17 261.81,800.06 262.19,807.97 262.57,814.81 262.95,820.51 263.33,825.02 263.70,828.29 264.08,830.29 264.46,831.00 264.84,830.41 265.22,828.54 265.60,825.40 265.98,821.02 266.36,815.45 266.74,808.74 267.11,800.97 267.49,792.21 267.87,782.56 268.25,772.10 268.63,760.95 269.01,749.23 269.39,737.04 269.77,724.51 270.15,711.77 270.53,698.94 270.90,686.17 271.28,673.56 271.66,661.27 272.04,649.39 272.42,638.07 272.80,627.40 273.18,617.50 273.56,608.46 273.94,600.38 274.31,593.34 274.69,587.41 275.07,582.64 275.45,579.08 275.83,576.78 276.21,575.74 276.59,575.99 276.97,577.51 277.35,580.29 277.72,584.30 278.10,589.50 278.48,595.84 278.86,603.25 279.24,611.65 279.62,620.97 280.00,631.10 280.38,641.94 280.76,653.39 281.13,665.32 281.51,677.61 281.89,690.15 282.27,702.80 282.65,715.44 283.03,727.94 283.41,740.17 283.79,752.01 284.17,763.34 284.55,774.04 284.92,784.02 285.30,793.16 285.68,801.38 286.06,808.60 286.44,814.74 286.82,819.75 287.20,823.56 287.58,826.15 287.96,827.49 288.33,827.57 288.71,826.38 289.09,823.95 289.47,820.29 289.85,815.45 290.23,809.47 290.61,802.42 290.99,794.36 291.37,785.39 291.74,775.58 292.12,765.05 292.50,753.89 292.88,742.22 293.26,730.17 293.64,717.84 294.02,705.37 294.40,692.88 294.78,680.50 295.15,668.35 295.53,656.55 295.91,645.23 296.29,634.49 296.67,624.45 297.05,615.21 297.43,606.85 297.81,599.47 298.19,593.13 298.57,587.89 298.94,583.82 299.32,580.95 299.70,579.30 300.08,578.90 300.46,579.75 300.84,581.83 301.22,585.12 301.60,589.60 301.98,595.20 302.35,601.89 302.73,609.58 303.11,618.20 303.49,627.66 303.87,637.86 304.25,648.71 304.63,660.08 305.01,671.87 305.39,683.96 305.76,696.22 306.14,708.54 306.52,720.77 306.90,732.81 307.28,744.53 307.66,755.81 308.04,766.55 308.42,776.62 308.80,785.93 309.17,794.40 309.55,801.92 309.93,808.43 310.31,813.87 310.69,818.17 311.07,821.30 311.45,823.23 311.83,823.94 312.21,823.41 312.59,821.67 312.96,818.72 313.34,814.61 313.72,809.36 314.10,803.04 314.48,795.71 314.86,787.44 315.24,778.32 315.62,768.45 316.00,757.91 316.37,746.83 316.75,735.31 317.13,723.46 317.51,711.42 317.89,699.29 318.27,687.21 318.65,675.29 319.03,663.66 319.41,652.42 319.78,641.70 320.16,631.61 320.54,622.23 320.92,613.67 321.30,606.02 321.68,599.34 322.06,593.71 322.44,589.18 322.82,585.79 323.19,583.58 323.57,582.58 323.95,582.77 324.33,584.18 324.71,586.77 325.09,590.52 325.47,595.40 325.85,601.35 326.23,608.31 326.61,616.21 326.98,624.97 327.36,634.49 327.74,644.69 328.12,655.46 328.50,666.69 328.88,678.26 329.26,690.07 329.64,701.98 330.02,713.88 330.39,725.65 330.77,737.16 331.15,748.32 331.53,758.99 331.91,769.08 332.29,778.49 332.67,787.11 333.05,794.87 333.43,801.68 333.80,807.48 334.18,812.21 334.56,815.83 334.94,818.29 335.32,819.58 335.70,819.69 336.08,818.60 336.46,816.35 336.84,812.94 337.21,808.42 337.59,802.84 337.97,796.24 338.35,788.70 338.73,780.30 339.11,771.12 339.49,761.25 339.87,750.80 340.25,739.87 340.63,728.57 341.00,717.01 341.38,705.32 341.76,693.61 342.14,682.00 342.52,670.60 342.90,659.54 343.28,648.92 343.66,638.84 344.04,629.42 344.41,620.74 344.79,612.89 345.17,605.95 345.55,599.99 345.93,595.06 346.31,591.22 346.69,588.50 347.07,586.93 347.45,586.53 347.82,587.28 348.20,589.20 348.58,592.25 348.96,596.41 349.34,601.62 349.72,607.84 350.10,615.01 350.48,623.04 350.86,631.86 351.23,641.38 351.61,651.50 351.99,662.11 352.37,673.11 352.75,684.40 353.13,695.84 353.51,707.33 353.89,718.76 354.27,730.00 354.65,740.95 355.02,751.49 355.40,761.51 355.78,770.93 356.16,779.63 356.54,787.55 356.92,794.58 357.30,800.68 357.68,805.77 358.06,809.81 358.43,812.76 358.81,814.59 359.19,815.27 359.57,814.82 359.95,813.22 360.33,810.51 360.71,806.70 361.09,801.84 361.47,795.98 361.84,789.18 362.22,781.51 362.60,773.05 362.98,763.88 363.36,754.09 363.74,743.80 364.12,733.09 364.50,722.08 364.88,710.89 365.25,699.62 365.63,688.38 366.01,677.30 366.39,666.48 366.77,656.03 367.15,646.06 367.53,636.67 367.91,627.94 368.29,619.98 368.67,612.84 369.04,606.62 369.42,601.37 369.80,597.14 370.18,593.96 370.56,591.89 370.94,590.92 371.32,591.08 371.70,592.35 372.08,594.72 372.45,598.18 372.83,602.67 373.21,608.16 373.59,614.58 373.97,621.88 374.35,629.98 374.73,638.78 375.11,648.22 375.49,658.18 375.86,668.56 376.24,679.27 376.62,690.19 377.00,701.22 377.38,712.23 377.76,723.13 378.14,733.79 378.52,744.12 378.90,754.01 379.27,763.36 379.65,772.07 380.03,780.06 380.41,787.26 380.79,793.58 381.17,798.96 381.55,803.36 381.93,806.73 382.31,809.04 382.69,810.26 383.06,810.38 383.44,809.41 383.82,807.36 384.20,804.24 384.58,800.09 384.96,794.96 385.34,788.90 385.72,781.97 386.10,774.23 386.47,765.78 386.85,756.69 387.23,747.07 387.61,737.00 387.99,726.59 388.37,715.94 388.75,705.16 389.13,694.37 389.51,683.67 389.88,673.16 390.26,662.96 390.64,653.16 391.02,643.87 391.40,635.18 391.78,627.17 392.16,619.92 392.54,613.51 392.92,608.00 393.29,603.44 393.67,599.88 394.05,597.35 394.43,595.88 394.81,595.47 395.19,596.14 395.57,597.88 395.95,600.65 396.33,604.45 396.71,609.21 397.08,614.91 397.46,621.47 397.84,628.83 398.22,636.91 398.60,645.64 398.98,654.91 399.36,664.65 399.74,674.74 400.12,685.09 400.49,695.60 400.87,706.14 401.25,716.63 401.63,726.95 402.01,737.00 402.39,746.67 402.77,755.88 403.15,764.53 403.53,772.53 403.90,779.80 404.28,786.28 404.66,791.89 405.04,796.58 405.42,800.31 405.80,803.03 406.18,804.73 406.56,805.39 406.94,805.00 407.31,803.56 407.69,801.11 408.07,797.65 408.45,793.23 408.83,787.89 409.21,781.69 409.59,774.69 409.97,766.97 410.35,758.59 410.73,749.66 411.10,740.26 411.48,730.48 411.86,720.42 412.24,710.19 412.62,699.89 413.00,689.63 413.38,679.50 413.76,669.61 414.14,660.05 414.51,650.94 414.89,642.34 415.27,634.36 415.65,627.07 416.03,620.54 416.41,614.84 416.79,610.02 417.17,606.13 417.55,603.21 417.92,601.29 418.30,600.38 418.68,600.50 419.06,601.63 419.44,603.77 419.82,606.89 420.20,610.96 420.58,615.94 420.96,621.77 421.33,628.40 421.71,635.75 422.09,643.76 422.47,652.33 422.85,661.39 423.23,670.83 423.61,680.58 423.99,690.51 424.37,700.54 424.75,710.57 425.12,720.48 425.50,730.19 425.88,739.59 426.26,748.60 426.64,757.11 427.02,765.05 427.40,772.33 427.78,778.89 428.16,784.65 428.53,789.57 428.91,793.59 429.29,796.68 429.67,798.80 430.05,799.93 430.43,800.07 430.81,799.22 431.19,797.38 431.57,794.57 431.94,790.83 432.32,786.20 432.70,780.72 433.08,774.45 433.46,767.45 433.84,759.80 434.22,751.58 434.60,742.86 434.98,733.74 435.35,724.31 435.73,714.66 436.11,704.90 436.49,695.12 436.87,685.42 437.25,675.90 437.63,666.65 438.01,657.77 438.39,649.34 438.77,641.45 439.14,634.18 439.52,627.60 439.90,621.78 440.28,616.77 440.66,612.62 441.04,609.37 441.42,607.06 441.80,605.70 442.18,605.31 442.55,605.89 442.93,607.43 443.31,609.92 443.69,613.32 444.07,617.61 444.45,622.73 444.83,628.64 445.21,635.27 445.59,642.55 445.96,650.42 446.34,658.78 446.72,667.56 447.10,676.66 447.48,686.00 447.86,695.48 448.24,705.00 448.62,714.46 449.00,723.77 449.37,732.85 449.75,741.58 450.13,749.90 450.51,757.71 450.89,764.94 451.27,771.52 451.65,777.37 452.03,782.45 452.41,786.70 452.79,790.08 453.16,792.56 453.54,794.12 453.92,794.73 454.30,794.41 454.68,793.14 455.06,790.95 455.44,787.86 455.82,783.90 456.20,779.12 456.57,773.56 456.95,767.29 457.33,760.35 457.71,752.84 458.09,744.82 458.47,736.37 458.85,727.59 459.23,718.55 459.61,709.36 459.98,700.10 460.36,690.87 460.74,681.77 461.12,672.87 461.50,664.28 461.88,656.08 462.26,648.35 462.64,641.16 463.02,634.60 463.39,628.72 463.77,623.58 464.15,619.23 464.53,615.72 464.91,613.08 465.29,611.33 465.67,610.49 466.05,610.56 466.43,611.55 466.81,613.45 467.18,616.22 467.56,619.85 467.94,624.29 468.32,629.49 468.70,635.41 469.08,641.99 469.46,649.14 469.84,656.81 470.22,664.91 470.59,673.37 470.97,682.08 471.35,690.97 471.73,699.95 472.11,708.93 472.49,717.81 472.87,726.50 473.25,734.92 473.63,742.99 474.00,750.62 474.38,757.73 474.76,764.26 475.14,770.14 475.52,775.32 475.90,779.74 476.28,783.35 476.66,786.13 477.04,788.05 477.41,789.09 477.79,789.24 478.17,788.50 478.55,786.88 478.93,784.40 479.31,781.08 479.69,776.97 480.07,772.09 480.45,766.51 480.83,760.29 481.20,753.47 481.58,746.15 481.96,738.38 482.34,730.25 482.72,721.85 483.10,713.25 483.48,704.54 483.86,695.82 484.24,687.16 484.61,678.67 484.99,670.42 485.37,662.49 485.75,654.97 486.13,647.92 486.51,641.43 486.89,635.55 487.27,630.34 487.65,625.86 488.02,622.14 488.40,619.23 488.78,617.14 489.16,615.91 489.54,615.54 489.92,616.03 490.30,617.38 490.68,619.56 491.06,622.57 491.43,626.36 491.81,630.90 492.19,636.13 492.57,642.01 492.95,648.47 493.33,655.45 493.71,662.87 494.09,670.67 494.47,678.75 494.85,687.04 495.22,695.46 495.60,703.92 495.98,712.33 496.36,720.61 496.74,728.67 497.12,736.44 497.50,743.84 497.88,750.79 498.26,757.22 498.63,763.07 499.01,768.29 499.39,772.82 499.77,776.61 500.15,779.63 500.53,781.85 500.91,783.26 501.29,783.83 501.67,783.56 502.04,782.46 502.42,780.55 502.80,777.83 503.18,774.34 503.56,770.12 503.94,765.22 504.32,759.67 504.70,753.54 505.08,746.90 505.45,739.80 505.83,732.33 506.21,724.56 506.59,716.56 506.97,708.42 507.35,700.23 507.73,692.06 508.11,683.99 508.49,676.11 508.87,668.50 509.24,661.23 509.62,654.37 510.00,648.00 510.38,642.17 510.76,636.95 511.14,632.39 511.52,628.52 511.90,625.39 512.28,623.03 512.65,621.46 513.03,620.70 513.41,620.74 513.79,621.59 514.17,623.24 514.55,625.67 514.93,628.85 515.31,632.75 515.69,637.33 516.06,642.54 516.44,648.33 516.82,654.64 517.20,661.40 517.58,668.54 517.96,675.99 518.34,683.68 518.72,691.53 519.10,699.45 519.47,707.37 519.85,715.21 520.23,722.88 520.61,730.32 520.99,737.45 521.37,744.19 521.75,750.48 522.13,756.25 522.51,761.46 522.89,766.04 523.26,769.96 523.64,773.17 524.02,775.64 524.40,777.35 524.78,778.29 525.16,778.45 525.54,777.82 525.92,776.41 526.30,774.25 526.67,771.35 527.05,767.75 527.43,763.48 527.81,758.58 528.19,753.11 528.57,747.13 528.95,740.69 529.33,733.86 529.71,726.72 530.08,719.32 530.46,711.76 530.84,704.10 531.22,696.42 531.60,688.81 531.98,681.33 532.36,674.06 532.74,667.07 533.12,660.44 533.49,654.24 533.87,648.51 534.25,643.32 534.63,638.72 535.01,634.76 535.39,631.47 535.77,628.88 536.15,627.03 536.53,625.92 536.91,625.57 537.28,625.98 537.66,627.14 538.04,629.04 538.42,631.65 538.80,634.96 539.18,638.93 539.56,643.50 539.94,648.65 540.32,654.31 540.69,660.42 541.07,666.93 541.45,673.76 541.83,680.85 542.21,688.13 542.59,695.51 542.97,702.93 543.35,710.32 543.73,717.59 544.10,724.67 544.48,731.50 544.86,738.00 545.24,744.11 545.62,749.77 546.00,754.92 546.38,759.51 546.76,763.50 547.14,766.85 547.52,769.52 547.89,771.50 548.27,772.75 548.65,773.27 549.03,773.06 549.41,772.13 549.79,770.47 550.17,768.11 550.55,765.07 550.93,761.40 551.30,757.12 551.68,752.27 552.06,746.92 552.44,741.11 552.82,734.91 553.20,728.37 553.58,721.57 553.96,714.57 554.34,707.45 554.71,700.27 555.09,693.11 555.47,686.04 555.85,679.13 556.23,672.46 556.61,666.08 556.99,660.07 557.37,654.47 557.75,649.35 558.12,644.76 558.50,640.75 558.88,637.34 559.26,634.58 559.64,632.49 560.02,631.09 560.40,630.40 560.78,630.41 561.16,631.13 561.54,632.55 561.91,634.65 562.29,637.41 562.67,640.80 563.05,644.79 563.43,649.33 563.81,654.37 564.19,659.87 564.57,665.77 564.95,672.01 565.32,678.51 565.70,685.23 566.08,692.09 566.46,699.01 566.84,705.94 567.22,712.80 567.60,719.52 567.98,726.03 568.36,732.27 568.73,738.17 569.11,743.69 569.49,748.75 569.87,753.32 570.25,757.34 570.63,760.79 571.01,763.62 571.39,765.80 571.77,767.32 572.14,768.17 572.52,768.33 572.90,767.80 573.28,766.60 573.66,764.74 574.04,762.23 574.42,759.10 574.80,755.39 575.18,751.13 575.56,746.37 575.93,741.16 576.31,735.54 576.69,729.59 577.07,723.36 577.45,716.91 577.83,710.30 578.21,703.61 578.59,696.91 578.97,690.25 579.34,683.71 579.72,677.35 580.10,671.24 580.48,665.44 580.86,660.00 581.24,654.98 581.62,650.43 582.00,646.39 582.38,642.91 582.75,640.01 583.13,637.73 583.51,636.09 583.89,635.09 584.27,634.76 584.65,635.09 585.03,636.08 585.41,637.71 585.79,639.97 586.16,642.84 586.54,646.27 586.92,650.25 587.30,654.73 587.68,659.65 588.06,664.97 588.44,670.64 588.82,676.60 589.20,682.78 589.58,689.13 589.95,695.58 590.33,702.06 590.71,708.51 591.09,714.86 591.47,721.05 591.85,727.03 592.23,732.71 592.61,738.07 592.99,743.02 593.36,747.54 593.74,751.57 594.12,755.08 594.50,758.03 594.88,760.39 595.26,762.13 595.64,763.25 596.02,763.74 596.40,763.58 596.77,762.79 597.15,761.37 597.53,759.33 597.91,756.70 598.29,753.51 598.67,749.80 599.05,745.59 599.43,740.93 599.81,735.87 600.18,730.46 600.56,724.76 600.94,718.83 601.32,712.72 601.70,706.50 602.08,700.23 602.46,693.97 602.84,687.79 603.22,681.75 603.60,675.90 603.97,670.32 604.35,665.04 604.73,660.14 605.11,655.65 605.49,651.61 605.87,648.08 606.25,645.08 606.63,642.64 607.01,640.78 607.38,639.53 607.76,638.90 608.14,638.88 608.52,639.48 608.90,640.70 609.28,642.51 609.66,644.90 610.04,647.84 610.42,651.30 610.79,655.25 611.17,659.64 611.55,664.43 611.93,669.58 612.31,675.02 612.69,680.71 613.07,686.57 613.45,692.57 613.83,698.63 614.20,704.69 614.58,710.69 614.96,716.58 615.34,722.29 615.72,727.76 616.10,732.95 616.48,737.79 616.86,742.24 617.24,746.26 617.62,749.81 617.99,752.85 618.37,755.35 618.75,757.29 619.13,758.65 619.51,759.42 619.89,759.59 620.27,759.16 620.65,758.14 621.03,756.53 621.40,754.35 621.78,751.64 622.16,748.41 622.54,744.70 622.92,740.55 623.30,736.00 623.68,731.09 624.06,725.88 624.44,720.43 624.81,714.78 625.19,708.99 625.57,703.12 625.95,697.24 626.33,691.39 626.71,685.65 627.09,680.06 627.47,674.68 627.85,669.57 628.22,664.78 628.60,660.36 628.98,656.34 629.36,652.77 629.74,649.68 630.12,647.11 630.50,645.08 630.88,643.60 631.26,642.70 631.64,642.38 632.01,642.64 632.39,643.47 632.77,644.88 633.15,646.84 633.53,649.33 633.91,652.33 634.29,655.80 634.67,659.72 635.05,664.03 635.42,668.70 635.80,673.67 636.18,678.90 636.56,684.33 636.94,689.91 637.32,695.59 637.70,701.29 638.08,706.98 638.46,712.58 638.83,718.04 639.21,723.32 639.59,728.35 639.97,733.08 640.35,737.47 640.73,741.48 641.11,745.06 641.49,748.18 641.87,750.80 642.24,752.91 642.62,754.49 643.00,755.51 643.38,755.96 643.76,755.86 644.14,755.19 644.52,753.96 644.90,752.20 645.28,749.90 645.66,747.11 646.03,743.85 646.41,740.15 646.79,736.06 647.17,731.60 647.55,726.84 647.93,721.81 648.31,716.57 648.69,711.17 649.07,705.67 649.44,700.12 649.82,694.58 650.20,689.10 650.58,683.74 650.96,678.55 651.34,673.58 651.72,668.89 652.10,664.52 652.48,660.52 652.85,656.91 653.23,653.75 653.61,651.06 653.99,648.86 654.37,647.19 654.75,646.04 655.13,645.44 655.51,645.40 655.89,645.90 656.26,646.94 656.64,648.52 657.02,650.61 657.40,653.19 657.78,656.24 658.16,659.73 658.54,663.62 658.92,667.86 659.30,672.42 659.68,677.25 660.05,682.30 660.43,687.52 660.81,692.85 661.19,698.25 661.57,703.65 661.95,709.01 662.33,714.27 662.71,719.37 663.09,724.27 663.46,728.91 663.84,733.26 664.22,737.26 664.60,740.88 664.98,744.07 665.36,746.82 665.74,749.09 666.12,750.86 666.50,752.11 666.87,752.83 667.25,753.02 667.63,752.67 668.01,751.78 668.39,750.38 668.77,748.46 669.15,746.06 669.53,743.20 669.91,739.90 670.28,736.20 670.66,732.14 671.04,727.76 671.42,723.11 671.80,718.22 672.18,713.16 672.56,707.96 672.94,702.70 673.32,697.41 673.70,692.15 674.07,686.97 674.45,681.93 674.83,677.08 675.21,672.46 675.59,668.12 675.97,664.11 676.35,660.46 676.73,657.22 677.11,654.40 677.48,652.05 677.86,650.18 678.24,648.81 678.62,647.96 679.00,647.63" fill="none" stroke="#8b0000" stroke-width="2.5" stroke-linejoin="round"/>
</g>
<path d="M111.00 888.0v-5.8M111.00 519.4v5.8" stroke="#000" stroke-width="1.7"/>
<path d="M237.22 888.0v-5.8M237.22 519.4v5.8" stroke="#000" stroke-width="1.7"/>
<path d="M363.44 888.0v-5.8M363.44 519.4v5.8" stroke="#000" stroke-width="1.7"/>
<path d="M489.67 888.0v-5.8M489.67 519.4v5.8" stroke="#000" stroke-width="1.7"/>
<path d="M615.89 888.0v-5.8M615.89 519.4v5.8" stroke="#000" stroke-width="1.7"/>
<path d="M111.0 851.14h5.8" stroke="#000" stroke-width="1.7"/>
<path d="M111.0 777.42h5.8" stroke="#000" stroke-width="1.7"/>
<path d="M111.0 703.70h5.8" stroke="#000" stroke-width="1.7"/>
<path d="M111.0 629.98h5.8" stroke="#000" stroke-width="1.7"/>
<path d="M111.0 556.26h5.8" stroke="#000" stroke-width="1.7"/>
<rect x="111.0" y="519.4" width="568.0" height="368.6" fill="none" stroke="#000" stroke-width="1.6"/>
<text x="111.00" y="912.60" font-size="23.9" text-anchor="middle" >0</text>
<text x="237.22" y="912.60" font-size="23.9" text-anchor="middle" >2</text>
<text x="363.44" y="912.60" font-size="23.9" text-anchor="middle" >4</text>
<text x="489.67" y="912.60" font-size="23.9" text-anchor="middle" >6</text>
<text x="615.89" y="912.60" font-size="23.9" text-anchor="middle" >8</text>
<text x="105.00" y="860.34" font-size="23.9" text-anchor="end" >−0.2</text>
<text x="105.00" y="786.62" font-size="23.9" text-anchor="end" >−0.1</text>
<text x="105.00" y="712.90" font-size="23.9" text-anchor="end" >0.0</text>
<text x="105.00" y="639.18" font-size="23.9" text-anchor="end" >0.1</text>
<text x="105.00" y="565.46" font-size="23.9" text-anchor="end" >0.2</text>
<text x="395.20" y="942.50" font-size="23.9" text-anchor="middle" >Time (<tspan font-style="italic">μs</tspan>)</text>
<text transform="translate(36.2 704.3) rotate(-90)" font-size="23.9" text-anchor="middle"><tspan font-style="italic">A</tspan><tspan font-size="16.73" dy="3.8">0</tspan><tspan font-style="italic" dy="-3.8">P</tspan><tspan font-size="16.73" dy="3.8">0</tspan><tspan dy="-3.8">(</tspan><tspan font-style="italic">t</tspan>)</text>
<text x="-1.70" y="525.90" font-size="30" text-anchor="start" >(b)</text>
<rect x="119.4" y="527.5" width="224.1" height="29.5" rx="3.3" fill="#fff" fill-opacity="0.8" stroke="#ccc" stroke-width="1.6"/>
<path d="M143.40 532.60V550.00" stroke="#ffa500" stroke-width="2.6" fill="none"/>
<circle cx="143.40" cy="541.30" r="6.10" fill="#ffa500"/>
<path d="M279.00 532.60V550.00" stroke="#8b0000" stroke-width="2.6" fill="none"/>
<path d="M279.00 535.20L285.10 547.40L272.90 547.40Z" fill="#8b0000"/>
<text x="175.00" y="547.00" font-size="17.0" text-anchor="start" >0.27 K</text>
<text x="310.40" y="547.00" font-size="17.0" text-anchor="start" >2 K</text>
</svg>
</body></html>
